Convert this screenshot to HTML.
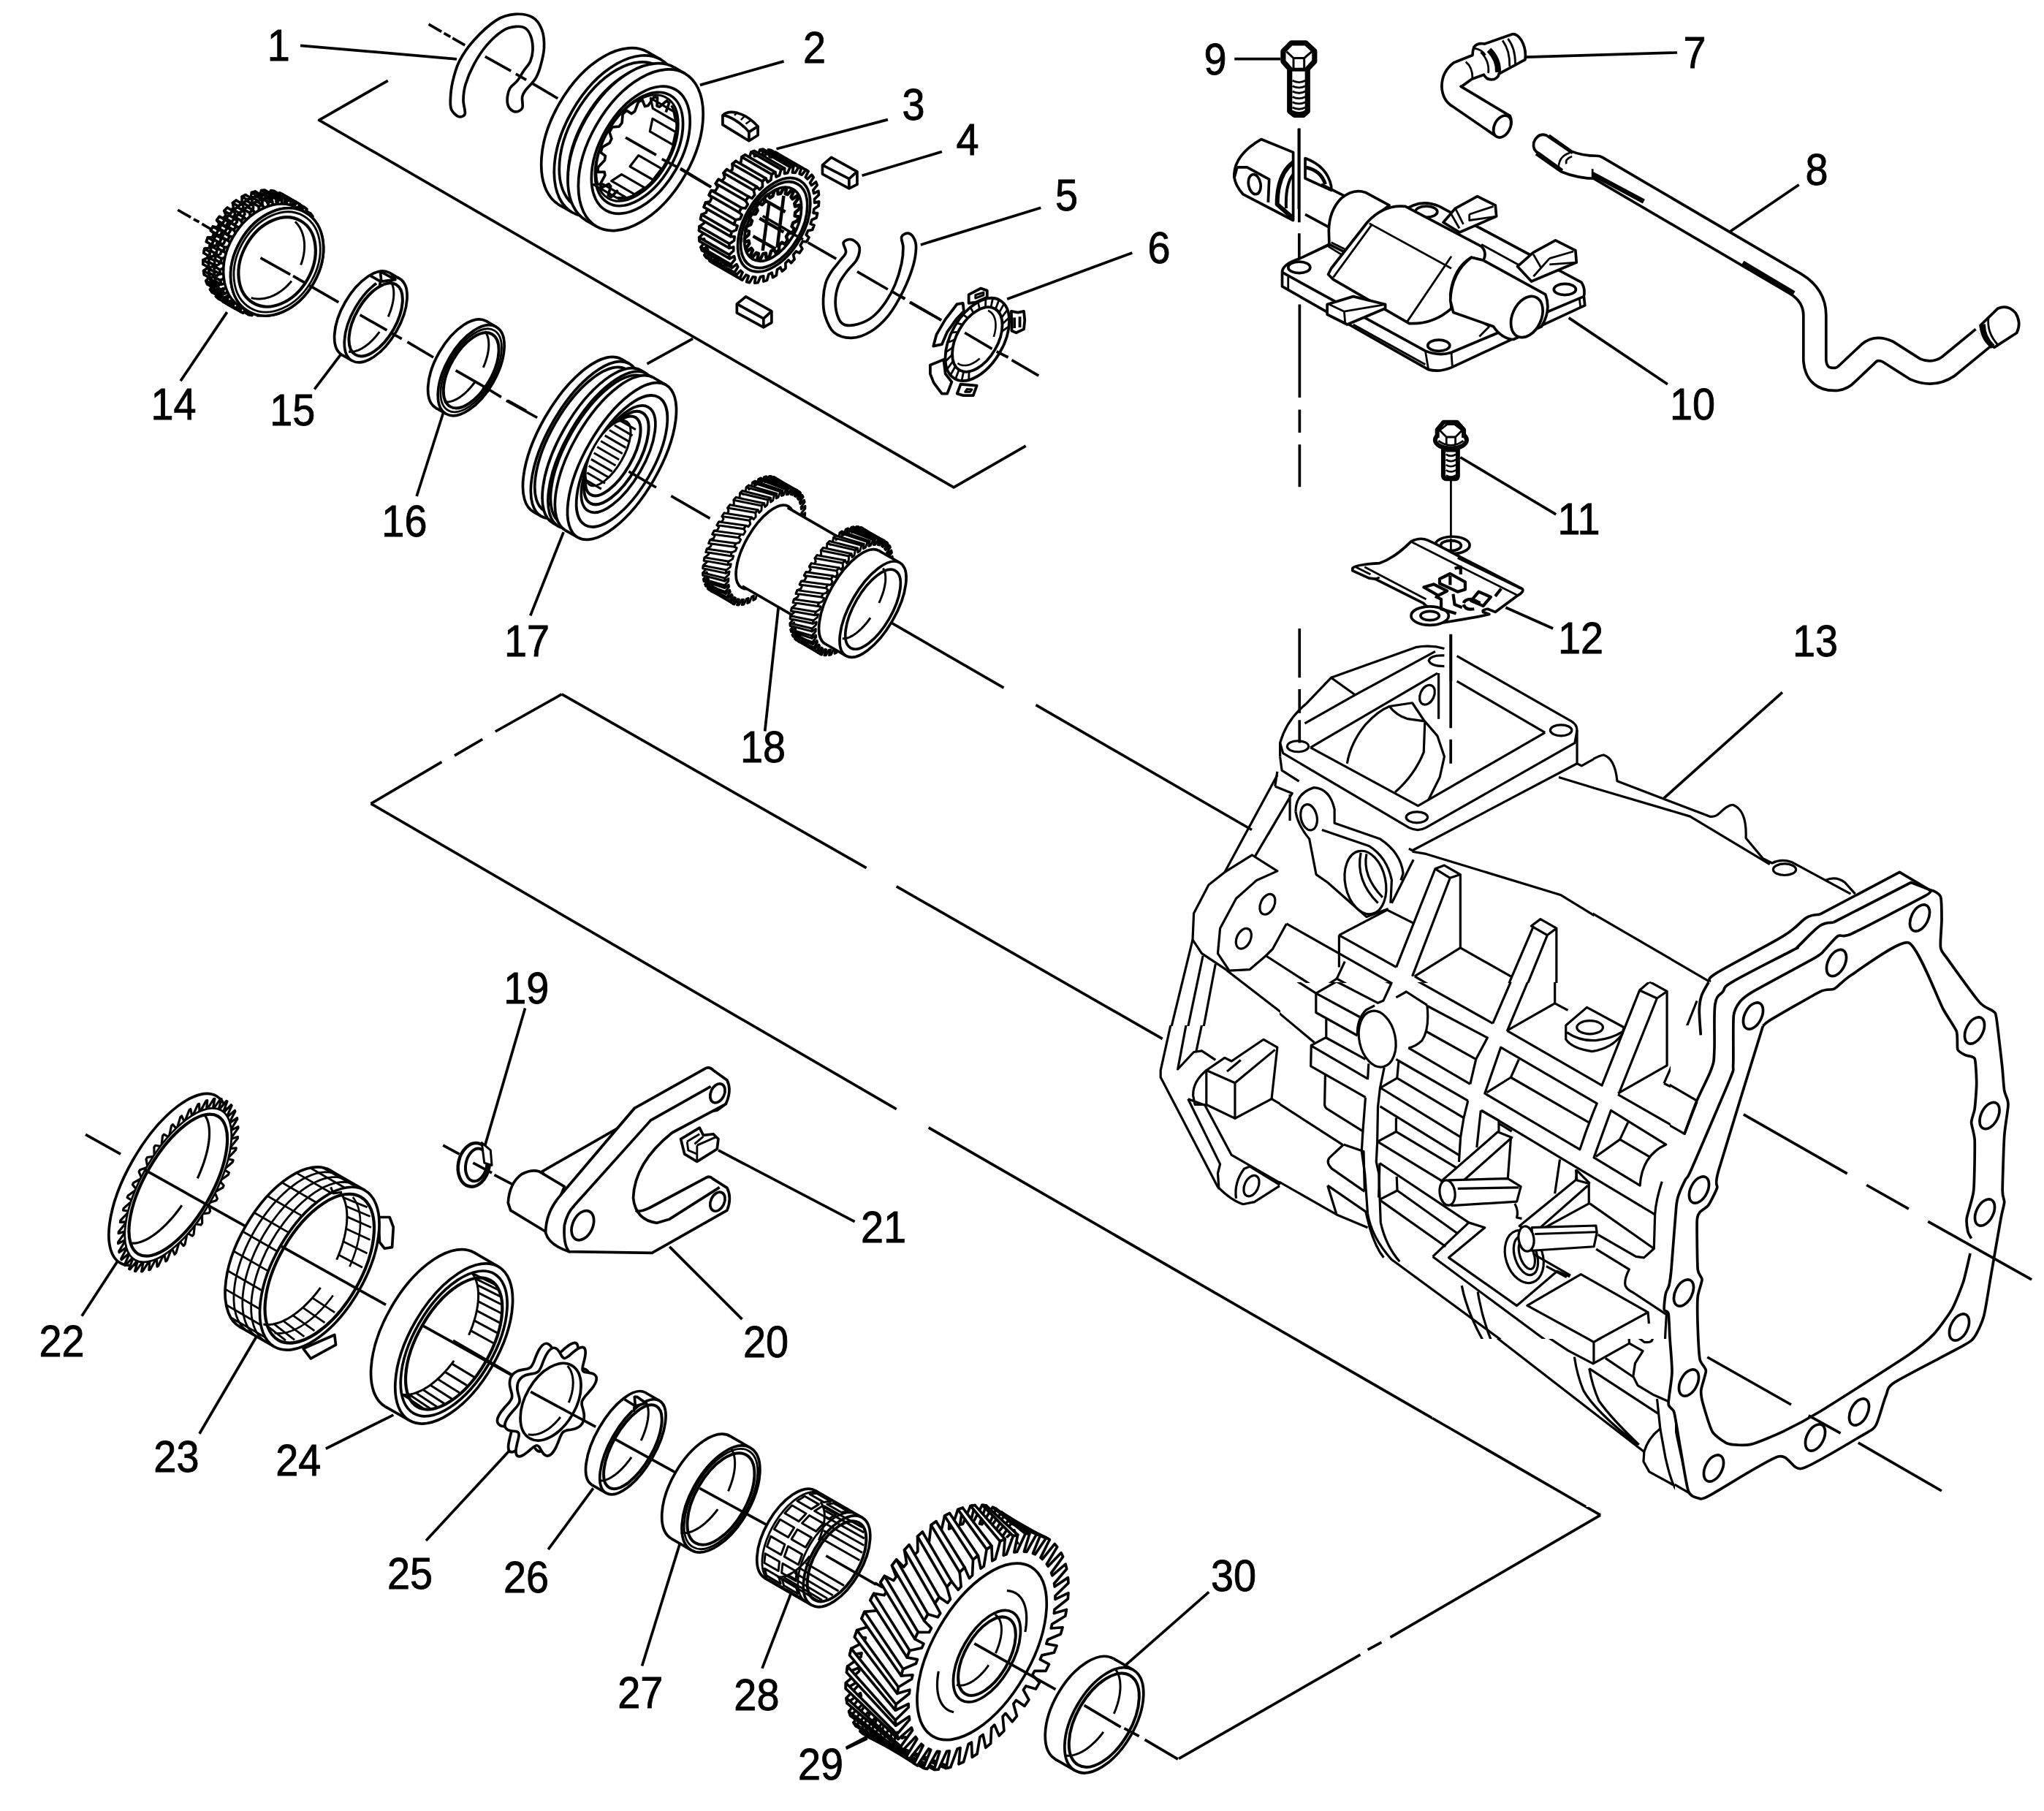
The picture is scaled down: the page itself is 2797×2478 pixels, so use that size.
<!DOCTYPE html>
<html><head><meta charset="utf-8"><title>Transmission exploded view</title>
<style>html,body{margin:0;padding:0;background:#fff}svg{display:block}text{font-family:"Liberation Sans",sans-serif;fill:#000}</style></head>
<body>
<svg xmlns="http://www.w3.org/2000/svg" width="2797" height="2478" viewBox="0 0 2797 2478" fill="none" stroke="#000" stroke-width="3.7" stroke-linecap="butt" stroke-linejoin="round">
<!-- p_05_lines -->
<path d="M530.8 110.3 L436.6 164.4 L1305.1 666.9 L1403.7 610.1" fill="none"/>
<path d="M768.8 949.9L677.8 1001M660.2 1011.5L622 1033.9M604.4 1042.7L507.5 1099.6" fill="none"/>
<path d="M507.5 1099.6L1226.7 1517.6M1270.7 1542.9L2190.1 2073.2" fill="none"/>
<path d="M2190.1 2073.2L1902.5 2240.3M1890.5 2247.1L1871.6 2257.4M1861.4 2264.2L1613.1 2406.4" fill="none"/>
<path d="M768.8 949.9L1185.6 1187.7M1226.7 1212.9L1590.7 1421.3" fill="none"/>
<path d="M1178.2 828.2L1373.5 941.1M1417.5 964.6L1713 1135.5" fill="none"/>
<!-- p_06_labels -->
<text transform="translate(381.2 82.7) scale(0.9 1)" font-size="62" text-anchor="middle" stroke="#000" stroke-width="0.9" stroke-linejoin="miter">1</text>
<text transform="translate(1114.4 86.1) scale(0.9 1)" font-size="62" text-anchor="middle" stroke="#000" stroke-width="0.9" stroke-linejoin="miter">2</text>
<text transform="translate(1459.6 287.5) scale(0.9 1)" font-size="62" text-anchor="middle" stroke="#000" stroke-width="0.9" stroke-linejoin="miter">5</text>
<text transform="translate(1586 359.5) scale(0.9 1)" font-size="62" text-anchor="middle" stroke="#000" stroke-width="0.9" stroke-linejoin="miter">6</text>
<text transform="translate(2484 898.1) scale(0.9 1)" font-size="62" text-anchor="middle" stroke="#000" stroke-width="0.9" stroke-linejoin="miter">13</text>
<text transform="translate(553.4 734.2) scale(0.9 1)" font-size="62" text-anchor="middle" stroke="#000" stroke-width="0.9" stroke-linejoin="miter">16</text>
<path d="M411 62.3L625 80.8M957.9 116.4L1072.6 83.9M1259.9 334.9L1424.3 284.2M1378.1 409.2L1549.3 345.9M2146.7 434.9L2281.9 525.7" fill="none"/>
<!-- p_10_top -->
<g transform="translate(560 0) scale(0.22091)" stroke-width="16.75">
<path d="M120 150L200 196M215 205L255 228M268 236L345 280" fill="none"/>
<path d="M305 722C291.2 717.8 270.3 697 262 680C253.7 663 254 648.3 255 620C256 591.7 258.8 550 268 510C277.2 470 288 423.3 310 380C332 336.7 361.7 292.5 400 250C438.3 207.5 497.5 152 540 125C582.5 98 617.5 90.8 655 88C692.5 85.2 737.2 91.8 765 108C792.8 124.2 810.3 153 822 185C833.7 217 837 260.8 835 300C833 339.2 819.2 388.3 810 420C800.8 451.7 795 466.7 780 490C765 513.3 733.3 541.7 720 560C706.7 578.3 703.3 581.7 700 600C696.7 618.3 707.5 654.7 700 670C692.5 685.3 669.2 693.7 655 692C640.8 690.3 622.8 675.3 615 660C607.2 644.7 606.3 619.2 608 600C609.7 580.8 614.7 561.7 625 545C635.3 528.3 656.2 517.5 670 500C683.8 482.5 694.7 460 708 440C721.3 420 740.5 401.7 750 380C759.5 358.3 764.2 335 765 310C765.8 285 762.5 252.5 755 230C747.5 207.5 735.8 185.8 720 175C704.2 164.2 683.3 162.5 660 165C636.7 167.5 610 170.8 580 190C550 209.2 510 245 480 280C450 315 422 359.2 400 400C378 440.8 358.8 488.3 348 525C337.2 561.7 335.5 590 335 620C334.5 650 350 688 345 705C340 722 318.8 726.2 305 722Z" fill="#fff"/>
<path d="M470 350L630 440M660 458L725 495M755 512L920 610" fill="none"/>
<ellipse cx="1204.5" cy="796.5" rx="315.6" ry="547" transform="rotate(30 1204.5 796.5)" fill="#fff"/>
<path d="M1478 322.8 L1557.7 368.8 L1010.7 1316.2 L931 1270.2Z" fill="#fff" stroke="none"/>
<path d="M1478 322.8L1557.7 368.8M931 1270.2L1010.7 1316.2" fill="none"/>
<ellipse cx="1284.2" cy="842.5" rx="315.6" ry="547" transform="rotate(30 1284.2 842.5)" fill="#fff"/>
<ellipse cx="1284.2" cy="842.5" rx="289.7" ry="502" transform="rotate(30 1284.2 842.5)" fill="#fff"/>
<path d="M1535.2 407.8 L1600.1 445.3 L1098.1 1314.7 L1033.2 1277.2Z" fill="#fff" stroke="none"/>
<path d="M1535.2 407.8L1600.1 445.3M1033.2 1277.2L1098.1 1314.7" fill="none"/>
<ellipse cx="1349.1" cy="880" rx="289.7" ry="502" transform="rotate(30 1349.1 880)" fill="#fff"/>
<ellipse cx="1349.1" cy="880" rx="298.3" ry="517" transform="rotate(30 1349.1 880)" fill="#fff"/>
<path d="M1607.6 432.3 L1627.5 443.8 L1110.5 1339.2 L1090.6 1327.7Z" fill="#fff" stroke="none"/>
<path d="M1607.6 432.3L1627.5 443.8M1090.6 1327.7L1110.5 1339.2" fill="none"/>
<ellipse cx="1369" cy="891.5" rx="298.3" ry="517" transform="rotate(30 1369 891.5)" fill="#fff"/>
<ellipse cx="1369" cy="891.5" rx="315.6" ry="547" transform="rotate(30 1369 891.5)" fill="#fff"/>
<path d="M1642.5 417.8 L1707.5 455.3 L1160.5 1402.7 L1095.5 1365.2Z" fill="#fff" stroke="none"/>
<path d="M1642.5 417.8L1707.5 455.3M1095.5 1365.2L1160.5 1402.7" fill="none"/>
<ellipse cx="1434" cy="929" rx="315.6" ry="547" transform="rotate(30 1434 929)" fill="#fff"/>
<ellipse cx="1434" cy="929" rx="249.3" ry="432" transform="rotate(30 1434 929)" fill="#fff"/>
<ellipse cx="1423.6" cy="923" rx="222.1" ry="385" transform="rotate(30 1423.6 923)" fill="#fff"/>
<ellipse cx="1412.3" cy="916.5" rx="207.7" ry="360" transform="rotate(30 1412.3 916.5)" fill="#fff" stroke-width="13.58"/>
<path d="M1490.7 814.6 L1633.6 897.1 L1650.3 817.6 L1507.4 735.1Z" fill="#fff" stroke-width="14.49"/>
<path d="M1508.9 671.5 L1651.8 754 L1638.2 691.1 L1495.3 608.6Z" fill="#fff" stroke-width="14.49"/>
<path d="M1142 1143 L1284.9 1225.5 L1342 1222.5 L1199.1 1140Z" fill="#fff" stroke-width="14.49"/>
<path d="M1252.6 1120.6 L1395.5 1203.1 L1458.1 1162.5 L1315.2 1080Z" fill="#fff" stroke-width="14.49"/>
<path d="M1367.1 1031.1 L1510 1113.6 L1563.5 1044.8 L1420.7 962.3Z" fill="#fff" stroke-width="14.49"/>
<path d="M1589.9 695.6 L1610.1 637.4 L1594.6 624 L1550.9 661.9 L1534.8 655.9 L1537.4 602.4 L1515.5 601.7 L1479.7 654 L1459.7 658.8 L1444.3 618.9 L1419.5 630.9 L1397.5 689 L1376.8 703.9 L1345.9 684 L1322.4 706.8 L1317.7 761.2 L1299.8 783.8 L1258.4 787.1 L1240 817 L1253.5 858.8 L1241.1 885.3 L1196.1 911.4 L1185.7 943.4 L1215.1 965.8 L1210.5 992 L1169.1 1036.6 L1168.6 1065.5 L1209.1 1064.8 L1212.9 1086.3 L1182 1142 L1191.3 1163.2 L1236.3 1139.5 L1247.9 1152.9 L1232.5 1210.7 L1250.2 1220.6 L1292.3 1177.8" fill="none"/>
<path d="M1290.3 1230.9 L1304.4 1231.4 L1319 1230.6 L1333.9 1228.5 L1349.2 1225 L1364.7 1220.2 L1380.4 1214.1 L1396.3 1206.8 L1412.3 1198.1 L1428.2 1188.3 L1444.1 1177.3 L1459.9 1165.3 L1475.4 1152.1 L1490.7 1137.9 L1505.6 1122.8 L1520.1 1106.8 L1534.2 1090 L1547.8 1072.4 L1560.8 1054.2 L1573.1 1035.4 L1584.7 1016 L1595.7 996.3 L1605.8 976.2 L1615.1 955.8 L1623.5 935.3 L1631 914.7 L1637.6 894.1 L1643.3 873.6 L1647.9 853.3 L1651.5 833.3 L1654.1 813.6 L1655.7 794.3 L1656.2 775.6 L1655.7 757.5 L1654.2 740.1 L1651.6 723.4 L1647.9 707.5 L1643.3 692.6 L1637.7 678.6 L1631.1 665.6 L1623.6 653.7" fill="none" stroke-width="14.49"/>
<path d="M1340 852L1530 960M1565 985L1660 1035M1680 1048L1870 1160" fill="none"/>
</g>
<!-- p_11_hub -->
<g transform="translate(920 100) scale(0.22091)" stroke-width="16.75">
<path d="M50 590L240 705" fill="none"/>
<path d="M645 470L1335 288"/>
<path d="M1175 635L1670 487"/>
<path d="M312 262 C350 225 440 235 530 330 L530 385 L475 420 L312 320 Z" fill="#fff"/>
<path d="M312 262 C345 262 420 300 475 365 L475 420 M475 365 L530 330" fill="none"/>
<path d="M385 262L405 240M425 290L452 262M455 315L490 290" fill="none" stroke-width="11.32"/>
<path d="M930 570 L985 522 L1145 610 L1145 690 L1095 715 L930 625Z" fill="#fff"/>
<path d="M930 570 L1095 655 L1145 610 M1095 655 L1095 715" fill="none"/>
<path d="M400 1430 L455 1385 L615 1475 L615 1545 L565 1575 L400 1485Z" fill="#fff"/>
<path d="M400 1430 L565 1520 L615 1475 M565 1520 L565 1575" fill="none"/>
<path d="M621.2 934.9 L645.6 937.6 L660.2 909.9 L642.7 894.2 L654.2 868.8 L681.1 863.7 L691.9 835.2 L670.2 826.8 L678.1 801 L706.2 788.6 L712.8 760.3 L687.7 759.5 L691.6 734.6 L719.9 715.3 L721.9 688.7 L694.7 695.5 L694.4 672.6 L721.5 647.2 L718.9 623.3 L690.6 637.4 L686.2 617.5 L711 587.1 L703.9 567 L675.8 587.9 L667.4 571.8 L688.7 537.8 L677.4 522.4 L650.8 549 L638.9 537.5 L655.8 501.4 L640.8 491.3 L616.8 522.6 L601.8 516 L613.7 479.4 L595.6 475.1 L575.2 509.7 L557.8 508.5 L564 472.9 L543.7 474.6 L527.9 510.9 L508.8 515 L509.2 482.1 L487.5 489.6 L476.9 526.1 L457 535.5 L451.5 506.6 L429.3 519.7 L424.5 554.8 L404.6 568.9 L393.4 545.3 L371.8 563.5 L372.9 595.6 L353.9 613.9 L337.6 596.6 L317.4 619 L324.4 646.7 L307.2 668.4 L286.4 658.2 L268.6 683.8 L281.1 706 L266.4 730.1 L242 727.4 L227.4 755.1 L244.9 770.8 L233.4 796.2 L206.5 801.3 L195.7 829.8 L217.4 838.2 L209.6 864 L181.4 876.4 L174.8 904.7 L199.9 905.5 L196 930.4 L167.7 949.7 L165.7 976.3 L193 969.5 L193.2 992.4 L166.1 1017.8 L168.7 1041.7 L197 1027.6 L201.4 1047.5 L176.7 1077.9 L183.8 1098 L211.8 1077.1 L220.2 1093.2 L198.9 1127.2 L210.2 1142.6 L236.8 1116 L248.7 1127.5 L231.8 1163.6 L246.8 1173.7 L270.8 1142.4 L285.8 1149 L274 1185.6 L292 1189.9 L312.4 1155.3 L329.8 1156.5 L323.6 1192.1 L343.9 1190.4 L359.7 1154.1 L378.8 1150 L378.4 1182.9 L400.2 1175.4 L410.7 1138.9 L430.6 1129.5 L436.1 1158.4 L458.3 1145.3 L463.2 1110.2 L483 1096.1 L494.2 1119.7 L515.8 1101.5 L514.8 1069.4 L533.7 1051.1 L550 1068.4 L570.2 1046 L563.2 1018.3 L580.4 996.6 L601.2 1006.8 L619 981.2 L606.5 959Z" fill="#fff"/>
<path d="M621.3 525.1 L807.5 632.6 L452.5 1247.4 L266.3 1139.9Z" fill="#fff" stroke="none"/>
<path d="M655.8 501.4 L842 608.9 L827 598.8 L640.8 491.3Z" fill="#fff"/>
<path d="M613.7 479.4 L799.8 586.9 L781.8 582.6 L595.6 475.1Z" fill="#fff"/>
<path d="M564 472.9 L750.2 580.4 L729.9 582.1 L543.7 474.6Z" fill="#fff"/>
<path d="M509.2 482.1 L695.4 589.6 L673.7 597.1 L487.5 489.6Z" fill="#fff"/>
<path d="M451.5 506.6 L637.7 614.1 L615.5 627.2 L429.3 519.7Z" fill="#fff"/>
<path d="M393.4 545.3 L579.6 652.8 L558 671 L371.8 563.5Z" fill="#fff"/>
<path d="M337.6 596.6 L523.8 704.1 L503.6 726.5 L317.4 619Z" fill="#fff"/>
<path d="M286.4 658.2 L472.6 765.7 L454.8 791.3 L268.6 683.8Z" fill="#fff"/>
<path d="M242 727.4 L428.2 834.9 L413.6 862.6 L227.4 755.1Z" fill="#fff"/>
<path d="M206.5 801.3 L392.7 908.8 L381.9 937.3 L195.7 829.8Z" fill="#fff"/>
<path d="M181.4 876.4 L367.6 983.9 L361 1012.2 L174.8 904.7Z" fill="#fff"/>
<path d="M167.7 949.7 L353.9 1057.2 L351.9 1083.8 L165.7 976.3Z" fill="#fff"/>
<path d="M166.1 1017.8 L352.3 1125.3 L354.9 1149.2 L168.7 1041.7Z" fill="#fff"/>
<path d="M176.7 1077.9 L362.8 1185.4 L370 1205.5 L183.8 1098Z" fill="#fff"/>
<path d="M198.9 1127.2 L385.1 1234.7 L396.4 1250.1 L210.2 1142.6Z" fill="#fff"/>
<path d="M231.8 1163.6 L418 1271.1 L433 1281.2 L246.8 1173.7Z" fill="#fff"/>
<path d="M807.4 1042.4 L831.8 1045.1 L846.4 1017.4 L828.9 1001.7 L840.4 976.3 L867.3 971.2 L878.1 942.7 L856.4 934.3 L864.3 908.5 L892.4 896.1 L899 867.8 L873.9 867 L877.8 842.1 L906.1 822.8 L908.1 796.2 L880.9 803 L880.6 780.1 L907.7 754.7 L905.1 730.8 L876.8 744.9 L872.4 725 L897.2 694.6 L890 674.5 L862 695.4 L853.6 679.3 L874.9 645.3 L863.6 629.9 L837 656.5 L825.1 645 L842 608.9 L827 598.8 L803 630.1 L788 623.5 L799.8 586.9 L781.8 582.6 L761.4 617.2 L744 616 L750.2 580.4 L729.9 582.1 L714.1 618.4 L695 622.5 L695.4 589.6 L673.7 597.1 L663.1 633.6 L643.2 643 L637.7 614.1 L615.5 627.2 L610.6 662.3 L590.8 676.4 L579.6 652.8 L558 671 L559.1 703.1 L540.1 721.4 L523.8 704.1 L503.6 726.5 L510.6 754.2 L493.4 775.9 L472.6 765.7 L454.8 791.3 L467.3 813.5 L452.6 837.6 L428.2 834.9 L413.6 862.6 L431.1 878.3 L419.6 903.7 L392.7 908.8 L381.9 937.3 L403.6 945.7 L395.7 971.5 L367.6 983.9 L361 1012.2 L386.1 1013 L382.2 1037.9 L353.9 1057.2 L351.9 1083.8 L379.1 1077 L379.4 1099.9 L352.3 1125.3 L354.9 1149.2 L383.2 1135.1 L387.6 1155 L362.8 1185.4 L370 1205.5 L398 1184.6 L406.4 1200.7 L385.1 1234.7 L396.4 1250.1 L423 1223.5 L434.9 1235 L418 1271.1 L433 1281.2 L457 1249.9 L472 1256.5 L460.2 1293.1 L478.2 1297.4 L498.6 1262.8 L516 1264 L509.8 1299.6 L530.1 1297.9 L545.9 1261.6 L565 1257.5 L564.6 1290.4 L586.3 1282.9 L596.9 1246.4 L616.8 1237 L622.3 1265.9 L644.5 1252.8 L649.4 1217.7 L669.2 1203.6 L680.4 1227.2 L702 1209 L700.9 1176.9 L719.9 1158.6 L736.2 1175.9 L756.4 1153.5 L749.4 1125.8 L766.6 1104.1 L787.4 1114.3 L805.2 1088.7 L792.7 1066.5Z" fill="#fff"/>
<ellipse cx="630" cy="940" rx="183.5" ry="318" transform="rotate(30 630 940)" fill="#fff"/>
<ellipse cx="630" cy="940" rx="168.5" ry="292" transform="rotate(30 630 940)" fill="#fff"/>
<ellipse cx="623.1" cy="936" rx="144.2" ry="250" transform="rotate(30 623.1 936)" fill="#fff"/>
<path d="M719.4 991.6 L743.1 990.8 L756 964.6 L739.9 950.2 L748.3 927.4 L774.3 915 L780.9 888.5 L758.7 885.4 L761.4 863.7 L786.6 841.4 L786 817.8 L760.5 826.3 L757 808.3 L778.4 778.7 L770.8 760.9 L745 780 L735.7 767.9 L750.7 734.6 L737 724.7 L714 752.1 L700.2 747.4 L707 714.4 L688.8 713.5 L671.3 746 L654.6 749.2 L652.3 720.5 L631.8 728.8 L622.1 762.3 L604.4 773.1 L593.4 752.1 L573.1 768.6 L572.3 799.2 L555.8 816.2 L537.4 805.5 L519.7 828.2 L527.8 852.2 L514.6 873.4 L491 874.2 L478.1 900.4 L494.1 914.8 L485.7 937.6 L459.7 950 L453.1 976.5 L475.3 979.6 L472.7 1001.3 L447.5 1023.6 L448 1047.2 L473.5 1038.7 L477 1056.7 L455.6 1086.3 L463.2 1104.1 L489 1085 L498.3 1097.1 L483.3 1130.4 L497 1140.3 L520 1112.9 L533.9 1117.6 L527.1 1150.6 L545.3 1151.5 L562.7 1119 L579.5 1115.8 L581.7 1144.5 L602.2 1136.2 L611.9 1102.7 L629.6 1091.9 L640.6 1112.9 L660.9 1096.4 L661.7 1065.8 L678.2 1048.8 L696.6 1059.5 L714.3 1036.8 L706.2 1012.8Z" fill="#fff" stroke-width="20.37"/>
<path d="M560 780L700 860M540 900L690 985M500 1010L640 1090M600 800L560 1100M690 760L650 1080" fill="none" stroke-width="20.37"/>
<path d="M560 885L740 990M745 995L810 1030M840 1050L1015 1150" fill="none"/>
<path d="M1060 1050C1055 1063.3 1078.3 1091.7 1075 1110C1071.7 1128.3 1055 1140 1040 1160C1025 1180 1000 1206.7 985 1230C970 1253.3 958.3 1271.7 950 1300C941.7 1328.3 935.8 1366.7 935 1400C934.2 1433.3 934.2 1465.8 945 1500C955.8 1534.2 972.5 1581.7 1000 1605C1027.5 1628.3 1071.7 1640.8 1110 1640C1148.3 1639.2 1191.7 1623.3 1230 1600C1268.3 1576.7 1306.7 1541.7 1340 1500C1373.3 1458.3 1405 1400 1430 1350C1455 1300 1476.7 1245 1490 1200C1503.3 1155 1509.2 1110 1510 1080C1510.8 1050 1503.3 1034.7 1495 1020C1486.7 1005.3 1472.5 992.8 1460 992C1447.5 991.2 1425 1000.3 1420 1015C1415 1029.7 1430 1052.5 1430 1080C1430 1107.5 1428.3 1141.7 1420 1180C1411.7 1218.3 1396.7 1270 1380 1310C1363.3 1350 1343.3 1386.7 1320 1420C1296.7 1453.3 1268.3 1487.5 1240 1510C1211.7 1532.5 1178.3 1546.7 1150 1555C1121.7 1563.3 1090 1565.8 1070 1560C1050 1554.2 1040 1543.3 1030 1520C1020 1496.7 1010 1455 1010 1420C1010 1385 1018.3 1341.7 1030 1310C1041.7 1278.3 1061.7 1255 1080 1230C1098.3 1205 1126.7 1181.7 1140 1160C1153.3 1138.3 1158.3 1116.7 1160 1100C1161.7 1083.3 1159.2 1071.7 1150 1060C1140.8 1048.3 1120 1031.7 1105 1030C1090 1028.3 1065 1036.7 1060 1050Z" fill="#fff"/>
<path d="M1145 1230L1335 1340M1365 1355L1440 1400M1470 1420L1665 1530" fill="none"/>
</g>
<text transform="translate(1250 164.1) scale(0.9 1)" font-size="62" text-anchor="middle" stroke="#000" stroke-width="0.9" stroke-linejoin="miter">3</text>
<text transform="translate(1324 212.1) scale(0.9 1)" font-size="62" text-anchor="middle" stroke="#000" stroke-width="0.9" stroke-linejoin="miter">4</text>
<!-- p_12_ring6 -->
<g transform="translate(1230 340) scale(0.12261)" stroke-width="30.18">
<path d="M0 520L70 560M130 600L475 800" fill="none"/>
<path d="M780 610 L780 515 L915 445 L985 470 L985 545 L860 600Z" fill="#fff" stroke-width="30.99"/>
<path d="M855 555 L855 520 L945 490 L945 520Z" fill="#fff" stroke-width="24.47"/>
<path d="M385 1090 L420 960 L520 790 L650 620 L715 610 L725 700 L640 790 L540 930 L480 1070Z" fill="#fff" stroke-width="30.99"/>
<path d="M1255 700 L1330 715 L1395 700 L1405 800 L1395 900 L1310 940 L1260 920Z" fill="#fff" stroke-width="30.99"/>
<path d="M1290 770L1290 890M1350 760L1350 880" fill="none" stroke-width="30.99"/>
<path d="M650 1620 L690 1515 L870 1530 L830 1640 L720 1640Z" fill="#fff" stroke-width="30.99"/>
<path d="M740 1600 L760 1570 L815 1575 L795 1600Z" fill="#fff" stroke-width="24.47"/>
<path d="M350 1300 L500 1240 L520 1400 L590 1490 L540 1620 L480 1620 L390 1500 L350 1400Z" fill="#fff" stroke-width="30.99"/>
<ellipse cx="875" cy="1015" rx="291.4" ry="505" transform="rotate(30 875 1015)" fill="#fff" stroke-width="30.99"/>
<ellipse cx="875" cy="1015" rx="227.9" ry="395" transform="rotate(30 875 1015)" fill="none" stroke-width="30.99"/>
<path d="M1147.8 926.1L1228.2 870.5M1154.1 845.1L1230.3 769.9M1144.2 773.9L1211.8 683.6M1118.7 716.8L1173.7 616.6M1079 676.9L1118.2 572.7M1027.5 656.8L1048.6 554.5M967 657.4L968.9 563M901.3 678.8L883.7 597.9M834 719.8L798.1 656.9M769.1 777.9L716.9 736.8M710.3 849.8L644.9 832.9M661.2 931.3L586.3 939.5M624.4 1017.7L544.4 1050.5M602.2 1103.9L521.8 1159.5M595.9 1184.9L519.7 1260.1M605.8 1256.1L538.2 1346.4M631.3 1313.2L576.3 1413.4M671 1353.1L631.8 1457.3M722.5 1373.2L701.4 1475.5M783 1372.6L781.1 1467" fill="none" stroke-width="22.84"/>
<path d="M1058.2 986.5 L1061.4 976.3 L1064.3 966.2 L1067.1 956.1 L1069.6 946 L1071.8 936 L1073.8 926.1 L1075.5 916.2 L1077 906.5 L1078.3 896.8 L1079.3 887.2 L1080 877.7 L1080.5 868.4 L1080.7 859.2 L1080.6 850.1 L1080.3 841.2 L1079.8 832.5 L1079 823.9 L1077.9 815.5 L1076.6 807.4 L1075 799.4 L1073.2 791.6 L1071.1 784 L1068.8 776.7 L1066.2 769.6 L1063.4 762.7 L1060.4 756.1 L1057.1 749.8 L1053.6 743.7 L1049.8 737.9 L1045.9 732.3 L1041.7 727 L1037.3 722.1 L1032.7 717.4 L1027.8 713 L1022.8 708.9 L1017.6 705.1 L1012.2 701.6 L1006.6 698.5 L1000.8 695.6 L994.9 693.1" fill="none" stroke-width="21.21"/>
<path d="M656.2 1279.8 L660.7 1283.2 L665.2 1286.3 L670 1289.2 L674.9 1291.9 L679.9 1294.4 L685 1296.6 L690.3 1298.5 L695.7 1300.2 L701.2 1301.7 L706.8 1302.9 L712.5 1303.9 L718.3 1304.6 L724.2 1305.1 L730.2 1305.3 L736.3 1305.3 L742.5 1305 L748.8 1304.5 L755.1 1303.8 L761.5 1302.7 L768 1301.5 L774.5 1300 L781.1 1298.2 L787.8 1296.2 L794.4 1294 L801.1 1291.5 L807.9 1288.8 L814.6 1285.8 L821.4 1282.6 L828.2 1279.2 L835 1275.5 L841.9 1271.7 L848.7 1267.6 L855.5 1263.2 L862.3 1258.7 L869.1 1254 L875.8 1249 L882.5 1243.8 L889.2 1238.5 L895.9 1232.9 L902.5 1227.2" fill="none" stroke-width="21.21"/>
<path d="M735 940L1040 1120M1090 1150L1220 1215M1260 1245L1560 1420" fill="none"/>
</g>
<!-- p_20_cover -->
<g transform="translate(1640 20) scale(0.14691)" stroke-width="25.18">
<path d="M335 412L765 412"/>
<path d="M935 1062L935 1811"/>
<path d="M789 340 L865 264 L1000 264 L1081 340 L1081 436 L1016 505 L1016 900 L975 936 L895 936 L849 900 L849 505 L789 436Z" fill="#fff" stroke-width="49.01"/>
<path d="M849 512L1016 512" fill="none" stroke-width="34.03"/>
<path d="M885 405L885 505M985 405L985 505M885 405L985 405M820 345L885 405M1055 345L985 405" fill="none" stroke-width="20.42"/>
<path d="M875 615 Q935 645 995 615" fill="none" stroke-width="19.06"/>
<path d="M875 665 Q935 695 995 665" fill="none" stroke-width="19.06"/>
<path d="M875 715 Q935 745 995 715" fill="none" stroke-width="19.06"/>
<path d="M875 765 Q935 795 995 765" fill="none" stroke-width="19.06"/>
<path d="M875 815 Q935 845 995 815" fill="none" stroke-width="19.06"/>
<path d="M875 865 Q935 895 995 865" fill="none" stroke-width="19.06"/>
<path d="M875 900 Q935 930 995 900" fill="none" stroke-width="19.06"/>
</g>
<text transform="translate(1663 102.1) scale(0.9 1)" font-size="62" text-anchor="middle" stroke="#000" stroke-width="0.9" stroke-linejoin="miter">9</text>
<g transform="translate(1660 170) scale(0.27397)" stroke-width="13.51">
<path d="M345 740 Q345 700 430 672 L1000 405 Q1060 380 1130 410 L1840 790 Q1860 820 1852 860 L1857 905 L1190 1215 Q1130 1240 1075 1225 L345 810 Z" fill="#fff"/>
<path d="M345 740 L1060 1132 Q1130 1160 1190 1140 L1852 860" fill="none"/>
<path d="M375 762L375 828M1060 1132L1075 1222M1190 1140L1195 1212M1830 872L1835 915" fill="none" stroke-width="10.22"/>
<ellipse cx="430" cy="715" rx="55" ry="28" fill="#fff"/>
<ellipse cx="1065" cy="437" rx="55" ry="28" fill="#fff"/>
<ellipse cx="1757" cy="825" rx="55" ry="28" fill="#fff"/>
<ellipse cx="1127" cy="1105" rx="55" ry="28" fill="#fff"/>
<path d="M700 1000L1060 1200M1200 905L1380 1010M1380 1010L1330 1060M1340 600L1540 710M1330 515L1600 660" fill="none" stroke-width="10.22"/>
<path d="M105 250 Q110 150 240 75 L400 140 L400 480 L150 350 Q105 300 105 250Z" fill="#fff"/>
<path d="M120 215 L170 215 L280 275 L275 390 M105 270 L120 215" fill="none"/>
<ellipse cx="207" cy="300" rx="30" ry="50" fill="#fff" transform="rotate(-10 207 300)"/>
<path d="M400 190 Q320 250 320 400 L400 470" fill="none" stroke-width="21.90"/>
<path d="M400 250 Q360 300 365 420" fill="none" stroke-width="14.60"/>
<path d="M460 170 Q570 210 590 310 L590 330 L460 270 Z" fill="#fff"/>
<path d="M460 215 Q540 230 560 300" fill="none" stroke-width="18.25"/>
<path d="M460 285 L700 400 L620 560 L460 460 Z" fill="#fff" stroke="none"/>
<path d="M540 300L700 380M460 450L580 515" fill="none"/>
<path d="M880 405 L760 340 Q700 320 640 370 Q580 430 578 530 L580 600 L660 640 L780 480 Z" fill="#fff"/>
<path d="M590 590L660 625M575 610L640 650" fill="none" stroke-width="10.22"/>
<path d="M465 655L575 600" stroke-width="10.22"/>
<path d="M575 750 L590 720 L770 490 Q850 400 960 410 L1340 610 Q1370 640 1350 680 L1290 665 Q1200 720 1185 850 L1190 920 Q1100 1000 980 995 L600 775 Z" fill="#fff"/>
<path d="M780 495 L1190 720 M1190 660 L970 985 M600 765 L790 505" fill="none" stroke-width="10.22"/>
<path d="M1290 665 Q1190 740 1185 880 L1200 940 L1400 1010 Q1440 1070 1500 1075 L1640 1010 Q1690 930 1660 850 L1350 680 Z" fill="#fff"/>
<ellipse cx="1567" cy="962" rx="72" ry="108" fill="#fff" transform="rotate(25 1567 962)"/>
<path d="M1640 870 L1300 690" fill="none" stroke-width="10.22" stroke="none"/>
<path d="M570 900 L700 860 L860 900 L860 920 L670 1000 L570 950 Z" fill="#fff"/>
<path d="M655 935 L860 900 M655 935 L660 1000 M580 900 L655 935" fill="none" stroke-width="10.22"/>
<path d="M1150 490 L1210 420 L1320 360 L1410 405 L1415 460 L1230 540 Z" fill="#fff"/>
<path d="M1280 450 L1400 410 M1280 450 L1280 480 L1415 460 M1210 420 L1250 500 M1190 450 L1230 520" fill="none" stroke-width="10.22"/>
<path d="M1520 710 L1600 640 L1710 580 L1810 630 L1815 690 L1590 785 Z" fill="#fff"/>
<path d="M1680 670 L1800 635 M1680 670 L1600 760 M1600 650 L1640 720 M1680 700 L1815 690" fill="none" stroke-width="10.22"/>
<path d="M430 20L430 490M430 545L430 668M432 900L432 1365M432 1425L432 1540M432 1600L432 1811" fill="none"/>
</g>
<!-- p_21_tubes -->
<g transform="translate(1940 20) scale(0.20548)" stroke-width="18.01">
<path d="M720 283L1728 253"/>
<path d="M715 300 Q725 230 690 170 Q660 125 630 130 L445 195 Q400 185 375 215 Q365 240 365 270 L240 320 Q160 380 160 480 Q165 570 230 610 L500 795 Q545 830 590 790 Q640 730 615 675 L290 480 L360 430 L440 400 Q460 440 510 430 Q540 415 540 395 Z" fill="#fff"/>
<ellipse cx="563" cy="745" rx="52" ry="78" fill="#fff" transform="rotate(28 563 745)"/>
<path d="M600 160 Q650 220 650 330 M565 172 Q615 240 612 345" fill="none" stroke-width="13.63"/>
<path d="M475 235 Q540 300 535 385" fill="none" stroke-width="38.93"/>
<path d="M420 250 Q480 310 470 390 M320 315 Q365 350 365 425 M380 225 Q430 235 450 270" fill="none" stroke-width="13.63"/>
<path d="M290 480 L280 475" fill="none" stroke-width="13.63"/>
</g>
<text transform="translate(2319 93.1) scale(0.9 1)" font-size="62" text-anchor="middle" stroke="#000" stroke-width="0.9" stroke-linejoin="miter">7</text>
<text transform="translate(2486 253.1) scale(0.9 1)" font-size="62" text-anchor="middle" stroke="#000" stroke-width="0.9" stroke-linejoin="miter">8</text>
<text transform="translate(2316 574.1) scale(0.9 1)" font-size="62" text-anchor="middle" stroke="#000" stroke-width="0.9" stroke-linejoin="miter">10</text>
<g transform="translate(2097 0) scale(0.34247)" stroke-width="10.80">
<path d="M790 925L1065 738"/>
<path d="M40 578 L135 645 Q190 668 257 668 L1050 1133 Q1128 1180 1128 1260 L1128 1440 Q1135 1520 1215 1515 Q1240 1512 1260 1490 L1345 1410 Q1375 1385 1420 1405 L1530 1475 Q1600 1505 1660 1465 L1800 1350" fill="none" stroke-width="101.32" stroke-linecap="butt"/>
<path d="M40 578 L135 645 Q190 668 257 668 L1050 1133 Q1128 1180 1128 1260 L1128 1440 Q1135 1520 1215 1515 Q1240 1512 1260 1490 L1345 1410 Q1375 1385 1420 1405 L1530 1475 Q1600 1505 1660 1465 L1800 1350" fill="none" stroke-width="79.72" stroke="#fff" stroke-linecap="butt"/>
<path d="M160 612 L55 540 Q20 530 5 570 Q0 600 25 612 L120 680" fill="#fff"/>
<path d="M150 610 Q100 625 105 680 M158 625 Q130 635 135 655" fill="none" stroke-width="7.59"/>
<path d="M240 675L240 712" fill="none" stroke-width="8.18"/>
<path d="M240 695L445 805M840 1050L1045 1172" fill="none" stroke-width="18.98"/>
<path d="M1790 1300 L1860 1232 Q1900 1215 1930 1250 Q1955 1290 1935 1330 L1845 1388 Q1800 1370 1790 1300Z" fill="#fff"/>
<path d="M1822 1270 Q1815 1330 1860 1378" fill="none" stroke-width="8.18"/>
<path d="M1800 1295 Q1800 1350 1840 1385" fill="none" stroke-width="20.44"/>
</g>
<!-- p_22_bolt11 -->
<g transform="translate(1820 560) scale(0.20548)" stroke-width="18.01">
<path d="M868 320L1505 700"/>
<path d="M1170 1320L1485 1460"/>
<path d="M805 470L805 945" stroke-width="13.63"/>
<path d="M754 270 L754 445 Q758 462 775 464 L835 464 Q848 462 851 445 L851 270 Z" fill="#fff" stroke-width="29.20"/>
<ellipse cx="805" cy="205" rx="105" ry="56" fill="#fff" stroke-width="29.20"/>
<path d="M714 190 L714 136 L756 86 L846 86 L891 136 L891 190" fill="#fff" stroke-width="29.20"/>
<path d="M730 140 L780 100 L830 100 L880 140 L835 185 L775 185 Z M775 185 L775 240 M835 185 L835 240 M722 210 Q805 270 888 210" fill="none" stroke-width="13.63"/>
<path d="M772 300 Q805 322 838 300" fill="none" stroke-width="12.65"/>
<path d="M772 335 Q805 357 838 335" fill="none" stroke-width="12.65"/>
<path d="M772 370 Q805 392 838 370" fill="none" stroke-width="12.65"/>
<path d="M772 405 Q805 427 838 405" fill="none" stroke-width="12.65"/>
<path d="M772 440 Q805 462 838 440" fill="none" stroke-width="12.65"/>
<ellipse cx="815" cy="905" rx="115" ry="57" fill="#fff"/>
<ellipse cx="805" cy="908" rx="68" ry="34" fill="#fff"/>
<path d="M805 860L805 945" stroke-width="13.63"/>
<path d="M150 1060 Q160 1035 330 1025 Q430 990 540 880 Q600 850 650 872 L700 895 L870 985 L1280 1195 Q1295 1215 1250 1240 L1100 1350 L1050 1330 Q1010 1335 1020 1350 L1060 1365 Q1000 1380 880 1400 L760 1420 L620 1290 L300 1130 L260 1125 L150 1075 Z" fill="#fff"/>
<path d="M545 885L1250 1240M850 990L1270 1195M170 1050L270 1100M300 1130L330 1120M230 1050L640 1265" fill="none" stroke-width="13.63"/>
<ellipse cx="665" cy="1375" rx="125" ry="62" fill="#fff"/>
<ellipse cx="665" cy="1375" rx="62" ry="30" fill="#fff"/>
<path d="M625 1185 L690 1165 L780 1210 L720 1240 Z M730 1130 L800 1095 L900 1150 L900 1200 L850 1215 L730 1160 Z M800 1110 L800 1170 M830 1060 L870 1050 L870 1100 M990 1215 L1070 1250 L1020 1310 L940 1275 Z M890 1290 Q900 1260 950 1265 L1000 1290 M890 1300 Q900 1340 960 1330 M1100 1245 L1140 1195 M700 1245 L740 1265 L740 1330 L840 1360 M820 1230 L830 1300 L880 1320" fill="none" stroke-width="20.44"/>
<path d="M805 1500L805 1811" fill="none"/>
</g>
<text transform="translate(2160.5 730.7) scale(0.9 1)" font-size="62" text-anchor="middle" stroke="#000" stroke-width="0.9" stroke-linejoin="miter">11</text>
<text transform="translate(2163 894.4) scale(0.9 1)" font-size="62" text-anchor="middle" stroke="#000" stroke-width="0.9" stroke-linejoin="miter">12</text>
<!-- p_28_housing1 -->
<clipPath id="c1"><path d="M1500 800H2181V1404H1500ZM1752 1345H2181V1404H1752Z" clip-rule="evenodd"/></clipPath><g clip-path="url(#c1)">
<g transform="translate(1560 860) scale(0.31311)" stroke-width="11.82">
<path d="M835 215 L1205 82 Q1270 70 1330 88" fill="none" stroke-width="10.22"/>
<path d="M725 330 L835 215 L940 290" fill="none" stroke-width="10.22"/>
<path d="M612 560 L612 500 Q640 400 725 330" fill="none" stroke-width="10.22"/>
<path d="M720 415 L940 290 L1290 100" fill="none" stroke-width="10.22"/>
<path d="M745 520 L1300 195" fill="none" stroke-width="10.22"/>
<path d="M1385 120 L1885 405 Q1910 420 1910 445 L1910 590" fill="none" stroke-width="10.22"/>
<path d="M1385 230 L1770 455" fill="none" stroke-width="10.22"/>
<path d="M745 520 L1215 775 L1770 455" fill="none" stroke-width="10.22"/>
<path d="M612 500 L625 545 L1175 870 Q1215 890 1250 870 L1900 500 L1910 445" fill="none" stroke-width="10.22"/>
<path d="M612 560 L620 620 L695 668 M1175 962 L1190 970 L1910 590" fill="none" stroke-width="10.22"/>
<ellipse cx="690" cy="515" rx="47" ry="24" fill="#fff" stroke-width="10.22"/>
<ellipse cx="1840" cy="445" rx="47" ry="24" fill="#fff" stroke-width="10.22"/>
<ellipse cx="1210" cy="825" rx="47" ry="24" fill="#fff" stroke-width="10.22"/>
<path d="M1330 118 Q1270 115 1262 140 Q1270 165 1330 165" fill="none" stroke-width="10.22"/>
<path d="M905 590 Q920 500 985 420 Q1040 360 1090 340 L1190 325 L1240 400 L1300 470 L1330 560 L1310 650 L1260 750 M1090 340 Q1120 380 1170 395 L1245 405 L1240 540 Q1200 640 1115 715 M1305 195 L1305 395" fill="none" stroke-width="10.22"/>
<ellipse cx="1255" cy="290" rx="30" ry="45" transform="rotate(25 1255 290)" fill="#fff" stroke-width="10.22"/>
<path d="M697 0L697 215M697 265L697 370M697 400L697 500M1358 25L1358 435M1358 485L1358 590" fill="none"/>
<path d="M600 640 L370 1065 M590 690 L665 720 L500 1000 M655 725 L655 840 M665 720 L560 900" fill="none" stroke-width="10.22"/>
<path d="M600 625 L590 690" fill="none" stroke-width="10.22"/>
<path d="M680 800 Q680 720 760 695 Q830 700 850 790 L850 850 L1050 920 Q1140 980 1150 1070 L1140 1100 L1085 1225 L990 1260 L820 1110 L770 1075 L740 920 Q690 860 680 800Z" fill="#fff" stroke="none"/>
<path d="M680 800 Q680 720 760 695 Q830 700 850 790 L850 850 L1050 920 Q1140 980 1150 1070 L1140 1100" fill="none" stroke-width="10.22"/>
<path d="M680 800 Q690 860 740 920 L770 1075 L820 1110 L990 1260 L1085 1225" fill="none" stroke-width="10.22"/>
<path d="M795 880 L1000 950 Q1080 1000 1100 1100 L1095 1200" fill="none" stroke-width="10.22"/>
<ellipse cx="738" cy="825" rx="35" ry="57" transform="rotate(-12 738 825)" fill="#fff" stroke-width="10.22"/>
<ellipse cx="985" cy="1110" rx="88" ry="140" transform="rotate(-12 985 1110)" fill="#fff" stroke-width="10.22"/>
<path d="M965 980 Q940 1100 1040 1200 M990 985 Q970 1080 1060 1175" fill="none" stroke-width="10.22"/>
<path d="M370 1065 L490 990 L600 1060 L510 1100 L420 1180 L350 1310 L340 1420 L390 1495 L480 1490 L550 1430 L580 1400 L640 1290" fill="none" stroke-width="10.22"/>
<path d="M370 1065 L300 1120 L235 1245 L230 1360 L270 1420 L390 1500" fill="none" stroke-width="10.22"/>
<ellipse cx="557" cy="1205" rx="30" ry="47" transform="rotate(25 557 1205)" fill="#fff" stroke-width="10.22"/>
<ellipse cx="453" cy="1355" rx="30" ry="47" transform="rotate(25 453 1355)" fill="#fff" stroke-width="10.22"/>
<path d="M230 1360 L120 1811 M275 1430 L195 1811 M330 1465 L265 1811 M380 1495 L790 1811 M550 1430 L1000 1720" fill="none" stroke-width="10.22"/>
<path d="M1190 975 L1250 985 L1840 1165 L2044 1290 M1195 1010 L1100 1200 M1910 590 L1930 600 L2010 555 L2044 560 M1830 650 L2044 715" fill="none" stroke-width="10.22"/>
<path d="M1290 1050 L1330 1035 L1400 1075 L1355 1090 Z M1290 1050 L1120 1480 M1355 1090 L1190 1520 M1400 1075 L1400 1395" fill="none" stroke-width="10.22"/>
<path d="M870 1340 L1080 1230 L1200 1290 M870 1340 L1120 1480 M870 1340 L870 1480 M640 1290 L1100 1550 L1060 1640 L1020 1660 M895 1455 L860 1530" fill="none" stroke-width="10.22"/>
<path d="M1200 1520 L1400 1395 L1620 1520 M1200 1520 L1540 1720 L1720 1300" fill="none" stroke-width="10.22"/>
<path d="M1710 1300 L1750 1270 L1820 1310 L1780 1340 Z M1820 1310 L1820 1640 M1780 1340 L1610 1760 M1820 1640 L1610 1760 L1720 1811 M1820 1640 L1900 1700" fill="none" stroke-width="10.22"/>
<path d="M1860 1811 L1860 1740 L1940 1660 L2044 1710" fill="none" stroke-width="10.22"/>
<ellipse cx="1965" cy="1745" rx="55" ry="28" fill="#fff" stroke-width="10.22"/>
<path d="M950 1811 Q950 1700 1020 1670 Q1090 1680 1120 1811 M1250 1640 L1250 1740 Q1240 1790 1210 1811" fill="none" stroke-width="10.22"/>
<path d="M770 1590 L860 1530 L1095 1660 M770 1590 L770 1680 L960 1780 M780 1600 L1000 1720 M1120 1610 L1160 1590 L1500 1790 M820 1700 L820 1811 M1250 1640 L1540 1811" fill="none" stroke-width="10.22"/>
</g>
</g>
<!-- p_29_housing2 -->
<clipPath id="c2"><path d="M1500 1403H2181V1947H1500ZM1752 1403H2181V1832H1752Z" clip-rule="evenodd"/></clipPath><g clip-path="url(#c2)">
<g transform="translate(1560 1380) scale(0.31311)" stroke-width="11.82">
<path d="M150 0 L90 270 L90 300 L340 780 Q400 840 450 855 L500 845 L610 775" fill="none" stroke-width="10.22"/>
<path d="M215 0 L165 265 L235 190 L270 185 L330 225 M285 0 L245 190 M210 395 L350 680 L340 720 L345 790" fill="none" stroke-width="10.22"/>
<path d="M420 830 Q410 760 455 700 L480 690 L610 770" fill="none" stroke-width="10.22"/>
<ellipse cx="487" cy="775" rx="30" ry="48" transform="rotate(25 487 775)" fill="#fff" stroke-width="10.22"/>
<path d="M290 270 L370 215 L400 230 L540 135 L600 170 L575 395 L415 480 L290 420 Z" fill="#fff" stroke-width="10.22"/>
<path d="M290 270 L415 325 L415 480 M415 325 L590 180 M380 275 L440 225 M290 270 Q230 320 232 380 L240 420 L290 420 M210 395 L290 425" fill="none" stroke-width="10.22"/>
<path d="M575 395 L980 630 M285 425 L400 640 L870 910 L1000 955 M820 780 L860 905 M820 780 L1000 890 L1010 960 Q1040 1050 1080 1090 L1140 1130" fill="none" stroke-width="10.22"/>
<path d="M985 230 L970 530 L975 800 L1000 890 M1065 250 L1040 580 L1045 840 L1060 1000 Q1090 1080 1140 1130" fill="none" stroke-width="10.22"/>
<path d="M750 170 L990 300 L1000 235 M750 170 L800 135 L1000 240 M750 170 L750 250 L985 390 M810 300 L810 410 L830 440 L970 530 M810 300 L985 395" fill="none" stroke-width="10.22"/>
<path d="M880 595 L975 635 M880 595 L825 650 L825 690 L975 800" fill="none" stroke-width="10.22"/>
<path d="M770 0 L960 100 M810 50 L810 130 M810 50 L950 115 M580 0 L760 140" fill="none" stroke-width="10.22"/>
<ellipse cx="1040" cy="125" rx="75" ry="125" transform="rotate(-10 1040 125)" fill="#fff" stroke-width="10.22"/>
<path d="M1070 250 L1060 340 M1130 240 L1130 300 L1060 340 M1130 300 L1430 460 M1060 340 L1400 560" fill="none" stroke-width="10.22"/>
<path d="M1045 430 L1400 640 M1045 430 L1040 580 L1120 540 L1120 490 M1120 540 L1400 700 M1040 580 L1370 790" fill="none" stroke-width="10.22"/>
<path d="M1040 675 L1045 840 L1120 800 L1115 730 M1040 675 L1330 860 M1120 800 L1420 985 M1045 840 L1300 1010" fill="none" stroke-width="10.22"/>
<path d="M1055 940 L1300 1090 L1450 945 L1390 900 M1350 1090 L1510 960 L1440 915 M1350 1090 L1650 1300 L1870 1150 L1740 1090" fill="none" stroke-width="10.22"/>
<path d="M1140 1130 L1600 1450 L2044 1811 M1300 1090 L1600 1310" fill="none" stroke-width="10.22"/>
<path d="M1180 170 Q1250 130 1265 30 L1260 0 M1180 170 L1440 330 L1515 140 L1270 0 M1260 100 L1480 230" fill="none" stroke-width="10.22"/>
<path d="M1440 330 L1430 400 L1400 680 M1130 240 L1435 405" fill="none" stroke-width="10.22"/>
<path d="M1580 170 L1510 370 L1920 615 L2000 410 Z M1620 300 L1660 225 M1510 370 L1620 300 L1960 500 M1660 225 L2044 440" fill="none" stroke-width="10.22"/>
<path d="M1490 445 L1470 610 M1490 445 L1570 490 L1570 530 M1560 505 L1630 545 L1605 745" fill="none" stroke-width="10.22"/>
<path d="M1330 760 L1570 535 L1615 570 L1385 765" fill="#fff" stroke-width="10.22"/>
<path d="M1345 755 L1610 745 L1665 780 L1650 855 L1350 865 Z" fill="#fff" stroke-width="10.22"/>
<path d="M1380 790 L1645 790" fill="none" stroke-width="10.22"/>
<ellipse cx="1345" cy="810" rx="35" ry="55" fill="#fff" stroke-width="10.22"/>
<path d="M1620 870 Q1660 880 1650 910" fill="none" stroke-width="10.22"/>
<ellipse cx="1690" cy="1070" rx="85" ry="125" transform="rotate(-15 1690 1070)" fill="#fff" stroke-width="10.22"/>
<ellipse cx="1700" cy="1075" rx="55" ry="95" transform="rotate(-15 1700 1075)" fill="#fff" stroke-width="10.22"/>
<path d="M1680 940 L1905 735 L1970 760 L1970 850 L1730 985" fill="#fff" stroke-width="10.22"/>
<path d="M1700 975 L2010 970 L2044 990 L2044 1010 L1990 1045 L1720 1065 Z" fill="#fff" stroke-width="10.22"/>
<path d="M1730 995 L1995 1000 L1990 1045" fill="none" stroke-width="10.22"/>
<ellipse cx="1690" cy="1005" rx="33" ry="55" fill="#fff" stroke-width="10.22"/>
<path d="M1900 720 L2044 790 M1830 660 L1815 810 M1905 700 L1900 730" fill="none" stroke-width="10.22"/>
<path d="M1860 130 L1860 75 L1910 20 L1960 0 M1860 130 L1900 170 L1990 185 L2044 180" fill="none" stroke-width="10.22"/>
<ellipse cx="1965" cy="80" rx="55" ry="28" fill="#fff" stroke-width="10.22"/>
<path d="M1610 95 L1720 30 M1610 95 L2020 335 L2044 320 M1560 0 L1545 60 L1440 0" fill="none" stroke-width="10.22"/>
<path d="M1700 1295 L1930 1160 L2044 1225 M1700 1295 L1985 1480 L2044 1450 M1985 1480 L1990 1575 L2044 1550 M1650 1300 L1820 1170" fill="none" stroke-width="10.22"/>
<path d="M1410 1185 Q1430 1300 1510 1390 M1480 1230 Q1500 1350 1580 1440 M1900 1560 Q1920 1680 2010 1780 M1960 1590 Q1985 1690 2030 1750" fill="none" stroke-width="10.22"/>
</g>
</g>
<!-- p_29b_housing3 -->
<clipPath id="c3"><path d="M2180 800H2797V1403H2180ZM2180 1345H2285V1403H2180Z" clip-rule="evenodd"/></clipPath><g clip-path="url(#c3)">
<g transform="translate(2160 860) scale(0.31164)" stroke-width="11.87">
<path d="M375 745L895 280"/>
<path d="M0 600 L30 595 Q80 560 110 555 Q160 570 170 670 L575 825 Q600 830 620 810 Q660 770 680 775 Q740 800 735 920 L810 1010 L850 1030 Q890 1010 935 1025 L1195 1165 M1085 1105 Q1130 1085 1170 1115 L1215 1165" fill="none" stroke-width="10.27"/>
<path d="M0 680 L490 825 L840 1035 M0 1215 L575 1550" fill="none" stroke-width="10.27"/>
<ellipse cx="905" cy="1058" rx="50" ry="25" fill="#fff" stroke-width="10.27"/>
<path d="M270 1580 L315 1555 L385 1595 L340 1615 Z M385 1595 L380 1811 M270 1580 L190 1811 M340 1615 L260 1811 M520 1635 L450 1811 M35 1665 L200 1760 L190 1811" fill="none" stroke-width="10.27"/>
</g>
</g>
<clipPath id="c4"><path d="M2180 1402H2797V1944H2180ZM2180 1402H2285V1832H2180Z" clip-rule="evenodd"/></clipPath><g clip-path="url(#c4)">
<g transform="translate(2160 1380) scale(0.31164)" stroke-width="11.87">
<path d="M0 185 L100 190 L190 150 L200 90 L40 5 M240 0 L105 340 L0 280 M320 0 L170 380 M380 0 L380 250 L170 380 L465 550 L520 410 M375 320 L520 405" fill="none" stroke-width="10.27"/>
<path d="M0 360 L75 410 L0 620 M145 450 L70 655 L270 775 Q280 680 385 595 Z M215 490 L180 595 L75 655 M180 595 L310 665" fill="none" stroke-width="10.27"/>
<path d="M0 700 L340 905 M40 765 L45 870 L0 890 M40 870 L335 1045 L255 1095 L85 990 L80 1045 L0 1050 M0 980 L85 985 M340 905 L335 1045 M370 760 Q345 830 340 905" fill="none" stroke-width="10.27"/>
<path d="M85 1045 L215 1130 L210 1210 L240 1250 L390 1340 M0 1160 L310 1330 M310 1290 L320 1440 Q310 1470 290 1460 L220 1420 L220 1480 L75 1555 L0 1515 M300 1345 L70 1475 L0 1440 M70 1475 L70 1555" fill="none" stroke-width="10.27"/>
<path d="M220 1480 L280 1510 L250 1560 L245 1620 L280 1680 L400 1750 M120 1540 L245 1620 M0 1560 L345 1790 M0 1600 Q30 1720 80 1811 M45 1590 Q70 1710 120 1811 M345 1790 L360 1811" fill="none" stroke-width="10.27"/>
</g>
</g>
<clipPath id="c5"><path d="M1850 1945H2797V2250H1850Z" clip-rule="evenodd"/></clipPath><g clip-path="url(#c5)">
<g transform="translate(1900 1700) scale(0.43885)" stroke-width="8.43">
<path d="M0 25 L330 270 L800 645 L795 680 L815 710 L965 797 M800 645 L830 590 L845 585" fill="none" stroke-width="7.29"/>
<path d="M60 0 L400 195 L560 95 M150 40 L180 0 M190 50 L400 195" fill="none" stroke-width="7.29"/>
<path d="M230 120 Q250 210 280 250 M280 150 Q300 250 340 300 M580 360 Q600 470 740 620 M625 390 Q650 490 790 640" fill="none" stroke-width="7.29"/>
<path d="M435 190 L600 100 L810 220 L805 240 L645 330 Z M645 330 L645 370 L750 310 L750 280 M750 280 L805 310 L820 300 L815 195 M560 340 L640 375 M490 285 L560 340" fill="none" stroke-width="7.29"/>
<path d="M680 360 L770 420 L760 380 L790 340 L780 330 M770 420 L880 490 M625 385 L840 525" fill="none" stroke-width="7.29"/>
<path d="M650 0 L750 80 L740 130 L770 160 L870 215 M775 45 L830 15" fill="none" stroke-width="7.29"/>
<path d="M840 500 Q860 650 885 730 M880 500 Q900 620 935 760" fill="none" stroke-width="7.29"/>
</g>
</g>
<!-- p_29c_center -->
<clipPath id="c6"><path d="M1751 1344H2286V1833H1751Z" clip-rule="evenodd"/></clipPath><g clip-path="url(#c6)">
<g transform="translate(1740 1340) scale(0.27397)" stroke-width="13.51">
<path d="M113 0 L222 70 M0 137 L214 316" fill="none" stroke-width="11.68"/>
<path d="M222 70 L324 11 L531 118 L558 107 L598 21 L542 0 M222 70 L440 188 M222 70 L222 166 L429 281" fill="none" stroke-width="11.68"/>
<path d="M429 279 Q425 200 472 153 L515 131" fill="none" stroke-width="11.68"/>
<path d="M273 198 L273 290 L198 330 L196 434 L469 589 M273 292 L469 399 M198 332 L479 496 M485 421 L480 501" fill="none" stroke-width="11.68"/>
<path d="M268 477 L265 627 Q268 645 284 651 L456 759 L469 590" fill="none" stroke-width="11.68"/>
<path d="M456 759 L450 858 L466 971 L480 1170 M563 440 L542 542 L531 638 L528 815 L523 912 L536 971 L545 1215" fill="none" stroke-width="11.68"/>
<ellipse cx="528" cy="298" rx="90" ry="142" transform="rotate(-12 528 298)" fill="#fff" stroke-width="11.68"/>
<path d="M622 91 L673 62 L777 129 M713 0 L1105 220 M777 129 Q790 250 751 306 Q720 335 684 343" fill="none" stroke-width="11.68"/>
<path d="M780 134 L1078 292 L1021 399 L992 523 M772 260 L1021 399 M684 343 L992 523" fill="none" stroke-width="11.68"/>
<path d="M622 399 L635 407 L981 606 M635 407 L627 493 L544 542 M627 493 L960 692 M544 542 L944 788 M981 606 L960 692 L944 788 L936 912" fill="none" stroke-width="11.68"/>
<path d="M542 635 L938 879 M622 692 L622 761 L531 810 M622 761 L936 949 M531 812 L905 1040" fill="none" stroke-width="11.68"/>
<path d="M540 918 L535 1090 M540 918 L985 1215 M625 985 L628 1055 L540 1100 M628 1055 L930 1270 M540 1102 L870 1335" fill="none" stroke-width="11.68"/>
<path d="M0 985 L40 1020 L0 1060 M0 990 L325 1175 M280 1030 L325 1175 L480 1240 M280 1030 L470 1160 L490 1240 Q520 1340 560 1390" fill="none" stroke-width="11.68"/>
<path d="M360 825 L290 890 Q270 915 300 945 L465 1060 M360 825 L460 860 L465 1060" fill="none" stroke-width="11.68"/>
<path d="M0 597 L355 826" fill="none" stroke-width="11.68"/>
<path d="M1045 655 L1025 840 M1045 655 L1135 705 L1135 760 M1135 720 L1200 760" fill="none" stroke-width="11.68"/>
<path d="M848 1008 L1130 762 L1200 790 L925 1035 Z" fill="#fff" stroke-width="11.68"/>
<path d="M1195 795 L1180 995" fill="none" stroke-width="11.68"/>
<path d="M885 1003 L1180 995 L1245 1035 L1225 1110 L900 1130 Z" fill="#fff" stroke-width="11.68"/>
<path d="M930 1045 L1235 1040" fill="none" stroke-width="11.68"/>
<ellipse cx="878" cy="1066" rx="38" ry="63" fill="#fff" transform="rotate(-8 878 1066)" stroke-width="11.68"/>
<path d="M1215 1120 Q1235 1160 1225 1190 L1250 1195" fill="none" stroke-width="11.68"/>
<ellipse cx="1262" cy="1385" rx="92" ry="135" transform="rotate(-18 1262 1385)" fill="#fff" stroke-width="11.68"/>
<ellipse cx="1270" cy="1380" rx="55" ry="100" transform="rotate(-18 1270 1380)" fill="#fff" stroke-width="11.68"/>
<ellipse cx="1275" cy="1375" rx="35" ry="75" transform="rotate(-18 1275 1375)" fill="#fff" stroke-width="11.68"/>
<path d="M1238 1232 L1520 1002 L1585 1020 L1585 1120 L1310 1270 Z" fill="#fff" stroke-width="11.68"/>
<path d="M1310 1268 L1580 1030 M1520 1002 L1525 955 L1590 1020" fill="none" stroke-width="11.68"/>
<path d="M1300 1240 L1620 1230 L1625 1265 L1610 1335 L1300 1355 Z" fill="#fff" stroke-width="11.68"/>
<path d="M1315 1272 L1622 1262" fill="none" stroke-width="11.68"/>
<ellipse cx="1272" cy="1296" rx="38" ry="63" fill="#fff" transform="rotate(-8 1272 1296)" stroke-width="11.68"/>
<path d="M1200 0 L1105 220 M1285 0 L1178 255 L1415 120 L1415 0 M1178 258 L1650 530 L1838 55 L1888 12 L1975 60 L1925 95 L1838 55 M1975 60 L1975 430 L1730 570 M1925 95 L1735 570 M1730 575 L2044 755 M1960 520 L2044 330 M1960 520 L2044 560" fill="none" stroke-width="11.68"/>
<path d="M1470 230 L1575 140 L1760 240 L1750 275 Q1700 345 1600 360 Q1500 345 1470 300 Z" fill="#fff" stroke-width="11.68"/>
<path d="M1475 265 Q1540 310 1620 305 Q1700 295 1752 262" fill="none" stroke-width="11.68"/>
<ellipse cx="1590" cy="240" rx="65" ry="33" fill="#fff" stroke-width="11.68"/>
<path d="M1415 120 L1480 155" fill="none" stroke-width="11.68"/>
<path d="M1145 340 L1625 620 Q1575 740 1540 850 L1065 570 Z M1235 400 L1195 490 L1075 565 M1195 490 L1585 715" fill="none" stroke-width="11.68"/>
<path d="M1695 655 L1610 890 L1840 1030 Q1850 880 1970 825 Z M1780 715 L1740 800 L1620 885 M1740 800 L1885 885" fill="none" stroke-width="11.68"/>
<path d="M1050 655 L1915 1175 M1440 900 L1415 1070 M1520 950 L1525 1000 M1590 1120 L1910 1345 L1860 1390 L1820 1385 L1630 1275 M1915 1175 L1910 1345 M1950 1010 Q1920 1100 1915 1175" fill="none" stroke-width="11.68"/>
<path d="M1965 1811 Q1975 1560 2010 1380 L2044 1000" fill="none" stroke-width="11.68"/>
<path d="M1307 1372 L1493 1479 M1372 1433 L1474 1488" fill="none" stroke-width="11.68"/>
<path d="M1621 1347 L1786 1449 Q1760 1500 1767 1530 Q1775 1550 1804 1563 L1969 1672" fill="none" stroke-width="11.68"/>
<path d="M1277 1629 L1545 1473 L1880 1663 L1609 1811 Z M1880 1663 L1885 1720" fill="none" stroke-width="11.68"/>
<path d="M805 1385 L985 1215 L1065 1240 L885 1390 L1225 1630 L1426 1458 L1490 1485" fill="none" stroke-width="11.68"/>
<path d="M480 1170 Q500 1290 600 1400 L1160 1811 M545 1215 Q570 1330 640 1410 M805 1385 L1380 1811" fill="none" stroke-width="11.68"/>
<path d="M950 1530 Q975 1660 1060 1811 M1030 1560 Q1050 1690 1100 1811" fill="none" stroke-width="11.68"/>
</g>
</g>
<clipPath id="c7"><path d="M1960 1832H2292V2062H1960Z" clip-rule="evenodd"/></clipPath><g clip-path="url(#c7)">
<g transform="translate(1960 1740) scale(0.17673)" stroke-width="20.94">
<path d="M-10 500 H1900 V1830 H-10 Z" fill="#fff" stroke="none"/>
<path d="M0 125 L1640 1395 M130 0 L1050 610 L1250 715" fill="none" stroke-width="18.11"/>
<path d="M735 262 L1250 545 L1670 315 M1250 545 L1250 710 L1525 555 L1520 455 L1680 365" fill="none" stroke-width="18.11"/>
<path d="M1525 555 L1630 615 L1570 710 L1555 810 L1590 880 L1715 955 L1840 1010 M1340 670 L1555 815" fill="none" stroke-width="18.11"/>
<path d="M1695 250 L1705 520 Q1700 555 1640 545 L1535 465" fill="none" stroke-width="18.11"/>
<path d="M1100 660 Q1120 800 1170 920 Q1260 1080 1590 1340 M1215 750 Q1240 890 1290 1000 Q1380 1130 1600 1340" fill="none" stroke-width="18.11"/>
<path d="M1215 750 L1750 1100" fill="none" stroke-width="18.11"/>
<path d="M1640 1395 Q1670 1290 1760 1220 M1640 1395 L1635 1470 L1680 1550 L2037 1745 M1740 985 L1765 1220 L1805 1440 Q1850 1640 1890 1690" fill="none" stroke-width="18.11"/>
<path d="M0 1134.4 L1190 1820.7" fill="none"/>
</g>
</g>
<!-- p_30_flange -->
<path d="M2339.2 1343 L2350.1 1330.6 L2440.5 1280.7 L2471.6 1255.8 L2490.3 1251.1 L2599.4 1193.4 L2655.5 1226.8 L2655.5 1227 L2306.6 1613.7 L2314.5 1600 L2367.4 1476.1 L2371.7 1456.6 L2372.3 1390 L2381.1 1370.5 L2398.7 1356.8 L2484.8 1309.8 L2496.6 1300 L2515.2 1280.7 L2533.9 1277.6 L2633.7 1226.2Z" fill="#fff" stroke-width="0.01"/>
<path d="M2339.2 1343C2341 1340.9 2333.2 1340.9 2350.1 1330.6C2367 1320.2 2420.2 1293.2 2440.5 1280.7C2460.7 1268.2 2463.3 1260.7 2471.6 1255.8C2479.9 1250.8 2487.2 1251.9 2490.3 1251.1" fill="none"/>
<path d="M2490.3 1251.1 L2599.4 1193.4 L2655.5 1226.8" fill="none"/>
<path d="M2304.8 1552.4C2307.6 1544.9 2315.2 1522.4 2321.4 1507.4C2327.6 1492.4 2337.9 1474.2 2342 1462.4C2346.1 1450.7 2345.1 1451.7 2345.9 1437C2346.7 1422.3 2344.9 1387.7 2346.9 1374.4C2348.8 1361 2353.6 1362 2357.6 1356.8C2361.7 1351.5 2355.3 1352.5 2371.3 1343.1C2387.3 1333.6 2438.9 1307.8 2453.5 1300C2468.2 1292.2 2453 1301.8 2459.2 1296.3C2465.3 1290.7 2482 1272.4 2490.3 1266.7C2498.6 1261 2505.9 1262.8 2509 1262" fill="none"/>
<path d="M2509 1262 L2615 1207.5 L2643 1218.4" fill="none"/>
<path d="M2338.1 1344C2336.4 1347.1 2330.4 1356.3 2328.3 1362.6C2326.2 1369 2325.5 1373.2 2325.3 1382.2C2325.2 1391.2 2327 1410.7 2327.3 1416.4" fill="none"/>
<path d="M2643 1218.4C2645.5 1218.5 2653.9 1222.3 2655.5 1227C2657.1 1231.7 2657 1250.8 2657 1258.9C2657 1267 2654.6 1290.1 2655.5 1296.3C2656.4 1302.5 2658.6 1303.2 2664.8 1311.9C2671 1320.6 2701.2 1362.7 2708.5 1371.1C2715.8 1379.5 2724.5 1381 2727.2 1383.5C2729.9 1386 2730.4 1383.8 2731.8 1392.5C2733.2 1401.2 2738.3 1446.3 2739.6 1457.9C2740.9 1469.5 2741.7 1486 2742.7 1492.2C2743.7 1498.4 2748 1503.6 2748 1510.9C2748 1518.2 2743.6 1540.7 2742.7 1554.5C2741.8 1568.3 2740.2 1618.8 2740.2 1629.3C2740.2 1639.8 2742.9 1640.5 2742.7 1644.9C2742.5 1649.3 2740.3 1654.7 2738.1 1666.7C2735.9 1678.7 2726.7 1732.1 2724 1747.7C2721.3 1763.3 2717.2 1791.2 2714.7 1800.7C2712.2 1810.2 2705.5 1824 2702.2 1828.7C2698.9 1833.4 2699.3 1833.9 2686.6 1841.2C2673.9 1848.5 2605.6 1883.1 2593.2 1891.1C2580.8 1899.1 2583.8 1902.9 2580.7 1909.8C2577.6 1916.7 2570.7 1943.9 2567 1950.1C2563.3 1956.3 2561.2 1956.4 2549.4 1963.3C2537.6 1970.2 2479.6 2005.8 2466 2009.3C2452.4 2012.8 2447.9 1988.7 2433.1 1993.1C2418.3 1997.5 2351.6 2040 2338.8 2046.6C2326 2053.2 2326.7 2050.5 2323.4 2049.7C2320.1 2048.9 2313.1 2048.1 2310.3 2040.1C2307.5 2032.1 2301.6 1993.3 2299.3 1980.8C2297 1968.3 2292.8 1939.7 2290.9 1932.7C2289 1925.7 2283.4 1927.3 2283.1 1920.9C2282.8 1914.5 2287.8 1888.4 2288 1877.9C2288.2 1867.4 2285.6 1840.3 2285 1830.9C2284.4 1821.5 2284 1802.3 2283.1 1797.7C2282.2 1793.1 2277.7 1795 2277.2 1791.8C2276.7 1788.6 2278.4 1774.2 2279.2 1770.3C2280 1766.4 2283.1 1762.4 2284 1758.5C2284.9 1754.6 2285.9 1749.6 2287 1737C2288.1 1724.4 2292.6 1663 2293.8 1650.9C2295 1638.8 2296.2 1637.6 2297.7 1633.3C2299.2 1629 2304.6 1617.6 2306.6 1613.7C2308.6 1609.8 2307.4 1616.1 2314.5 1600C2321.6 1583.9 2360.7 1492.8 2367.4 1476.1C2374.1 1459.4 2371.1 1466.6 2371.7 1456.6C2372.3 1446.6 2371.2 1400 2372.3 1390C2373.4 1380 2378 1374.4 2381.1 1370.5C2384.2 1366.6 2386.6 1363.9 2398.7 1356.8C2410.8 1349.7 2473.4 1316.4 2484.8 1309.8C2496.2 1303.2 2493.1 1303.4 2496.6 1300C2500.1 1296.6 2510.8 1283.3 2515.2 1280.7C2519.6 1278.1 2520.1 1284 2533.9 1277.6C2547.7 1271.2 2621 1233.1 2633.7 1226.2C2646.4 1219.3 2640.5 1218.3 2643 1218.4Z" fill="#fff"/>
<path d="M2412.4 1404C2413.4 1403.2 2414.4 1400.6 2422.2 1395.9C2430 1391.2 2481.9 1361.1 2490.7 1356.8C2499.5 1352.5 2506 1355.1 2510.3 1352.8C2514.6 1350.5 2523.7 1340 2533.9 1333.7C2544.1 1327.4 2599.4 1285.4 2611.9 1290C2624.4 1294.6 2652.1 1367.9 2658.6 1380C2665.1 1392.1 2675.3 1405.6 2677.3 1411.2C2679.3 1416.8 2677.7 1432.8 2678.9 1436.1C2680.2 1439.4 2687.5 1442.7 2689.8 1443.9C2692.1 1445.2 2700.7 1444.7 2702.2 1448.6C2703.7 1452.5 2704.7 1476 2704.7 1482.8C2704.7 1489.6 2702.9 1511.8 2702.2 1517.1C2701.5 1522.4 2697.6 1531.4 2697.6 1535.8C2697.6 1540.2 2701.9 1551.4 2702.2 1560.7C2702.5 1570 2701.8 1618.7 2700.7 1629.3C2699.6 1639.9 2692.1 1661.1 2691.3 1666.7C2690.5 1672.3 2692.3 1682.6 2692.9 1685.4C2693.5 1688.2 2697.1 1693.8 2697.6 1694.7" fill="none"/>
<path d="M2696 1715C2695.1 1718.9 2689.1 1746.4 2686.6 1754C2684.1 1761.6 2675.2 1784.2 2671.1 1791.4C2667 1798.6 2652 1819.4 2646.1 1825.6C2640.2 1831.8 2627.5 1843.1 2611.9 1853.7C2596.3 1864.3 2507.5 1921 2490.3 1931.5C2473.1 1942 2449.1 1954.4 2439.7 1958.9C2430.2 1963.4 2403.3 1974.7 2395.8 1976.4C2388.3 1978.1 2370.4 1977.3 2365.1 1975.6C2359.8 1973.8 2346.7 1964.5 2343.2 1958.9C2339.7 1953.3 2331.5 1925.1 2330 1919.4C2328.5 1913.7 2327.4 1906.2 2327.8 1901.8C2328.2 1897.4 2334.6 1879.7 2334.4 1875.5C2334.2 1871.3 2327.2 1866 2326.1 1860C2325 1854 2323.5 1823.9 2323.2 1815.3C2322.9 1806.7 2322.6 1780.7 2323.2 1774.2C2323.8 1767.7 2329.1 1754.4 2329.1 1750.7C2329.1 1747 2323.9 1745 2323.2 1737C2322.5 1729 2321.9 1678.3 2322.2 1670.5C2322.5 1662.7 2324.5 1660.9 2326.1 1658.7C2327.7 1656.5 2335.6 1652.2 2337.9 1648.9C2340.2 1645.6 2348.2 1630.1 2349.6 1625.4C2351 1620.7 2345.3 1624.1 2351.6 1602C2357.9 1579.9 2406.3 1423.8 2412.4 1404" fill="none"/>
<ellipse cx="2627" cy="1256" rx="11.5" ry="19.5" fill="#fff" transform="rotate(27 2627 1256)"/>
<ellipse cx="2513" cy="1317.5" rx="11.5" ry="19.5" fill="#fff" transform="rotate(27 2513 1317.5)"/>
<ellipse cx="2399" cy="1390" rx="11.5" ry="19.5" fill="#fff" transform="rotate(27 2399 1390)"/>
<ellipse cx="2325" cy="1628" rx="11.5" ry="19.5" fill="#fff" transform="rotate(27 2325 1628)"/>
<ellipse cx="2304" cy="1769" rx="11.5" ry="19.5" fill="#fff" transform="rotate(27 2304 1769)"/>
<ellipse cx="2311" cy="1892" rx="11.5" ry="19.5" fill="#fff" transform="rotate(27 2311 1892)"/>
<ellipse cx="2345" cy="2009" rx="11.5" ry="19.5" fill="#fff" transform="rotate(27 2345 2009)"/>
<ellipse cx="2484" cy="1967" rx="11.5" ry="19.5" fill="#fff" transform="rotate(27 2484 1967)"/>
<ellipse cx="2544" cy="1932" rx="11.5" ry="19.5" fill="#fff" transform="rotate(27 2544 1932)"/>
<ellipse cx="2681" cy="1816" rx="11.5" ry="19.5" fill="#fff" transform="rotate(27 2681 1816)"/>
<ellipse cx="2716" cy="1659" rx="11.5" ry="19.5" fill="#fff" transform="rotate(27 2716 1659)"/>
<ellipse cx="2722.5" cy="1526.5" rx="11.5" ry="19.5" fill="#fff" transform="rotate(27 2722.5 1526.5)"/>
<ellipse cx="2702" cy="1410" rx="11.5" ry="19.5" fill="#fff" transform="rotate(27 2702 1410)"/>
<path d="M2385.9 1524.9L2527.7 1605.9M2554.2 1621.5L2611.9 1654.2M2638.3 1671.4L2780.1 1750.8" fill="none"/>
<path d="M2336.3 1857L2451 1922M2474.8 1936.9L2518.7 1961.1M2542.8 1974.2L2656.9 2040" fill="none"/>
<!-- p_40_left1 -->
<g transform="translate(200 230) scale(0.25440)" stroke-width="14.54">
<path d="M185 1145L435 775"/>
<path d="M905 1190L1045 1005"/>
<path d="M1455 1765L1600 1310"/>
<path d="M170 225L240 265M255 275L285 290M300 300L365 338" fill="none"/>
<path d="M766.4 541 L789.4 545.3 L800.7 523.5 L783.1 508.6 L791.9 488.2 L816.5 486.8 L824.4 463.9 L803.6 454.2 L809.1 433.1 L834.2 426.1 L838.4 403 L815.3 398.8 L817.3 378 L842 365.6 L842.2 343.1 L817.7 344.6 L816.1 324.8 L839.5 307.5 L835.8 286.5 L810.7 293.7 L805.6 275.6 L826.7 254.1 L819.3 235.5 L794.6 248.1 L786.3 232.4 L804.3 207.5 L793.4 192 L770.1 209.4 L758.7 196.8 L773 169.5 L759 157.6 L738 179.2 L724.1 170.2 L734.1 141.4 L717.6 133.6 L699.6 158.6 L683.7 153.5 L689 124.5 L670.6 121.1 L656.4 148.5 L639.1 147.5 L639.5 119.2 L619.9 120.4 L610.1 149.2 L592 152.3 L587.5 126 L567.5 131.6 L562.3 160.7 L544.2 167.8 L535 144.4 L515.3 154.3 L515 182.5 L497.6 193.4 L483.9 173.8 L465.4 187.6 L470 213.9 L453.9 228 L436.4 213 L419.6 230.2 L429 253.5 L414.8 270.4 L394.1 260.6 L379.8 280.5 L393.6 299.9 L381.8 319 L358.8 314.7 L347.5 336.5 L365 351.4 L356.3 371.8 L331.7 373.2 L323.8 396.1 L344.6 405.8 L339.1 426.9 L314 433.9 L309.8 457 L332.9 461.2 L330.9 482 L306.2 494.4 L305.9 516.9 L330.5 515.4 L332.1 535.2 L308.7 552.5 L312.4 573.5 L337.5 566.3 L342.6 584.4 L321.5 605.9 L328.9 624.5 L353.6 611.9 L361.9 627.6 L343.9 652.5 L354.8 668 L378.1 650.6 L389.5 663.2 L375.2 690.5 L389.2 702.4 L410.2 680.8 L424.1 689.8 L414.1 718.6 L430.6 726.4 L448.6 701.4 L464.5 706.5 L459.2 735.5 L477.6 738.9 L491.7 711.5 L509.1 712.5 L508.7 740.8 L528.3 739.6 L538.1 710.8 L556.2 707.7 L560.7 734 L580.7 728.4 L585.9 699.3 L604 692.2 L613.2 715.6 L632.9 705.7 L633.1 677.5 L650.6 666.6 L664.2 686.2 L682.8 672.4 L678.2 646.1 L694.3 632 L711.8 647 L728.6 629.8 L719.2 606.5 L733.4 589.6 L754.1 599.4 L768.4 579.5 L754.6 560.1Z" fill="#fff"/>
<path d="M724.1 170.2 L754.4 187.7 L454.4 707.3 L424.1 689.8Z" fill="#fff" stroke="none"/>
<path d="M804.3 207.5 L834.6 225 L823.7 209.5 L793.4 192Z" fill="#fff"/>
<path d="M773 169.5 L803.3 187 L789.3 175.1 L759 157.6Z" fill="#fff"/>
<path d="M734.1 141.4 L764.4 158.9 L747.9 151.1 L717.6 133.6Z" fill="#fff"/>
<path d="M689 124.5 L719.3 142 L700.9 138.6 L670.6 121.1Z" fill="#fff"/>
<path d="M639.5 119.2 L669.8 136.7 L650.2 137.9 L619.9 120.4Z" fill="#fff"/>
<path d="M587.5 126 L617.8 143.5 L597.8 149.1 L567.5 131.6Z" fill="#fff"/>
<path d="M535 144.4 L565.3 161.9 L545.6 171.8 L515.3 154.3Z" fill="#fff"/>
<path d="M483.9 173.8 L514.3 191.3 L495.7 205.1 L465.4 187.6Z" fill="#fff"/>
<path d="M436.4 213 L466.7 230.5 L449.9 247.7 L419.6 230.2Z" fill="#fff"/>
<path d="M394.1 260.6 L424.4 278.1 L410.1 298 L379.8 280.5Z" fill="#fff"/>
<path d="M358.8 314.7 L389.1 332.2 L377.8 354 L347.5 336.5Z" fill="#fff"/>
<path d="M331.7 373.2 L362 390.7 L354.1 413.6 L323.8 396.1Z" fill="#fff"/>
<path d="M314 433.9 L344.3 451.4 L340.1 474.5 L309.8 457Z" fill="#fff"/>
<path d="M306.2 494.4 L336.5 511.9 L336.3 534.4 L305.9 516.9Z" fill="#fff"/>
<path d="M308.7 552.5 L339 570 L342.7 591 L312.4 573.5Z" fill="#fff"/>
<path d="M321.5 605.9 L351.8 623.4 L359.2 642 L328.9 624.5Z" fill="#fff"/>
<path d="M343.9 652.5 L374.2 670 L385.1 685.5 L354.8 668Z" fill="#fff"/>
<path d="M375.2 690.5 L405.5 708 L419.5 719.9 L389.2 702.4Z" fill="#fff"/>
<path d="M414.1 718.6 L444.4 736.1 L460.9 743.9 L430.6 726.4Z" fill="#fff"/>
<path d="M459.2 735.5 L489.5 753 L507.9 756.4 L477.6 738.9Z" fill="#fff"/>
<path d="M796.7 558.5 L819.7 562.8 L831 541 L813.5 526.1 L822.2 505.7 L846.8 504.3 L854.7 481.4 L833.9 471.7 L839.4 450.6 L864.5 443.6 L868.7 420.5 L845.6 416.3 L847.6 395.5 L872.3 383.1 L872.6 360.6 L848 362.1 L846.4 342.3 L869.8 325 L866.1 304 L841 311.2 L835.9 293.1 L857 271.6 L849.6 253 L824.9 265.6 L816.6 249.9 L834.6 225 L823.7 209.5 L800.4 226.9 L789 214.3 L803.3 187 L789.3 175.1 L768.3 196.7 L754.4 187.7 L764.4 158.9 L747.9 151.1 L729.9 176.1 L714 171 L719.3 142 L700.9 138.6 L686.8 166 L669.4 165 L669.8 136.7 L650.2 137.9 L640.4 166.7 L622.3 169.8 L617.8 143.5 L597.8 149.1 L592.7 178.2 L574.5 185.3 L565.3 161.9 L545.6 171.8 L545.4 200 L527.9 210.9 L514.3 191.3 L495.7 205.1 L500.3 231.4 L484.2 245.5 L466.7 230.5 L449.9 247.7 L459.3 271 L445.1 287.9 L424.4 278.1 L410.1 298 L423.9 317.4 L412.1 336.5 L389.1 332.2 L377.8 354 L395.4 368.9 L386.6 389.3 L362 390.7 L354.1 413.6 L374.9 423.3 L369.4 444.4 L344.3 451.4 L340.1 474.5 L363.2 478.7 L361.2 499.5 L336.5 511.9 L336.3 534.4 L360.8 532.9 L362.4 552.7 L339 570 L342.7 591 L367.8 583.8 L372.9 601.9 L351.8 623.4 L359.2 642 L383.9 629.4 L392.3 645.1 L374.2 670 L385.1 685.5 L408.4 668.1 L419.8 680.7 L405.5 708 L419.5 719.9 L440.5 698.3 L454.4 707.3 L444.4 736.1 L460.9 743.9 L478.9 718.9 L494.8 724 L489.5 753 L507.9 756.4 L522.1 729 L539.4 730 L539 758.3 L558.6 757.1 L568.4 728.3 L586.5 725.2 L591 751.5 L611 745.9 L616.2 716.8 L634.3 709.7 L643.5 733.1 L663.2 723.2 L663.5 695 L680.9 684.1 L694.6 703.7 L713.1 689.9 L708.5 663.6 L724.6 649.5 L742.1 664.5 L758.9 647.3 L749.5 624 L763.7 607.1 L784.4 616.9 L798.7 597 L784.9 577.6Z" fill="#fff"/>
<path d="M810.4 532.6 L834.3 534.1 L844 511.6 L824.7 499.3 L831.9 478.4 L856.8 474.2 L862.9 451.1 L840.9 444.1 L844.7 423 L869.7 413.3 L871.9 390.4 L847.9 389 L848.2 368.6 L872.3 353.7 L870.6 331.9 L845.7 336.2 L842.3 317.2 L864.7 297.7 L859.1 277.8 L834.1 287.7 L827.4 270.8 L847 247.5 L837.8 230.3 L813.7 245.3 L803.8 231.2 L820.1 204.9 L807.6 191.1 L785.3 210.7 L772.6 199.9 L784.8 171.7 L769.5 161.8 L749.9 185.2 L734.9 178.1 L742.6 149 L725.1 143.4 L709 169.8 L692.2 166.7 L695.1 137.9 L676 136.7 L664 165 L646.2 166 L644.1 138.6 L624.2 142 L616.7 171.1 L598.5 176.2 L591.6 151.2 L571.7 159 L568.9 187.8 L551.1 196.8 L539.6 175.2 L520.3 187.1 L522.6 214.5 L505.7 227.1 L490 209.7 L472.3 225.2 L479.3 250.1 L464.1 265.8 L444.9 253.3 L429.3 271.9 L440.9 293.4 L427.9 311.5 L405.9 304.3 L393 325.3 L408.7 342.5 L398.4 362.4 L374.5 360.9 L364.8 383.4 L384.1 395.7 L376.9 416.6 L352 420.8 L345.9 443.9 L367.9 450.9 L364.2 472 L339.1 481.7 L336.9 504.6 L360.9 506 L360.6 526.4 L336.5 541.3 L338.2 563.1 L363.2 558.8 L366.5 577.8 L344.1 597.3 L349.7 617.2 L374.7 607.3 L381.4 624.2 L361.8 647.5 L371 664.7 L395.1 649.7 L405 663.8 L388.8 690.1 L401.2 703.9 L423.5 684.3 L436.2 695.1 L424 723.3 L439.3 733.2 L458.9 709.8 L473.9 716.9 L466.2 746 L483.7 751.6 L499.9 725.2 L516.6 728.3 L513.7 757.1 L532.8 758.3 L544.9 730 L562.6 729 L564.7 756.4 L584.6 753 L592.1 723.9 L610.3 718.8 L617.2 743.8 L637.2 736 L639.9 707.2 L657.8 698.2 L669.2 719.8 L688.5 707.9 L686.3 680.5 L703.2 667.9 L718.8 685.3 L736.5 669.8 L729.5 644.9 L744.8 629.2 L763.9 641.7 L779.5 623.1 L767.9 601.6 L781 583.5 L802.9 590.7 L815.8 569.7 L800.1 552.5Z" fill="#fff"/>
<path d="M754.4 187.7 L784.7 205.2 L484.7 724.8 L454.4 707.3Z" fill="#fff" stroke="none"/>
<path d="M820.1 204.9 L850.4 222.4 L837.9 208.6 L807.6 191.1Z" fill="#fff"/>
<path d="M784.8 171.7 L815.1 189.2 L799.8 179.3 L769.5 161.8Z" fill="#fff"/>
<path d="M742.6 149 L772.9 166.5 L755.4 160.9 L725.1 143.4Z" fill="#fff"/>
<path d="M695.1 137.9 L725.4 155.4 L706.3 154.2 L676 136.7Z" fill="#fff"/>
<path d="M644.1 138.6 L674.4 156.1 L654.5 159.5 L624.2 142Z" fill="#fff"/>
<path d="M591.6 151.2 L621.9 168.7 L602 176.5 L571.7 159Z" fill="#fff"/>
<path d="M539.6 175.2 L569.9 192.7 L550.7 204.6 L520.3 187.1Z" fill="#fff"/>
<path d="M490 209.7 L520.3 227.2 L502.6 242.7 L472.3 225.2Z" fill="#fff"/>
<path d="M444.9 253.3 L475.2 270.8 L459.6 289.4 L429.3 271.9Z" fill="#fff"/>
<path d="M405.9 304.3 L436.2 321.8 L423.3 342.8 L393 325.3Z" fill="#fff"/>
<path d="M374.5 360.9 L404.8 378.4 L395.2 400.9 L364.8 383.4Z" fill="#fff"/>
<path d="M352 420.8 L382.3 438.3 L376.2 461.4 L345.9 443.9Z" fill="#fff"/>
<path d="M339.1 481.7 L369.4 499.2 L367.2 522.1 L336.9 504.6Z" fill="#fff"/>
<path d="M336.5 541.3 L366.8 558.8 L368.5 580.6 L338.2 563.1Z" fill="#fff"/>
<path d="M344.1 597.3 L374.4 614.8 L380 634.7 L349.7 617.2Z" fill="#fff"/>
<path d="M361.8 647.5 L392.1 665 L401.3 682.2 L371 664.7Z" fill="#fff"/>
<path d="M388.8 690.1 L419.1 707.6 L431.6 721.4 L401.2 703.9Z" fill="#fff"/>
<path d="M424 723.3 L454.3 740.8 L469.6 750.7 L439.3 733.2Z" fill="#fff"/>
<path d="M466.2 746 L496.5 763.5 L514 769.1 L483.7 751.6Z" fill="#fff"/>
<path d="M840.7 550.1 L864.6 551.6 L874.3 529.1 L855 516.8 L862.2 495.9 L887.2 491.7 L893.2 468.6 L871.2 461.6 L875 440.5 L900 430.8 L902.2 407.9 L878.3 406.5 L878.5 386.1 L902.6 371.2 L900.9 349.4 L876 353.7 L872.7 334.7 L895 315.2 L889.4 295.3 L864.4 305.2 L857.7 288.3 L877.3 265 L868.1 247.8 L844 262.8 L834.1 248.7 L850.4 222.4 L837.9 208.6 L815.6 228.2 L802.9 217.4 L815.1 189.2 L799.8 179.3 L780.2 202.7 L765.2 195.6 L772.9 166.5 L755.4 160.9 L739.3 187.3 L722.5 184.2 L725.4 155.4 L706.3 154.2 L694.3 182.5 L676.5 183.5 L674.4 156.1 L654.5 159.5 L647 188.6 L628.8 193.7 L621.9 168.7 L602 176.5 L599.2 205.3 L581.4 214.3 L569.9 192.7 L550.7 204.6 L552.9 232 L536 244.6 L520.3 227.2 L502.6 242.7 L509.6 267.6 L494.4 283.3 L475.2 270.8 L459.6 289.4 L471.2 310.9 L458.2 329 L436.2 321.8 L423.3 342.8 L439 360 L428.7 379.9 L404.8 378.4 L395.2 400.9 L414.4 413.2 L407.2 434.1 L382.3 438.3 L376.2 461.4 L398.3 468.4 L394.5 489.5 L369.4 499.2 L367.2 522.1 L391.2 523.5 L390.9 543.9 L366.8 558.8 L368.5 580.6 L393.5 576.3 L396.8 595.3 L374.4 614.8 L380 634.7 L405 624.8 L411.8 641.7 L392.1 665 L401.3 682.2 L425.4 667.2 L435.3 681.3 L419.1 707.6 L431.6 721.4 L453.8 701.8 L466.5 712.6 L454.3 740.8 L469.6 750.7 L489.2 727.3 L504.2 734.4 L496.5 763.5 L514 769.1 L530.2 742.7 L546.9 745.8 L544 774.6 L563.1 775.8 L575.2 747.5 L593 746.5 L595 773.9 L614.9 770.5 L622.4 741.4 L640.6 736.3 L647.5 761.3 L667.5 753.5 L670.2 724.7 L688.1 715.7 L699.6 737.3 L718.8 725.4 L716.6 698 L733.5 685.4 L749.1 702.8 L766.9 687.3 L759.8 662.4 L775.1 646.7 L794.2 659.2 L809.9 640.6 L798.2 619.1 L811.3 601 L833.2 608.2 L846.1 587.2 L830.4 570Z" fill="#fff"/>
<path d="M827 576 L850 580.3 L861.4 558.5 L843.8 543.6 L852.5 523.2 L877.1 521.8 L885 498.9 L864.2 489.2 L869.7 468.1 L894.9 461.1 L899 438 L875.9 433.8 L877.9 413 L902.6 400.6 L902.9 378.1 L878.3 379.6 L876.7 359.8 L900.1 342.5 L896.4 321.5 L871.3 328.7 L866.3 310.6 L887.4 289.1 L879.9 270.5 L855.2 283.1 L846.9 267.4 L864.9 242.5 L854 227 L830.7 244.4 L819.3 231.8 L833.6 204.5 L819.7 192.6 L798.6 214.2 L784.7 205.2 L794.7 176.4 L778.2 168.6 L760.3 193.6 L744.3 188.5 L749.6 159.5 L731.2 156.1 L717.1 183.5 L699.7 182.5 L700.1 154.2 L680.5 155.4 L670.7 184.2 L652.6 187.3 L648.1 161 L628.1 166.6 L623 195.7 L604.8 202.8 L595.6 179.4 L575.9 189.3 L575.7 217.5 L558.2 228.4 L544.6 208.8 L526 222.6 L530.6 248.9 L514.5 263 L497 248 L480.2 265.2 L489.6 288.5 L475.4 305.4 L454.8 295.6 L440.4 315.5 L454.2 334.9 L442.5 354 L419.4 349.7 L408.1 371.5 L425.7 386.4 L416.9 406.8 L392.3 408.2 L384.4 431.1 L405.2 440.8 L399.7 461.9 L374.6 468.9 L370.4 492 L393.5 496.2 L391.5 517 L366.8 529.4 L366.6 551.9 L391.2 550.4 L392.7 570.2 L369.4 587.5 L373 608.5 L398.1 601.3 L403.2 619.4 L382.1 640.9 L389.5 659.5 L414.2 646.9 L422.6 662.6 L404.5 687.5 L415.4 703 L438.7 685.6 L450.1 698.2 L435.8 725.5 L449.8 737.4 L470.8 715.8 L484.7 724.8 L474.7 753.6 L491.2 761.4 L509.2 736.4 L525.1 741.5 L519.8 770.5 L538.2 773.9 L552.4 746.5 L569.7 747.5 L569.3 775.8 L588.9 774.6 L598.7 745.8 L616.8 742.7 L621.3 769 L641.3 763.4 L646.5 734.3 L664.6 727.2 L673.8 750.6 L693.5 740.7 L693.8 712.5 L711.2 701.6 L724.9 721.2 L743.4 707.4 L738.8 681.1 L754.9 667 L772.4 682 L789.2 664.8 L779.8 641.5 L794 624.6 L814.7 634.4 L829 614.5 L815.3 595.1Z" fill="#fff"/>
<path d="M784.7 205.2 L815 222.7 L515 742.3 L484.7 724.8Z" fill="#fff" stroke="none"/>
<path d="M864.9 242.5 L895.2 260 L884.3 244.5 L854 227Z" fill="#fff"/>
<path d="M833.6 204.5 L863.9 222 L850 210.1 L819.7 192.6Z" fill="#fff"/>
<path d="M794.7 176.4 L825 193.9 L808.5 186.1 L778.2 168.6Z" fill="#fff"/>
<path d="M749.6 159.5 L779.9 177 L761.5 173.6 L731.2 156.1Z" fill="#fff"/>
<path d="M700.1 154.2 L730.4 171.7 L710.9 172.9 L680.5 155.4Z" fill="#fff"/>
<path d="M648.1 161 L678.4 178.5 L658.4 184.1 L628.1 166.6Z" fill="#fff"/>
<path d="M595.6 179.4 L625.9 196.9 L606.2 206.8 L575.9 189.3Z" fill="#fff"/>
<path d="M544.6 208.8 L574.9 226.3 L556.3 240.1 L526 222.6Z" fill="#fff"/>
<path d="M497 248 L527.3 265.5 L510.5 282.7 L480.2 265.2Z" fill="#fff"/>
<path d="M454.8 295.6 L485.1 313.1 L470.7 333 L440.4 315.5Z" fill="#fff"/>
<path d="M419.4 349.7 L449.7 367.2 L438.4 389 L408.1 371.5Z" fill="#fff"/>
<path d="M392.3 408.2 L422.6 425.7 L414.8 448.6 L384.4 431.1Z" fill="#fff"/>
<path d="M374.6 468.9 L404.9 486.4 L400.7 509.5 L370.4 492Z" fill="#fff"/>
<path d="M366.8 529.4 L397.1 546.9 L396.9 569.4 L366.6 551.9Z" fill="#fff"/>
<path d="M369.4 587.5 L399.7 605 L403.3 626 L373 608.5Z" fill="#fff"/>
<path d="M382.1 640.9 L412.4 658.4 L419.8 677 L389.5 659.5Z" fill="#fff"/>
<path d="M404.5 687.5 L434.8 705 L445.7 720.5 L415.4 703Z" fill="#fff"/>
<path d="M435.8 725.5 L466.1 743 L480.1 754.9 L449.8 737.4Z" fill="#fff"/>
<path d="M474.7 753.6 L505.1 771.1 L521.6 778.9 L491.2 761.4Z" fill="#fff"/>
<path d="M519.8 770.5 L550.1 788 L568.5 791.4 L538.2 773.9Z" fill="#fff"/>
<path d="M857.3 593.5 L880.3 597.8 L891.7 576 L874.1 561.1 L882.9 540.7 L907.4 539.3 L915.3 516.4 L894.6 506.7 L900.1 485.6 L925.2 478.6 L929.3 455.5 L906.2 451.3 L908.2 430.5 L932.9 418.1 L933.2 395.6 L908.6 397.1 L907 377.3 L930.4 360 L926.7 339 L901.6 346.2 L896.6 328.1 L917.7 306.6 L910.2 288 L885.6 300.6 L877.2 284.9 L895.2 260 L884.3 244.5 L861 261.9 L849.7 249.3 L863.9 222 L850 210.1 L828.9 231.7 L815 222.7 L825 193.9 L808.5 186.1 L790.6 211.1 L774.6 206 L779.9 177 L761.5 173.6 L747.4 201 L730 200 L730.4 171.7 L710.9 172.9 L701 201.7 L682.9 204.8 L678.4 178.5 L658.4 184.1 L653.3 213.2 L635.1 220.3 L625.9 196.9 L606.2 206.8 L606 235 L588.5 245.9 L574.9 226.3 L556.3 240.1 L561 266.4 L544.8 280.5 L527.3 265.5 L510.5 282.7 L519.9 306 L505.7 322.9 L485.1 313.1 L470.7 333 L484.5 352.4 L472.8 371.5 L449.7 367.2 L438.4 389 L456 403.9 L447.2 424.3 L422.6 425.7 L414.8 448.6 L435.5 458.3 L430 479.4 L404.9 486.4 L400.7 509.5 L423.8 513.7 L421.8 534.5 L397.1 546.9 L396.9 569.4 L421.5 567.9 L423 587.7 L399.7 605 L403.3 626 L428.4 618.8 L433.5 636.9 L412.4 658.4 L419.8 677 L444.5 664.4 L452.9 680.1 L434.8 705 L445.7 720.5 L469 703.1 L480.4 715.7 L466.1 743 L480.1 754.9 L501.1 733.3 L515 742.3 L505.1 771.1 L521.6 778.9 L539.5 753.9 L555.4 759 L550.1 788 L568.5 791.4 L582.7 764 L600 765 L599.6 793.3 L619.2 792.1 L629 763.3 L647.1 760.2 L651.6 786.5 L671.6 780.9 L676.8 751.8 L694.9 744.7 L704.2 768.1 L723.8 758.2 L724.1 730 L741.5 719.1 L755.2 738.7 L773.8 724.9 L769.1 698.6 L785.2 684.5 L802.7 699.5 L819.5 682.3 L810.1 659 L824.3 642.1 L845 651.9 L859.3 632 L845.6 612.6Z" fill="#fff"/>
<ellipse cx="665" cy="482.5" rx="227.2" ry="307" transform="rotate(30 665 482.5)" fill="#fff"/>
<path d="M818.5 216.6 L857.5 239.1 L550.5 770.9 L511.5 748.4Z" fill="#fff" stroke="none"/>
<path d="M818.5 216.6L857.5 239.1M511.5 748.4L550.5 770.9" fill="none"/>
<ellipse cx="704" cy="505" rx="227.2" ry="307" transform="rotate(30 704 505)" fill="#fff"/>
<ellipse cx="704" cy="505" rx="227.2" ry="307" transform="rotate(30 704 505)" fill="#fff"/>
<ellipse cx="704" cy="505" rx="211.6" ry="286" transform="rotate(30 704 505)" fill="#fff" stroke-width="11.01"/>
<ellipse cx="704" cy="505" rx="188.7" ry="255" transform="rotate(30 704 505)" fill="#fff" stroke-width="16.51"/>
<path d="M831.8 521.1 L834.2 514.5 L836.5 507.9 L838.7 501.3 L840.6 494.6 L842.5 487.9 L844.1 481.2 L845.6 474.5 L846.9 467.8 L848.1 461.1 L849.1 454.4 L849.9 447.7 L850.5 441.1 L851 434.5 L851.3 427.9 L851.4 421.4 L851.4 415 L851.2 408.5 L850.8 402.2 L850.3 395.9 L849.5 389.7 L848.6 383.5 L847.6 377.5 L846.3 371.5 L844.9 365.6 L843.4 359.9 L841.6 354.2 L839.8 348.6 L837.7 343.2 L835.5 337.8 L833.1 332.6 L830.6 327.5 L827.9 322.6 L825.1 317.8 L822.1 313.1 L819 308.6 L815.7 304.2 L812.3 300 L808.7 295.9 L805.1 292 L801.3 288.2" fill="none" stroke-width="11.79"/>
<path d="M564.9 697.6 L570.1 699 L575.3 700.3 L580.6 701.3 L585.9 702.1 L591.4 702.8 L596.9 703.2 L602.4 703.5 L608 703.5 L613.6 703.4 L619.3 703 L625 702.5 L630.7 701.7 L636.4 700.8 L642.2 699.6 L648 698.3 L653.8 696.7 L659.6 695 L665.3 693.1 L671.1 691 L676.9 688.7 L682.6 686.2 L688.4 683.6 L694.1 680.7 L699.7 677.7 L705.3 674.5 L710.9 671.1 L716.5 667.6 L721.9 663.8 L727.4 660 L732.7 655.9 L738 651.7 L743.2 647.4 L748.4 642.9 L753.4 638.3 L758.4 633.5 L763.3 628.5 L768.1 623.5 L772.8 618.3 L777.4 613 L781.9 607.6" fill="none" stroke-width="11.79"/>
<path d="M615 483L775 572M790 580L855 618M880 632L1035 722" fill="none"/>
<ellipse cx="1181.3" cy="784" rx="127.5" ry="255" transform="rotate(30 1181.3 784)" fill="#fff"/>
<path d="M1308.8 563.2 L1362.5 594.2 L1107.5 1035.8 L1053.8 1004.8Z" fill="#fff" stroke="none"/>
<path d="M1308.8 563.2L1362.5 594.2M1053.8 1004.8L1107.5 1035.8" fill="none"/>
<ellipse cx="1235" cy="815" rx="127.5" ry="255" transform="rotate(30 1235 815)" fill="#fff"/>
<ellipse cx="1235" cy="815" rx="109" ry="218" transform="rotate(30 1235 815)" fill="#fff" stroke-width="15.72"/>
<path d="M1301.7 799.5 L1304.3 793.5 L1306.8 787.5 L1309.2 781.5 L1311.5 775.5 L1313.7 769.4 L1315.8 763.5 L1317.7 757.5 L1319.5 751.5 L1321.2 745.6 L1322.8 739.7 L1324.2 733.9 L1325.6 728.1 L1326.8 722.3 L1327.9 716.6 L1328.8 711 L1329.6 705.4 L1330.3 699.9 L1330.9 694.5 L1331.3 689.2 L1331.6 683.9 L1331.8 678.7 L1331.9 673.7 L1331.8 668.7 L1331.6 663.8 L1331.2 659 L1330.7 654.4 L1330.1 649.8 L1329.4 645.4 L1328.5 641.1 L1327.5 636.9 L1326.4 632.9 L1325.1 629 L1323.8 625.2 L1322.3 621.6 L1320.6 618.1 L1318.9 614.7 L1317 611.5 L1315.1 608.5 L1313 605.6 L1310.7 602.9" fill="none" stroke-width="11.79"/>
<path d="M1089.2 986.7 L1092.6 987.2 L1096.2 987.6 L1099.8 987.8 L1103.5 987.8 L1107.3 987.6 L1111.1 987.3 L1115 986.8 L1119 986.1 L1123 985.2 L1127 984.2 L1131.1 982.9 L1135.3 981.5 L1139.5 980 L1143.8 978.2 L1148 976.3 L1152.3 974.2 L1156.7 972 L1161 969.6 L1165.4 967 L1169.8 964.2 L1174.2 961.3 L1178.6 958.3 L1183 955.1 L1187.4 951.7 L1191.8 948.2 L1196.3 944.6 L1200.6 940.8 L1205 936.9 L1209.4 932.8 L1213.7 928.7 L1218 924.4 L1222.3 919.9 L1226.5 915.4 L1230.7 910.7 L1234.9 905.9 L1239 901 L1243.1 896.1 L1247.1 891 L1251.1 885.8 L1254.9 880.5" fill="none" stroke-width="11.79"/>
<path d="M1200 575 L1260 610 L1255 640 M1260 560 L1265 610 L1340 600 L1270 562 Z" fill="#fff"/>
<path d="M1150 790L1295 872M1320 888L1375 918M1405 935L1545 1018" fill="none"/>
<ellipse cx="1694.3" cy="1057" rx="135" ry="270" transform="rotate(30 1694.3 1057)" fill="#fff"/>
<path d="M1829.3 823.2 L1883 854.2 L1613 1321.8 L1559.3 1290.8Z" fill="#fff" stroke="none"/>
<path d="M1829.3 823.2L1883 854.2M1559.3 1290.8L1613 1321.8" fill="none"/>
<ellipse cx="1748" cy="1088" rx="135" ry="270" transform="rotate(30 1748 1088)" fill="#fff"/>
<ellipse cx="1748" cy="1088" rx="124" ry="248" transform="rotate(30 1748 1088)" fill="#fff" stroke-width="11.01"/>
<ellipse cx="1748" cy="1088" rx="112.5" ry="225" transform="rotate(30 1748 1088)" fill="#fff" stroke-width="15.72"/>
<path d="M1813.1 1072.3 L1815.7 1066.4 L1818.2 1060.5 L1820.6 1054.5 L1822.8 1048.6 L1825 1042.7 L1827 1036.7 L1828.9 1030.8 L1830.7 1025 L1832.4 1019.1 L1833.9 1013.3 L1835.4 1007.6 L1836.7 1001.8 L1837.9 996.2 L1838.9 990.6 L1839.9 985 L1840.7 979.5 L1841.4 974.1 L1841.9 968.7 L1842.4 963.4 L1842.7 958.3 L1842.8 953.2 L1842.9 948.1 L1842.8 943.2 L1842.6 938.4 L1842.2 933.7 L1841.8 929.1 L1841.2 924.6 L1840.4 920.3 L1839.6 916 L1838.6 911.9 L1837.5 907.9 L1836.2 904 L1834.9 900.3 L1833.4 896.7 L1831.8 893.3 L1830.1 890 L1828.2 886.8 L1826.3 883.8 L1824.2 881 L1822 878.3" fill="none" stroke-width="11.79"/>
<path d="M1603.4 1257 L1606.8 1257.5 L1610.3 1257.9 L1613.9 1258.1 L1617.6 1258.1 L1621.3 1257.9 L1625.1 1257.6 L1628.9 1257.1 L1632.8 1256.4 L1636.8 1255.5 L1640.8 1254.5 L1644.8 1253.3 L1648.9 1251.9 L1653.1 1250.4 L1657.3 1248.6 L1661.5 1246.7 L1665.7 1244.7 L1670 1242.5 L1674.3 1240.1 L1678.6 1237.6 L1683 1234.9 L1687.3 1232 L1691.7 1229 L1696 1225.8 L1700.4 1222.5 L1704.7 1219.1 L1709.1 1215.5 L1713.4 1211.7 L1717.7 1207.9 L1722 1203.9 L1726.3 1199.7 L1730.6 1195.5 L1734.8 1191.1 L1739 1186.6 L1743.1 1182 L1747.2 1177.3 L1751.3 1172.5 L1755.3 1167.6 L1759.2 1162.6 L1763.1 1157.5 L1767 1152.3" fill="none" stroke-width="11.79"/>
<path d="M1665 1088L1830 1183M1845 1192L1910 1232M1945 1250L2044 1305" fill="none"/>
</g>
<text transform="translate(237.6 573.7) scale(0.9 1)" font-size="62" text-anchor="middle" stroke="#000" stroke-width="0.9" stroke-linejoin="miter">14</text>
<text transform="translate(400.2 581.8) scale(0.9 1)" font-size="62" text-anchor="middle" stroke="#000" stroke-width="0.9" stroke-linejoin="miter">15</text>
<!-- p_41_left2 -->
<g transform="translate(660 440) scale(0.31311)" stroke-width="11.82">
<path d="M210 1285L355 920"/>
<path d="M1235 1790L1295 1240"/>
<path d="M720 185L920 75"/>
<path d="M0 290L30 305M105 345L240 420" fill="none"/>
<ellipse cx="415.1" cy="497.5" rx="161.7" ry="385" transform="rotate(30 415.1 497.5)" fill="#fff"/>
<path d="M607.6 164.1 L642.3 184.1 L257.3 850.9 L222.6 830.9Z" fill="#fff" stroke="none"/>
<path d="M607.6 164.1L642.3 184.1M222.6 830.9L257.3 850.9" fill="none"/>
<ellipse cx="449.8" cy="517.5" rx="161.7" ry="385" transform="rotate(30 449.8 517.5)" fill="#fff"/>
<ellipse cx="449.8" cy="517.5" rx="149.9" ry="357" transform="rotate(30 449.8 517.5)" fill="#fff"/>
<path d="M628.3 208.3 L678.5 237.3 L321.5 855.7 L271.3 826.7Z" fill="#fff" stroke="none"/>
<path d="M628.3 208.3L678.5 237.3M271.3 826.7L321.5 855.7" fill="none"/>
<ellipse cx="500" cy="546.5" rx="149.9" ry="357" transform="rotate(30 500 546.5)" fill="#fff"/>
<ellipse cx="500" cy="546.5" rx="161.7" ry="385" transform="rotate(30 500 546.5)" fill="#fff"/>
<path d="M692.5 213.1 L717.6 227.6 L332.6 894.4 L307.5 879.9Z" fill="#fff" stroke="none"/>
<path d="M692.5 213.1L717.6 227.6M307.5 879.9L332.6 894.4" fill="none"/>
<ellipse cx="525.1" cy="561" rx="161.7" ry="385" transform="rotate(30 525.1 561)" fill="#fff"/>
<ellipse cx="525.1" cy="561" rx="154.1" ry="367" transform="rotate(30 525.1 561)" fill="#fff"/>
<path d="M708.6 243.2 L738.9 260.7 L371.9 896.3 L341.6 878.8Z" fill="#fff" stroke="none"/>
<path d="M708.6 243.2L738.9 260.7M341.6 878.8L371.9 896.3" fill="none"/>
<ellipse cx="555.4" cy="578.5" rx="154.1" ry="367" transform="rotate(30 555.4 578.5)" fill="#fff"/>
<ellipse cx="555.4" cy="578.5" rx="161.7" ry="385" transform="rotate(30 555.4 578.5)" fill="#fff"/>
<path d="M747.9 245.1 L802.5 276.6 L417.5 943.4 L362.9 911.9Z" fill="#fff" stroke="none"/>
<path d="M747.9 245.1L802.5 276.6M362.9 911.9L417.5 943.4" fill="none"/>
<ellipse cx="610" cy="610" rx="161.7" ry="385" transform="rotate(30 610 610)" fill="#fff"/>
<ellipse cx="610" cy="610" rx="135.2" ry="322" transform="rotate(30 610 610)" fill="#fff"/>
<ellipse cx="594.4" cy="601" rx="110" ry="262" transform="rotate(30 594.4 601)" fill="#fff"/>
<ellipse cx="585.8" cy="596" rx="95.8" ry="228" transform="rotate(30 585.8 596)" fill="#fff" stroke-width="12.78"/>
<ellipse cx="571" cy="587.5" rx="81.9" ry="195" transform="rotate(30 571 587.5)" fill="#fff" stroke-width="12.78"/>
<ellipse cx="549.4" cy="575" rx="67.2" ry="160" transform="rotate(30 549.4 575)" fill="#fff" stroke-width="9.58"/>
<path d="M453.6 692.9L520.3 731.9M457.4 660.5L536.4 706.5M465.2 630.3L552.1 681M475.5 601.6L567.6 655.2M487.8 574.1L582.9 629.4M501.9 547.6L597.9 603.5M517.8 522.1L612.9 577.5M535.5 497.7L627.6 551.3M555.2 474.4L642.1 525.1M577.4 452.6L656.4 498.7M603.6 433.1L670.3 472" fill="none" stroke-width="9.58"/>
<path d="M640 655L760 725M825 762L995 860" fill="none"/>
<path d="M1233.8 984.2 L1246.3 985.2 L1254.5 970.3 L1245.9 962.2 L1252.9 948.6 L1267 945.7 L1274.1 930.6 L1263.3 926.2 L1269.1 912.5 L1284.5 905.9 L1290.3 890.8 L1277.6 890.3 L1282.2 876.8 L1298.5 866.6 L1302.8 852.1 L1288.5 855.3 L1291.7 842.5 L1308.6 828.9 L1311.4 815.2 L1295.8 822.2 L1297.6 810.3 L1314.6 793.7 L1315.7 781.2 L1299.2 791.8 L1299.5 781.1 L1316.2 761.9 L1315.7 750.8 L1298.8 764.8 L1297.5 755.5 L1313.5 734.2 L1311.3 724.9 L1294.4 741.8 L1291.7 734.2 L1306.5 711.3 L1302.8 704 L1286.2 723.4 L1282.1 717.8 L1295.4 693.8 L1290.2 688.6 L1274.4 710.2 L1269 706.6 L1280.5 682.1 L1273.9 679.2 L1259.3 702.4 L1252.7 700.8 L1262.2 676.5 L1254.4 676 L1241.2 700.1 L1233.7 700.8 L1240.8 677.2 L1232 679.1 L1220.7 703.5 L1212.3 706.3 L1216.9 684.1 L1207.3 688.3 L1198.2 712.6 L1189.2 717.4 L1191.2 697 L1181 703.4 L1174.2 726.9 L1164.9 733.7 L1164.2 715.7 L1153.7 724.2 L1149.4 746.3 L1139.9 754.8 L1136.6 739.6 L1126.1 750 L1124.4 770.1 L1115 780.3 L1109.1 768.3 L1098.8 780.3 L1099.8 798 L1090.6 809.4 L1082.3 800.9 L1072.5 814.2 L1076.1 829 L1067.5 841.5 L1057 836.7 L1047.8 851 L1054 862.6 L1046.2 875.8 L1033.7 874.8 L1025.5 889.7 L1034.1 897.8 L1027.1 911.4 L1013 914.3 L1005.9 929.4 L1016.7 933.8 L1010.9 947.5 L995.5 954.1 L989.7 969.2 L1002.4 969.7 L997.8 983.2 L981.5 993.4 L977.2 1007.9 L991.5 1004.7 L988.3 1017.5 L971.4 1031.1 L968.6 1044.8 L984.2 1037.8 L982.4 1049.7 L965.4 1066.3 L964.3 1078.8 L980.8 1068.2 L980.5 1078.9 L963.8 1098.1 L964.3 1109.2 L981.2 1095.2 L982.5 1104.5 L966.5 1125.8 L968.7 1135.1 L985.6 1118.2 L988.3 1125.8 L973.5 1148.7 L977.2 1156 L993.8 1136.6 L997.9 1142.2 L984.6 1166.2 L989.8 1171.4 L1005.6 1149.8 L1011 1153.4 L999.5 1177.9 L1006.1 1180.8 L1020.7 1157.6 L1027.3 1159.2 L1017.8 1183.5 L1025.6 1184 L1038.8 1159.9 L1046.3 1159.2 L1039.2 1182.8 L1048 1180.9 L1059.3 1156.5 L1067.7 1153.7 L1063.1 1175.9 L1072.7 1171.7 L1081.8 1147.4 L1090.8 1142.6 L1088.8 1163 L1099 1156.6 L1105.8 1133.1 L1115.1 1126.3 L1115.8 1144.3 L1126.3 1135.8 L1130.6 1113.7 L1140.1 1105.2 L1143.4 1120.4 L1153.9 1110 L1155.6 1089.9 L1165 1079.7 L1170.9 1091.7 L1181.2 1079.7 L1180.2 1062 L1189.4 1050.6 L1197.7 1059.1 L1207.5 1045.8 L1203.9 1031 L1212.5 1018.5 L1223 1023.3 L1232.2 1009 L1226 997.4Z" fill="#fff" stroke-width="9.58"/>
<path d="M1269 706.6 L1364.3 761.6 L1106.3 1208.4 L1011 1153.4Z" fill="#fff" stroke="none"/>
<path d="M1295.4 693.8 L1401.8 766.3 L1398 759 L1290.2 688.6Z" fill="#fff" stroke-width="9.58"/>
<path d="M1280.5 682.1 L1390.7 748.8 L1385.5 743.6 L1273.9 679.2Z" fill="#fff" stroke-width="9.58"/>
<path d="M1262.2 676.5 L1375.8 737.1 L1369.2 734.2 L1254.4 676Z" fill="#fff" stroke-width="9.58"/>
<path d="M1240.8 677.2 L1357.4 731.5 L1349.6 731 L1232 679.1Z" fill="#fff" stroke-width="9.58"/>
<path d="M1216.9 684.1 L1336 732.2 L1327.2 734.1 L1207.3 688.3Z" fill="#fff" stroke-width="9.58"/>
<path d="M1191.2 697 L1312.2 739.1 L1302.6 743.3 L1181 703.4Z" fill="#fff" stroke-width="9.58"/>
<path d="M1164.2 715.7 L1286.4 752 L1276.3 758.4 L1153.7 724.2Z" fill="#fff" stroke-width="9.58"/>
<path d="M1136.6 739.6 L1259.4 770.7 L1249 779.2 L1126.1 750Z" fill="#fff" stroke-width="9.58"/>
<path d="M1109.1 768.3 L1231.8 794.6 L1221.3 805 L1098.8 780.3Z" fill="#fff" stroke-width="9.58"/>
<path d="M1082.3 800.9 L1204.3 823.3 L1194 835.3 L1072.5 814.2Z" fill="#fff" stroke-width="9.58"/>
<path d="M1057 836.7 L1177.6 855.9 L1167.7 869.2 L1047.8 851Z" fill="#fff" stroke-width="9.58"/>
<path d="M1033.7 874.8 L1152.2 891.7 L1143.1 906 L1025.5 889.7Z" fill="#fff" stroke-width="9.58"/>
<path d="M1013 914.3 L1128.9 929.8 L1120.7 944.7 L1005.9 929.4Z" fill="#fff" stroke-width="9.58"/>
<path d="M995.5 954.1 L1108.3 969.3 L1101.2 984.4 L989.7 969.2Z" fill="#fff" stroke-width="9.58"/>
<path d="M981.5 993.4 L1090.7 1009.1 L1085 1024.2 L977.2 1007.9Z" fill="#fff" stroke-width="9.58"/>
<path d="M971.4 1031.1 L1076.7 1048.4 L1072.4 1062.9 L968.6 1044.8Z" fill="#fff" stroke-width="9.58"/>
<path d="M965.4 1066.3 L1066.6 1086.1 L1063.9 1099.8 L964.3 1078.8Z" fill="#fff" stroke-width="9.58"/>
<path d="M963.8 1098.1 L1060.7 1121.3 L1059.6 1133.8 L964.3 1109.2Z" fill="#fff" stroke-width="9.58"/>
<path d="M966.5 1125.8 L1059.1 1153.1 L1059.6 1164.2 L968.7 1135.1Z" fill="#fff" stroke-width="9.58"/>
<path d="M973.5 1148.7 L1061.8 1180.8 L1063.9 1190.1 L977.2 1156Z" fill="#fff" stroke-width="9.58"/>
<path d="M984.6 1166.2 L1068.8 1203.7 L1072.5 1211 L989.8 1171.4Z" fill="#fff" stroke-width="9.58"/>
<path d="M999.5 1177.9 L1079.8 1221.2 L1085.1 1226.4 L1006.1 1180.8Z" fill="#fff" stroke-width="9.58"/>
<path d="M1017.8 1183.5 L1094.7 1232.9 L1101.3 1235.8 L1025.6 1184Z" fill="#fff" stroke-width="9.58"/>
<path d="M1307.8 1073.5 L1318.3 1078.3 L1327.4 1064 L1321.2 1052.4 L1329.1 1039.2 L1341.6 1040.2 L1349.8 1025.3 L1341.2 1017.2 L1348.1 1003.6 L1362.3 1000.7 L1369.3 985.6 L1358.6 981.2 L1364.4 967.5 L1379.8 960.9 L1385.6 945.8 L1372.9 945.3 L1377.4 931.8 L1393.8 921.6 L1398.1 907.1 L1383.8 910.3 L1387 897.5 L1403.9 883.9 L1406.6 870.2 L1391.1 877.2 L1392.8 865.3 L1409.8 848.7 L1410.9 836.2 L1394.5 846.8 L1394.8 836.1 L1411.4 816.9 L1410.9 805.8 L1394 819.8 L1392.8 810.5 L1408.7 789.2 L1406.6 779.9 L1389.6 796.8 L1386.9 789.2 L1401.8 766.3 L1398 759 L1381.4 778.4 L1377.4 772.8 L1390.7 748.8 L1385.5 743.6 L1369.6 765.2 L1364.3 761.6 L1375.8 737.1 L1369.2 734.2 L1354.5 757.4 L1348 755.8 L1357.4 731.5 L1349.6 731 L1336.5 755.1 L1329 755.8 L1336 732.2 L1327.2 734.1 L1316 758.5 L1307.6 761.3 L1312.2 739.1 L1302.6 743.3 L1293.4 767.6 L1284.5 772.4 L1286.4 752 L1276.3 758.4 L1269.5 781.9 L1260.1 788.7 L1259.4 770.7 L1249 779.2 L1244.7 801.3 L1235.2 809.8 L1231.8 794.6 L1221.3 805 L1219.7 825.1 L1210.2 835.3 L1204.3 823.3 L1194 835.3 L1195 853 L1185.9 864.4 L1177.6 855.9 L1167.7 869.2 L1171.4 884 L1162.8 896.5 L1152.2 891.7 L1143.1 906 L1149.3 917.6 L1141.4 930.8 L1128.9 929.8 L1120.7 944.7 L1129.3 952.8 L1122.4 966.4 L1108.3 969.3 L1101.2 984.4 L1112 988.8 L1106.2 1002.5 L1090.7 1009.1 L1085 1024.2 L1097.7 1024.7 L1093.1 1038.2 L1076.7 1048.4 L1072.4 1062.9 L1086.7 1059.7 L1083.5 1072.5 L1066.6 1086.1 L1063.9 1099.8 L1079.5 1092.8 L1077.7 1104.7 L1060.7 1121.3 L1059.6 1133.8 L1076 1123.2 L1075.7 1133.9 L1059.1 1153.1 L1059.6 1164.2 L1076.5 1150.2 L1077.7 1159.5 L1061.8 1180.8 L1063.9 1190.1 L1080.9 1173.2 L1083.6 1180.8 L1068.8 1203.7 L1072.5 1211 L1089.1 1191.6 L1093.2 1197.2 L1079.8 1221.2 L1085.1 1226.4 L1100.9 1204.8 L1106.3 1208.4 L1094.7 1232.9 L1101.3 1235.8 L1116 1212.6 L1122.5 1214.2 L1113.1 1238.5 L1120.9 1239 L1134 1214.9 L1141.6 1214.2 L1134.5 1237.8 L1143.3 1235.9 L1154.6 1211.5 L1162.9 1208.7 L1158.3 1230.9 L1167.9 1226.7 L1177.1 1202.4 L1186.1 1197.6 L1184.1 1218 L1194.2 1211.6 L1201 1188.1 L1210.4 1181.3 L1211.1 1199.3 L1221.5 1190.8 L1225.8 1168.7 L1235.4 1160.2 L1238.7 1175.4 L1249.2 1165 L1250.9 1144.9 L1260.3 1134.7 L1266.2 1146.7 L1276.5 1134.7 L1275.5 1117 L1284.6 1105.6 L1293 1114.1 L1302.8 1100.8 L1299.2 1086Z" fill="#fff" stroke-width="9.58"/>
<ellipse cx="1235.3" cy="985" rx="86.1" ry="205" transform="rotate(30 1235.3 985)" fill="#fff"/>
<path d="M1334.3 813.5 L1620.1 978.5 L1422.1 1321.5 L1136.3 1156.5Z" fill="#fff" stroke="none"/>
<path d="M1334.3 813.5L1620.1 978.5M1136.3 1156.5L1422.1 1321.5" fill="none"/>
<path d="M1614.9 1204.2 L1627.4 1205.2 L1635.6 1190.3 L1627 1182.2 L1633.9 1168.6 L1648.1 1165.7 L1655.1 1150.6 L1644.3 1146.2 L1650.2 1132.5 L1665.6 1125.9 L1671.4 1110.8 L1658.7 1110.3 L1663.2 1096.8 L1679.6 1086.6 L1683.9 1072.1 L1669.6 1075.3 L1672.8 1062.5 L1689.7 1048.9 L1692.4 1035.2 L1676.9 1042.2 L1678.6 1030.3 L1695.6 1013.7 L1696.7 1001.2 L1680.3 1011.8 L1680.6 1001.1 L1697.2 981.9 L1696.7 970.8 L1679.8 984.8 L1678.6 975.5 L1694.5 954.2 L1692.4 944.9 L1675.4 961.8 L1672.7 954.2 L1687.6 931.3 L1683.8 924 L1667.2 943.4 L1663.1 937.8 L1676.5 913.8 L1671.2 908.6 L1655.4 930.2 L1650.1 926.6 L1661.6 902.1 L1655 899.2 L1640.3 922.4 L1633.8 920.8 L1643.2 896.5 L1635.4 896 L1622.3 920.1 L1614.7 920.8 L1621.8 897.2 L1613 899.1 L1601.7 923.5 L1593.4 926.3 L1598 904.1 L1588.4 908.3 L1579.2 932.6 L1570.3 937.4 L1572.2 917 L1562.1 923.4 L1555.3 946.9 L1545.9 953.7 L1545.2 935.7 L1534.8 944.2 L1530.5 966.3 L1521 974.8 L1517.6 959.6 L1507.1 970 L1505.4 990.1 L1496 1000.3 L1490.1 988.3 L1479.8 1000.3 L1480.8 1018 L1471.7 1029.4 L1463.3 1020.9 L1453.5 1034.2 L1457.1 1049 L1448.5 1061.5 L1438 1056.7 L1428.9 1071 L1435.1 1082.6 L1427.2 1095.8 L1414.7 1094.8 L1406.5 1109.7 L1415.1 1117.8 L1408.2 1131.4 L1394 1134.3 L1387 1149.4 L1397.8 1153.8 L1391.9 1167.5 L1376.5 1174.1 L1370.7 1189.2 L1383.4 1189.7 L1378.9 1203.2 L1362.5 1213.4 L1358.2 1227.9 L1372.5 1224.7 L1369.3 1237.5 L1352.4 1251.1 L1349.7 1264.8 L1365.2 1257.8 L1363.5 1269.7 L1346.5 1286.3 L1345.4 1298.8 L1361.8 1288.2 L1361.5 1298.9 L1344.9 1318.1 L1345.4 1329.2 L1362.3 1315.2 L1363.5 1324.5 L1347.6 1345.8 L1349.7 1355.1 L1366.7 1338.2 L1369.4 1345.8 L1354.5 1368.7 L1358.3 1376 L1374.9 1356.6 L1379 1362.2 L1365.6 1386.2 L1370.9 1391.4 L1386.7 1369.8 L1392.1 1373.4 L1380.5 1397.9 L1387.1 1400.8 L1401.8 1377.6 L1408.3 1379.2 L1398.9 1403.5 L1406.7 1404 L1419.8 1379.9 L1427.4 1379.2 L1420.3 1402.8 L1429.1 1400.9 L1440.4 1376.5 L1448.7 1373.7 L1444.1 1395.9 L1453.7 1391.7 L1462.9 1367.4 L1471.8 1362.6 L1469.9 1383 L1480 1376.6 L1486.8 1353.1 L1496.2 1346.3 L1496.9 1364.3 L1507.3 1355.8 L1511.6 1333.7 L1521.1 1325.2 L1524.5 1340.4 L1535 1330 L1536.7 1309.9 L1546.1 1299.7 L1552 1311.7 L1562.3 1299.7 L1561.3 1282 L1570.4 1270.6 L1578.8 1279.1 L1588.6 1265.8 L1585 1251 L1593.6 1238.5 L1604.1 1243.3 L1613.2 1229 L1607 1217.4Z" fill="#fff" stroke-width="9.58"/>
<path d="M1650.1 926.6 L1745.3 981.6 L1487.3 1428.4 L1392.1 1373.4Z" fill="#fff" stroke="none"/>
<path d="M1676.5 913.8 L1782.8 986.3 L1779.1 979 L1671.2 908.6Z" fill="#fff" stroke-width="9.58"/>
<path d="M1661.6 902.1 L1771.7 968.8 L1766.5 963.6 L1655 899.2Z" fill="#fff" stroke-width="9.58"/>
<path d="M1643.2 896.5 L1756.8 957.1 L1750.2 954.2 L1635.4 896Z" fill="#fff" stroke-width="9.58"/>
<path d="M1621.8 897.2 L1738.5 951.5 L1730.7 951 L1613 899.1Z" fill="#fff" stroke-width="9.58"/>
<path d="M1598 904.1 L1717.1 952.2 L1708.3 954.1 L1588.4 908.3Z" fill="#fff" stroke-width="9.58"/>
<path d="M1572.2 917 L1693.2 959.1 L1683.7 963.3 L1562.1 923.4Z" fill="#fff" stroke-width="9.58"/>
<path d="M1545.2 935.7 L1667.5 972 L1657.3 978.4 L1534.8 944.2Z" fill="#fff" stroke-width="9.58"/>
<path d="M1517.6 959.6 L1640.5 990.7 L1630 999.2 L1507.1 970Z" fill="#fff" stroke-width="9.58"/>
<path d="M1490.1 988.3 L1612.9 1014.6 L1602.4 1025 L1479.8 1000.3Z" fill="#fff" stroke-width="9.58"/>
<path d="M1463.3 1020.9 L1585.4 1043.3 L1575.1 1055.3 L1453.5 1034.2Z" fill="#fff" stroke-width="9.58"/>
<path d="M1438 1056.7 L1558.6 1075.9 L1548.8 1089.2 L1428.9 1071Z" fill="#fff" stroke-width="9.58"/>
<path d="M1414.7 1094.8 L1533.3 1111.7 L1524.2 1126 L1406.5 1109.7Z" fill="#fff" stroke-width="9.58"/>
<path d="M1394 1134.3 L1510 1149.8 L1501.8 1164.7 L1387 1149.4Z" fill="#fff" stroke-width="9.58"/>
<path d="M1376.5 1174.1 L1489.3 1189.3 L1482.2 1204.4 L1370.7 1189.2Z" fill="#fff" stroke-width="9.58"/>
<path d="M1362.5 1213.4 L1471.8 1229.1 L1466 1244.2 L1358.2 1227.9Z" fill="#fff" stroke-width="9.58"/>
<path d="M1352.4 1251.1 L1457.8 1268.4 L1453.5 1282.9 L1349.7 1264.8Z" fill="#fff" stroke-width="9.58"/>
<path d="M1346.5 1286.3 L1447.7 1306.1 L1444.9 1319.8 L1345.4 1298.8Z" fill="#fff" stroke-width="9.58"/>
<path d="M1344.9 1318.1 L1441.8 1341.3 L1440.6 1353.8 L1345.4 1329.2Z" fill="#fff" stroke-width="9.58"/>
<path d="M1347.6 1345.8 L1440.1 1373.1 L1440.6 1384.2 L1349.7 1355.1Z" fill="#fff" stroke-width="9.58"/>
<path d="M1354.5 1368.7 L1442.8 1400.8 L1445 1410.1 L1358.3 1376Z" fill="#fff" stroke-width="9.58"/>
<path d="M1365.6 1386.2 L1449.8 1423.7 L1453.6 1431 L1370.9 1391.4Z" fill="#fff" stroke-width="9.58"/>
<path d="M1380.5 1397.9 L1460.9 1441.2 L1466.1 1446.4 L1387.1 1400.8Z" fill="#fff" stroke-width="9.58"/>
<path d="M1398.9 1403.5 L1475.8 1452.9 L1482.4 1455.8 L1406.7 1404Z" fill="#fff" stroke-width="9.58"/>
<path d="M1688.8 1293.5 L1699.4 1298.3 L1708.5 1284 L1702.3 1272.4 L1710.2 1259.2 L1722.6 1260.2 L1730.8 1245.3 L1722.3 1237.2 L1729.2 1223.6 L1743.3 1220.7 L1750.4 1205.6 L1739.6 1201.2 L1745.4 1187.5 L1760.9 1180.9 L1766.6 1165.8 L1753.9 1165.3 L1758.5 1151.8 L1774.9 1141.6 L1779.2 1127.1 L1764.9 1130.3 L1768.1 1117.5 L1784.9 1103.9 L1787.7 1090.2 L1772.1 1097.2 L1773.9 1085.3 L1790.9 1068.7 L1792 1056.2 L1775.6 1066.8 L1775.8 1056.1 L1792.5 1036.9 L1792 1025.8 L1775.1 1039.8 L1773.9 1030.5 L1789.8 1009.2 L1787.6 999.9 L1770.7 1016.8 L1768 1009.2 L1782.8 986.3 L1779.1 979 L1762.5 998.4 L1758.4 992.8 L1771.7 968.8 L1766.5 963.6 L1750.7 985.2 L1745.3 981.6 L1756.8 957.1 L1750.2 954.2 L1735.6 977.4 L1729 975.8 L1738.5 951.5 L1730.7 951 L1717.5 975.1 L1710 975.8 L1717.1 952.2 L1708.3 954.1 L1697 978.5 L1688.7 981.3 L1693.2 959.1 L1683.7 963.3 L1674.5 987.6 L1665.5 992.4 L1667.5 972 L1657.3 978.4 L1650.5 1001.9 L1641.2 1008.7 L1640.5 990.7 L1630 999.2 L1625.7 1021.3 L1616.2 1029.8 L1612.9 1014.6 L1602.4 1025 L1600.7 1045.1 L1591.3 1055.3 L1585.4 1043.3 L1575.1 1055.3 L1576.1 1073 L1566.9 1084.4 L1558.6 1075.9 L1548.8 1089.2 L1552.4 1104 L1543.8 1116.5 L1533.3 1111.7 L1524.2 1126 L1530.3 1137.6 L1522.5 1150.8 L1510 1149.8 L1501.8 1164.7 L1510.4 1172.8 L1503.4 1186.4 L1489.3 1189.3 L1482.2 1204.4 L1493 1208.8 L1487.2 1222.5 L1471.8 1229.1 L1466 1244.2 L1478.7 1244.7 L1474.1 1258.2 L1457.8 1268.4 L1453.5 1282.9 L1467.8 1279.7 L1464.6 1292.5 L1447.7 1306.1 L1444.9 1319.8 L1460.5 1312.8 L1458.7 1324.7 L1441.8 1341.3 L1440.6 1353.8 L1457.1 1343.2 L1456.8 1353.9 L1440.1 1373.1 L1440.6 1384.2 L1457.6 1370.2 L1458.8 1379.5 L1442.8 1400.8 L1445 1410.1 L1462 1393.2 L1464.6 1400.8 L1449.8 1423.7 L1453.6 1431 L1470.1 1411.6 L1474.2 1417.2 L1460.9 1441.2 L1466.1 1446.4 L1481.9 1424.8 L1487.3 1428.4 L1475.8 1452.9 L1482.4 1455.8 L1497.1 1432.6 L1503.6 1434.2 L1494.2 1458.5 L1502 1459 L1515.1 1434.9 L1522.6 1434.2 L1515.5 1457.8 L1524.3 1455.9 L1535.6 1431.5 L1544 1428.7 L1539.4 1450.9 L1549 1446.7 L1558.1 1422.4 L1567.1 1417.6 L1565.1 1438 L1575.3 1431.6 L1582.1 1408.1 L1591.5 1401.3 L1592.1 1419.3 L1602.6 1410.8 L1606.9 1388.7 L1616.4 1380.2 L1619.7 1395.4 L1630.2 1385 L1631.9 1364.9 L1641.4 1354.7 L1647.3 1366.7 L1657.6 1354.7 L1656.6 1337 L1665.7 1325.6 L1674 1334.1 L1683.8 1320.8 L1680.2 1306Z" fill="#fff" stroke-width="9.58"/>
<ellipse cx="1616.3" cy="1205" rx="98.7" ry="235" transform="rotate(30 1616.3 1205)" fill="#fff"/>
<path d="M1733.8 1001.5 L1824.7 1054 L1589.7 1461 L1498.8 1408.5Z" fill="#fff" stroke="none"/>
<path d="M1733.8 1001.5L1824.7 1054M1498.8 1408.5L1589.7 1461" fill="none"/>
<ellipse cx="1707.2" cy="1257.5" rx="98.7" ry="235" transform="rotate(30 1707.2 1257.5)" fill="#fff"/>
<ellipse cx="1707.2" cy="1257.5" rx="81.9" ry="195" transform="rotate(30 1707.2 1257.5)" fill="#fff"/>
<path d="M1733.7 1229.6 L1735.9 1224.8 L1738 1220 L1740 1215.3 L1741.9 1210.5 L1743.8 1205.8 L1745.6 1201.1 L1747.3 1196.4 L1748.9 1191.7 L1750.4 1187.1 L1751.9 1182.5 L1753.2 1177.9 L1754.5 1173.4 L1755.6 1168.9 L1756.7 1164.5 L1757.7 1160.1 L1758.6 1155.8 L1759.4 1151.5 L1760.1 1147.3 L1760.7 1143.2 L1761.2 1139.1 L1761.6 1135.1 L1761.9 1131.2 L1762.1 1127.4 L1762.2 1123.7 L1762.2 1120 L1762.2 1116.5 L1762 1113 L1761.7 1109.7 L1761.3 1106.4 L1760.9 1103.3 L1760.3 1100.2 L1759.6 1097.3 L1758.9 1094.5 L1758 1091.8 L1757.1 1089.2 L1756 1086.7 L1754.9 1084.3 L1753.7 1082.1 L1752.4 1080 L1751 1078" fill="none" stroke-width="9.58"/>
<path d="M1573.7 1385.1 L1576.1 1385.3 L1578.6 1385.4 L1581.1 1385.3 L1583.7 1385.2 L1586.4 1384.8 L1589.1 1384.3 L1591.9 1383.7 L1594.7 1383 L1597.6 1382.1 L1600.5 1381.1 L1603.5 1379.9 L1606.5 1378.6 L1609.5 1377.1 L1612.6 1375.6 L1615.7 1373.9 L1618.9 1372 L1622 1370.1 L1625.2 1368 L1628.5 1365.7 L1631.7 1363.4 L1635 1360.9 L1638.2 1358.3 L1641.5 1355.6 L1644.8 1352.8 L1648.1 1349.9 L1651.4 1346.8 L1654.7 1343.7 L1658 1340.4 L1661.3 1337.1 L1664.6 1333.6 L1667.9 1330.1 L1671.1 1326.4 L1674.3 1322.7 L1677.6 1318.9 L1680.8 1315 L1683.9 1311 L1687.1 1307 L1690.2 1302.8 L1693.2 1298.6 L1696.3 1294.4" fill="none" stroke-width="9.58"/>
</g>
<text transform="translate(721 898.1) scale(0.9 1)" font-size="62" text-anchor="middle" stroke="#000" stroke-width="0.9" stroke-linejoin="miter">17</text>
<text transform="translate(1044 1043.1) scale(0.9 1)" font-size="62" text-anchor="middle" stroke="#000" stroke-width="0.9" stroke-linejoin="miter">18</text>
<!-- p_50_fork -->
<g transform="translate(560 1300) scale(0.34247)" stroke-width="10.80">
<path d="M463 232L300 790"/>
<path d="M1040 1185L1330 1475"/>
<path d="M1235 800L1780 1085"/>
<path d="M135 780L200 815M215 823L240 838" fill="none"/>
<ellipse cx="258" cy="858" rx="62" ry="88" transform="rotate(12 258 858)" fill="#fff" stroke-width="13.14"/>
<ellipse cx="268" cy="858" rx="42" ry="66" transform="rotate(12 268 858)" fill="#fff" stroke-width="11.68"/>
<path d="M290 770 L300 850 L330 860 L325 800 Z" fill="#fff" stroke-width="8.76"/>
<path d="M255 850L330 890M340 898L410 935" fill="none"/>
<path d="M530 885 L840 708 L900 632 L600 985 Z" fill="#fff"/>
<path d="M395 1010 Q400 930 450 895 Q490 875 520 885 L620 945 L545 1125 L405 1040 Z" fill="#fff"/>
<path d="M900 632 L1185 472 Q1200 465 1215 480 L1270 520 Q1290 560 1265 615 L1230 640 L965 690 L640 1205 Q560 1180 545 1130 Q545 1050 600 985 Z" fill="#fff"/>
<path d="M1265 615 L1050 730 Q900 850 895 990 Q905 1080 990 1090 L1040 1075 L1240 948 L1270 1040 L970 1210 L640 1205 Q615 1180 620 1100 Q630 1050 660 1020 L965 680 Z" fill="#fff" stroke="none"/>
<path d="M1265 615 L1050 730 Q900 850 895 990 Q905 1080 990 1090 L1040 1075 L1240 948" fill="none"/>
<path d="M905 1040 Q915 1050 960 1030 L1185 910 Q1200 900 1215 915 L1270 950 Q1290 990 1270 1040 L970 1210 L640 1205 Q615 1180 620 1100 Q630 1050 660 1020 L965 680 L1205 545" fill="none"/>
<ellipse cx="1232" cy="572" rx="27" ry="40" transform="rotate(25 1232 572)" fill="#fff"/>
<ellipse cx="1232" cy="1005" rx="27" ry="40" transform="rotate(25 1232 1005)" fill="#fff"/>
<ellipse cx="693" cy="1100" rx="40" ry="62" transform="rotate(25 693 1100)" fill="#fff"/>
<path d="M1085 755 L1160 710 L1175 740 L1215 735 L1235 755 L1230 795 L1150 845 L1100 815 Z" fill="#fff"/>
<path d="M1110 765 L1115 800 L1150 815 M1150 780 L1150 840 M1150 780 L1230 745 M1110 765 L1160 735 M1140 775 L1175 745" fill="none" stroke-width="8.18"/>
</g>
<text transform="translate(720.3 1372.5) scale(0.9 1)" font-size="62" text-anchor="middle" stroke="#000" stroke-width="0.9" stroke-linejoin="miter">19</text>
<text transform="translate(1048 1857.1) scale(0.9 1)" font-size="62" text-anchor="middle" stroke="#000" stroke-width="0.9" stroke-linejoin="miter">20</text>
<text transform="translate(1209 1699.5) scale(0.9 1)" font-size="62" text-anchor="middle" stroke="#000" stroke-width="0.9" stroke-linejoin="miter">21</text>
<!-- p_51_row1 -->
<g transform="translate(40 1460) scale(0.34247)" stroke-width="10.80">
<path d="M210 995L360 765"/>
<path d="M680 1465L915 1065"/>
<path d="M1185 1525L1455 1390"/>
<path d="M225 270L365 348"/>
<ellipse cx="556" cy="449.5" rx="161.7" ry="385" transform="rotate(30 556 449.5)" fill="#fff"/>
<path d="M718.7 543.4 L747.5 533.2 L751.6 525.6 L741.5 501 L742.6 498.7 L773.4 481.8 L776.9 474.1 L762.3 455.7 L763.3 453.4 L795.3 430.2 L798.2 422.5 L779.4 410.8 L780.2 408.6 L812.7 379.5 L814.9 372.1 L792.4 367.2 L792.9 365.1 L825.3 330.9 L826.8 323.9 L801 326 L801.3 324.1 L832.8 285.4 L833.4 279 L804.9 288.1 L805 286.3 L834.9 244.1 L834.7 238.4 L804.2 254.3 L804.1 252.7 L831.6 207.9 L830.7 203 L798.8 225.3 L798.4 224 L823.1 177.6 L821.4 173.6 L788.9 201.8 L788.3 200.8 L809.5 153.9 L807 150.9 L774.6 184.4 L773.8 183.7 L791.1 137.2 L787.9 135.4 L756.3 173.4 L755.3 173 L768.3 128.1 L764.5 127.4 L734.4 169.1 L733.2 169 L741.6 126.6 L737.3 127.1 L709.4 171.5 L708.1 171.8 L711.7 132.9 L707 134.5 L681.8 180.7 L680.4 181.3 L679.2 146.7 L674.1 149.4 L652.3 196.3 L650.8 197.3 L644.7 167.8 L639.5 171.5 L621.5 218.1 L620 219.4 L609.2 195.7 L603.8 200.4 L590.2 245.6 L588.6 247.1 L573.4 229.7 L568 235.3 L558.9 278.2 L557.3 279.9 L538 269.2 L532.8 275.5 L528.4 315 L526.9 317 L503.9 313.2 L498.9 320.1 L499.4 355.4 L498.1 357.5 L471.8 360.7 L467.2 368.1 L472.6 398.4 L471.3 400.6 L442.5 410.8 L438.4 418.4 L448.5 443 L447.4 445.3 L416.6 462.2 L413.1 469.9 L427.7 488.3 L426.7 490.6 L394.7 513.8 L391.8 521.5 L410.6 533.2 L409.8 535.4 L377.3 564.5 L375.1 571.9 L397.6 576.8 L397.1 578.9 L364.7 613.1 L363.2 620.1 L389 618 L388.7 619.9 L357.2 658.6 L356.6 665 L385.1 655.9 L385 657.7 L355.1 699.9 L355.3 705.6 L385.8 689.7 L385.9 691.3 L358.4 736.1 L359.3 741 L391.2 718.7 L391.6 720 L366.9 766.4 L368.6 770.4 L401.1 742.2 L401.7 743.2 L380.5 790.1 L383 793.1 L415.4 759.6 L416.2 760.3 L398.9 806.8 L402.1 808.6 L433.7 770.6 L434.7 771 L421.7 815.9 L425.5 816.6 L455.6 774.9 L456.8 775 L448.4 817.4 L452.7 816.9 L480.6 772.5 L481.9 772.2 L478.3 811.1 L483 809.5 L508.2 763.3 L509.6 762.7 L510.8 797.3 L515.9 794.6 L537.7 747.7 L539.2 746.7 L545.3 776.2 L550.5 772.5 L568.5 725.9 L570 724.6 L580.8 748.3 L586.2 743.6 L599.8 698.4 L601.4 696.9 L616.6 714.3 L622 708.7 L631.1 665.8 L632.7 664.1 L652 674.8 L657.2 668.5 L661.6 629 L663.1 627 L686.1 630.8 L691.1 623.9 L690.6 588.6 L691.9 586.5 L718.2 583.3 L722.8 575.9 L717.4 545.6Z" fill="#fff" stroke-width="9.34"/>
<ellipse cx="595" cy="472" rx="144.9" ry="345" transform="rotate(30 595 472)" fill="#fff" stroke-width="8.18"/>
<ellipse cx="595" cy="472" rx="133.6" ry="318" transform="rotate(30 595 472)" fill="#fff" stroke-width="12.26"/>
<path d="M672.3 444.6 L675.9 436.7 L679.4 428.7 L682.8 420.8 L686 412.9 L689.1 405 L692.1 397.2 L694.9 389.3 L697.6 381.6 L700.1 373.8 L702.5 366.1 L704.8 358.5 L706.9 351 L708.8 343.5 L710.6 336.1 L712.3 328.8 L713.7 321.6 L715.1 314.5 L716.2 307.5 L717.2 300.6 L718.1 293.9 L718.8 287.2 L719.3 280.7 L719.6 274.4 L719.8 268.1 L719.9 262.1 L719.7 256.2 L719.4 250.4 L719 244.8 L718.4 239.4 L717.6 234.1 L716.6 229 L715.5 224.1 L714.3 219.4 L712.8 214.9 L711.3 210.6 L709.5 206.5 L707.6 202.6 L705.6 198.9 L703.4 195.4 L701 192.1" fill="none" stroke-width="9.34"/>
<path d="M405.6 703.8 L409.6 704.2 L413.7 704.3 L418 704.2 L422.3 703.9 L426.8 703.4 L431.3 702.6 L435.9 701.6 L440.6 700.3 L445.4 698.8 L450.3 697.1 L455.2 695.1 L460.2 693 L465.3 690.6 L470.4 687.9 L475.6 685.1 L480.9 682 L486.2 678.8 L491.5 675.3 L496.9 671.6 L502.3 667.7 L507.7 663.5 L513.2 659.2 L518.6 654.7 L524.1 650 L529.6 645.1 L535.1 640.1 L540.6 634.8 L546.1 629.4 L551.6 623.8 L557.1 618.1 L562.5 612.1 L568 606.1 L573.4 599.9 L578.7 593.5 L584.1 587 L589.3 580.4 L594.6 573.6 L599.7 566.7 L604.9 559.7 L609.9 552.6" fill="none" stroke-width="9.34"/>
<path d="M460 410L1005 715"/>
<path d="M1395 600 L1440 600 L1455 640 L1450 720 L1420 725 L1400 700 Z" fill="#fff"/>
<path d="M1095 1125 L1125 1165 L1225 1110 L1220 1070 Z" fill="#fff"/>
<ellipse cx="1021.4" cy="725" rx="180.5" ry="361" transform="rotate(30 1021.4 725)" fill="#fff"/>
<path d="M1201.9 412.4 L1340.5 492.4 L979.5 1117.6 L840.9 1037.6Z" fill="#fff" stroke="none"/>
<path d="M1201.9 412.4L1340.5 492.4M840.9 1037.6L979.5 1117.6" fill="none"/>
<ellipse cx="1160" cy="805" rx="180.5" ry="361" transform="rotate(30 1160 805)" fill="#fff"/>
<path d="M1172 401.4L1310.6 481.4M1122.8 402.7L1261.3 482.7M1067.4 423.1L1206 503.1M1009.4 461.4L1147.9 541.4M952 515.4L1090.6 595.4M898.8 581.8L1037.4 661.8M852.9 656.8L991.5 736.8M817 735.8L955.6 815.8M793.2 814.1L931.8 894.1M783 887.2L921.6 967.2M787 950.6L925.5 1030.6M804.8 1000.6L943.4 1080.6M835.6 1034.3L974.2 1114.3" fill="none" stroke-width="8.18"/>
<path d="M1222.3 425.7 L1208.5 421.8 L1193.9 419.9 L1178.5 419.8 L1162.3 421.8 L1145.5 425.6 L1128.1 431.4 L1110.3 439 L1092.2 448.4 L1073.9 459.6 L1055.5 472.6 L1037.1 487.1 L1018.8 503.2 L1000.7 520.7 L982.9 539.5 L965.6 559.6 L948.8 580.8 L932.7 603 L917.3 626 L902.7 649.7 L889 674 L876.4 698.7 L864.8 723.7 L854.3 748.8 L845.1 773.9 L837.1 798.8 L830.4 823.4 L825 847.6 L821.1 871.1 L818.5 893.9 L817.4 915.7 L817.6 936.6 L819.3 956.3 L822.4 974.8 L826.9 991.9 L832.8 1007.5 L840 1021.5 L848.5 1034 L858.2 1044.6 L869.1 1053.5 L881.1 1060.6" fill="none" stroke-width="8.18"/>
<path d="M1256.9 445.7 L1243.2 441.8 L1228.6 439.9 L1213.1 439.8 L1196.9 441.8 L1180.1 445.6 L1162.7 451.4 L1145 459 L1126.9 468.4 L1108.5 479.6 L1090.1 492.6 L1071.7 507.1 L1053.4 523.2 L1035.3 540.7 L1017.6 559.5 L1000.2 579.6 L983.5 600.8 L967.3 623 L951.9 646 L937.3 669.7 L923.7 694 L911 718.7 L899.4 743.7 L889 768.8 L879.7 793.9 L871.7 818.8 L865 843.4 L859.7 867.6 L855.7 891.1 L853.2 913.9 L852 935.7 L852.3 956.6 L854 976.3 L857.1 994.8 L861.6 1011.9 L867.5 1027.5 L874.7 1041.5 L883.1 1054 L892.9 1064.6 L903.8 1073.5 L915.8 1080.6" fill="none" stroke-width="8.18"/>
<path d="M1291.5 465.7 L1277.8 461.8 L1263.2 459.9 L1247.7 459.8 L1231.6 461.8 L1214.7 465.6 L1197.4 471.4 L1179.6 479 L1161.5 488.4 L1143.2 499.6 L1124.8 512.6 L1106.3 527.1 L1088 543.2 L1069.9 560.7 L1052.2 579.5 L1034.9 599.6 L1018.1 620.8 L1002 643 L986.6 666 L972 689.7 L958.3 714 L945.6 738.7 L934.1 763.7 L923.6 788.8 L914.3 813.9 L906.4 838.8 L899.7 863.4 L894.3 887.6 L890.4 911.1 L887.8 933.9 L886.6 955.7 L886.9 976.6 L888.6 996.3 L891.7 1014.8 L896.2 1031.9 L902.1 1047.5 L909.3 1061.5 L917.8 1074 L927.5 1084.6 L938.4 1093.5 L950.4 1100.6" fill="none" stroke-width="8.18"/>
<ellipse cx="1160" cy="805" rx="165" ry="330" transform="rotate(30 1160 805)" fill="#fff" stroke-width="12.26"/>
<path d="M1228.3 770 L1231.9 761.7 L1235.3 753.4 L1238.6 745.1 L1241.8 736.8 L1244.8 728.6 L1247.6 720.3 L1250.3 712.1 L1252.8 703.9 L1255.1 695.7 L1257.3 687.6 L1259.3 679.6 L1261.1 671.6 L1262.8 663.7 L1264.3 655.8 L1265.6 648.1 L1266.7 640.4 L1267.7 632.8 L1268.5 625.3 L1269.1 618 L1269.5 610.7 L1269.7 603.6 L1269.8 596.6 L1269.7 589.7 L1269.4 583 L1268.9 576.4 L1268.2 570 L1267.4 563.8 L1266.4 557.7 L1265.2 551.7 L1263.8 546 L1262.2 540.4 L1260.5 535 L1258.6 529.8 L1256.6 524.8 L1254.3 520 L1251.9 515.4 L1249.4 511 L1246.6 506.8 L1243.7 502.8 L1240.7 499.1" fill="none" stroke-width="8.76"/>
<path d="M935.4 1027.8 L940.2 1028.6 L945.1 1029.1 L950.1 1029.4 L955.2 1029.4 L960.3 1029.2 L965.6 1028.7 L971 1028 L976.4 1027 L982 1025.8 L987.6 1024.4 L993.2 1022.7 L999 1020.8 L1004.8 1018.6 L1010.6 1016.2 L1016.5 1013.6 L1022.4 1010.7 L1028.4 1007.6 L1034.4 1004.3 L1040.4 1000.7 L1046.5 997 L1052.6 993 L1058.6 988.8 L1064.7 984.4 L1070.8 979.7 L1076.9 974.9 L1082.9 969.9 L1089 964.7 L1095 959.3 L1101 953.7 L1107 947.9 L1112.9 942 L1118.8 935.9 L1124.7 929.6 L1130.5 923.2 L1136.2 916.6 L1141.9 909.9 L1147.5 903 L1153 896 L1158.4 888.9 L1163.8 881.6" fill="none" stroke-width="8.76"/>
<path d="M1280.1 798 L1283.8 789.5 L1287.3 781 L1290.7 772.5 L1294 764 L1297 755.5 L1299.9 747.1 L1302.7 738.6 L1305.3 730.2 L1307.7 721.8 L1309.9 713.5 L1311.9 705.3 L1313.8 697.1 L1315.5 688.9 L1317.1 680.9 L1318.4 672.9 L1319.6 665 L1320.6 657.3 L1321.4 649.6 L1322 642.1 L1322.4 634.6 L1322.6 627.3 L1322.7 620.1 L1322.6 613.1 L1322.3 606.2 L1321.8 599.5 L1321.1 592.9 L1320.2 586.5 L1319.2 580.2 L1318 574.1 L1316.6 568.2 L1315 562.5 L1313.2 557 L1311.3 551.6 L1309.1 546.5 L1306.8 541.6 L1304.4 536.8 L1301.7 532.3 L1299 528 L1296 523.9 L1292.9 520.1" fill="none" stroke-width="7.59"/>
<path d="M979.7 1062.5 L984.6 1063.3 L989.6 1063.8 L994.7 1064.1 L1000 1064.1 L1005.3 1063.9 L1010.7 1063.4 L1016.2 1062.7 L1021.8 1061.7 L1027.5 1060.5 L1033.2 1059 L1039 1057.2 L1044.9 1055.3 L1050.8 1053 L1056.8 1050.6 L1062.9 1047.9 L1069 1044.9 L1075.1 1041.7 L1081.3 1038.3 L1087.4 1034.7 L1093.6 1030.8 L1099.9 1026.7 L1106.1 1022.4 L1112.3 1017.9 L1118.6 1013.2 L1124.8 1008.2 L1131 1003.1 L1137.2 997.7 L1143.4 992.2 L1149.6 986.5 L1155.7 980.5 L1161.8 974.5 L1167.8 968.2 L1173.8 961.8 L1179.8 955.2 L1185.7 948.4 L1191.5 941.5 L1197.2 934.5 L1202.9 927.3 L1208.5 920 L1214 912.5" fill="none" stroke-width="7.59"/>
<path d="M1236.5 750.5L1331.4 800.5M1254.7 697.2L1350.5 744.6M1265.9 645.8L1362.3 690.7M1269.8 598.2L1366.3 640.9M1266.1 556.2L1362.4 596.9M1255 521.4L1350.8 560.3M943.9 1029L1024.7 1092.5M977.7 1026.8L1060.1 1090.2M1014.8 1014.4L1098.9 1077.2M1053.6 992.2L1139.7 1054M1092.9 961.2L1180.9 1021.4M1131.1 922.4L1220.9 980.8" fill="none" stroke-width="8.18"/>
<path d="M1205 480 L1215 505 L1250 500" fill="none" stroke-width="8.76"/>
<path d="M1005 715L1425 950"/>
<ellipse cx="1600" cy="1049" rx="177.5" ry="355" transform="rotate(30 1600 1049)" fill="#fff"/>
<path d="M1777.5 741.6 L1874.5 797.6 L1519.5 1412.4 L1422.5 1356.4Z" fill="#fff" stroke="none"/>
<path d="M1777.5 741.6L1874.5 797.6M1422.5 1356.4L1519.5 1412.4" fill="none"/>
<ellipse cx="1697" cy="1105" rx="177.5" ry="355" transform="rotate(30 1697 1105)" fill="#fff"/>
<ellipse cx="1697" cy="1105" rx="161" ry="322" transform="rotate(30 1697 1105)" fill="#fff"/>
<ellipse cx="1697" cy="1105" rx="146" ry="292" transform="rotate(30 1697 1105)" fill="#fff" stroke-width="12.26"/>
<path d="M1756.4 1070.9 L1759.7 1063.3 L1762.9 1055.6 L1765.9 1048 L1768.8 1040.4 L1771.6 1032.8 L1774.2 1025.2 L1776.6 1017.6 L1778.9 1010.1 L1781.1 1002.6 L1783.1 995.2 L1784.9 987.8 L1786.6 980.4 L1788.1 973.1 L1789.5 965.9 L1790.7 958.8 L1791.8 951.7 L1792.6 944.8 L1793.4 937.9 L1793.9 931.1 L1794.3 924.4 L1794.5 917.9 L1794.6 911.5 L1794.5 905.2 L1794.2 899 L1793.7 892.9 L1793.1 887 L1792.4 881.3 L1791.4 875.7 L1790.3 870.2 L1789.1 864.9 L1787.6 859.8 L1786.1 854.9 L1784.3 850.1 L1782.4 845.5 L1780.4 841 L1778.2 836.8 L1775.8 832.8 L1773.3 828.9 L1770.6 825.3 L1767.8 821.8" fill="none" stroke-width="8.76"/>
<path d="M1487.2 1307.9 L1491.6 1308.6 L1496 1309.1 L1500.6 1309.4 L1505.3 1309.4 L1510.1 1309.2 L1514.9 1308.7 L1519.9 1308.1 L1524.9 1307.2 L1530 1306.1 L1535.1 1304.8 L1540.3 1303.2 L1545.6 1301.4 L1550.9 1299.4 L1556.3 1297.2 L1561.7 1294.8 L1567.2 1292.2 L1572.7 1289.3 L1578.2 1286.3 L1583.7 1283 L1589.3 1279.5 L1594.9 1275.9 L1600.5 1272 L1606 1268 L1611.6 1263.7 L1617.2 1259.3 L1622.8 1254.7 L1628.4 1249.9 L1633.9 1244.9 L1639.4 1239.8 L1644.9 1234.5 L1650.4 1229 L1655.8 1223.4 L1661.2 1217.6 L1666.5 1211.7 L1671.8 1205.7 L1677 1199.5 L1682.1 1193.2 L1687.2 1186.7 L1692.2 1180.2 L1697.2 1173.5" fill="none" stroke-width="8.76"/>
<path d="M1764 1053L1854.5 1103M1778.1 1012.8L1869 1061.8M1788.1 973.6L1879.1 1021.6M1793.5 936.3L1884.7 983.4M1794.3 901.9L1885.6 948.2M1790.5 871.2L1881.7 916.7M1782.2 844.9L1873.1 889.8M1769.5 823.8L1860.1 868.2M1492.3 1308.7L1576.1 1365M1517.3 1308.5L1601.7 1364.7M1544.4 1301.9L1629.5 1358M1573 1289.2L1658.8 1345M1602.4 1270.6L1688.9 1326M1632 1246.7L1719.2 1301.5M1660.8 1218L1748.8 1272M1688.4 1185.2L1777 1238.5" fill="none" stroke-width="8.76"/>
<path d="M1575 1035L1925 1230"/>
</g>
<text transform="translate(84.5 1856.1) scale(0.9 1)" font-size="62" text-anchor="middle" stroke="#000" stroke-width="0.9" stroke-linejoin="miter">22</text>
<text transform="translate(241.4 2013.6) scale(0.9 1)" font-size="62" text-anchor="middle" stroke="#000" stroke-width="0.9" stroke-linejoin="miter">23</text>
<text transform="translate(408.2 2018.8) scale(0.9 1)" font-size="62" text-anchor="middle" stroke="#000" stroke-width="0.9" stroke-linejoin="miter">24</text>
<!-- p_52_row2 -->
<g transform="translate(620 1800) scale(0.34247)" stroke-width="10.80">
<path d="M380 935L560 690"/>
<path d="M755 1400L905 915"/>
<path d="M1235 1410L1350 1110"/>
<path d="M1570 1730L1655 1690"/>
<path d="M0 100L240 240"/>
<path d="M490.7 403.1C493 396.3 493.5 388 493.3 380.7C493 373.3 490.7 365.6 489.2 358.9C487.8 352.2 485.1 346.1 484.4 340.5C483.7 334.8 483.3 330 485 324.8C486.6 319.5 490 314.7 494.4 308.9C498.8 303.1 505.4 296.9 511.2 290C517 283.2 524.3 275.2 529.2 267.8C534.2 260.3 539 252 541 245.1C543.1 238.3 543.2 231.5 541.4 226.6C539.6 221.7 535.1 218.1 530.3 215.5C525.6 212.9 518.5 212.3 512.8 211.2C507.2 210.1 500.7 210.5 496.5 209C492.3 207.6 489 206.1 487.5 202.5C486 198.8 486.6 193.6 487.6 187C488.5 180.5 491.5 171.6 493.3 163.2C495.1 154.9 497.8 144.7 498.4 136.9C498.9 129.1 498.8 121.2 496.7 116.6C494.6 112 490.6 109.3 485.7 109.2C480.9 109.1 474 112.2 467.5 115.9C461 119.7 453.2 126.5 446.7 131.6C440.2 136.8 433.8 143.3 428.5 147C423.3 150.6 419 153.3 415.2 153.4C411.4 153.5 408.8 150.9 405.8 147.5C402.8 144 400.4 137.7 397.2 132.7C393.9 127.7 390.4 121.2 386.2 117.7C382 114.2 377.1 111.3 372 111.7C367 112 361.3 114.9 356.2 119.7C351.1 124.4 345.9 132.5 341.4 140.3C337 148.2 333.2 158.4 329.6 166.8C326.1 175.2 323.4 184.1 320.2 190.7C317 197.3 314.2 202.5 310.4 206.3C306.5 210.1 302.2 211.7 297 213.3C291.8 215 285.5 214.9 279.1 216.3C272.7 217.6 265 218.6 258.6 221.4C252.1 224.2 245.2 228.1 240.2 233.1C235.2 238.2 231.1 245 228.7 251.9C226.4 258.7 225.9 267 226.1 274.3C226.4 281.7 228.7 289.4 230.1 296.1C231.6 302.8 234.3 308.9 235 314.5C235.7 320.2 236.1 325 234.4 330.2C232.7 335.5 229.3 340.3 225 346.1C220.6 351.9 214 358.1 208.2 365C202.4 371.8 195.1 379.8 190.1 387.2C185.2 394.7 180.4 403 178.3 409.9C176.3 416.7 176.2 423.5 178 428.4C179.7 433.3 184.3 436.9 189 439.5C193.8 442.1 200.9 442.7 206.5 443.8C212.2 444.9 218.6 444.5 222.9 446C227.1 447.4 230.4 448.9 231.9 452.5C233.4 456.2 232.8 461.4 231.8 468C230.8 474.5 227.8 483.4 226 491.8C224.2 500.1 221.6 510.3 221 518.1C220.5 525.9 220.6 533.8 222.7 538.4C224.8 543 228.8 545.7 233.7 545.8C238.5 545.9 245.4 542.8 251.9 539.1C258.4 535.3 266.1 528.5 272.6 523.4C279.1 518.2 285.6 511.7 290.9 508C296.1 504.4 300.4 501.7 304.2 501.6C308 501.5 310.6 504.1 313.6 507.5C316.6 511 318.9 517.3 322.2 522.3C325.5 527.3 329 533.8 333.1 537.3C337.3 540.8 342.3 543.7 347.3 543.3C352.3 543 358.1 540.1 363.2 535.3C368.3 530.6 373.5 522.5 377.9 514.7C382.4 506.8 386.2 496.6 389.7 488.2C393.3 479.8 396 470.9 399.2 464.3C402.4 457.7 405.2 452.5 409 448.7C412.9 444.9 417.1 443.3 422.3 441.7C427.6 440 433.9 440.1 440.3 438.7C446.7 437.4 454.3 436.4 460.8 433.6C467.3 430.8 474.2 426.9 479.2 421.9C484.2 416.8 488.3 410 490.7 403.1Z" fill="#fff"/>
<path d="M521 420.6C523.3 413.8 523.8 405.5 523.6 398.2C523.3 390.8 521 383.1 519.6 376.4C518.1 369.7 515.4 363.6 514.7 358C514 352.3 513.6 347.5 515.3 342.3C516.9 337 520.4 332.2 524.7 326.4C529.1 320.6 535.7 314.4 541.5 307.5C547.3 300.7 554.6 292.7 559.6 285.3C564.5 277.8 569.3 269.5 571.3 262.6C573.4 255.8 573.5 249 571.7 244.1C570 239.2 565.4 235.6 560.7 233C555.9 230.4 548.8 229.8 543.2 228.7C537.5 227.6 531 228 526.8 226.5C522.6 225.1 519.3 223.6 517.8 220C516.3 216.3 516.9 211.1 517.9 204.5C518.9 198 521.8 189.1 523.6 180.7C525.4 172.4 528.1 162.2 528.7 154.4C529.2 146.6 529.1 138.7 527 134.1C524.9 129.5 520.9 126.8 516 126.7C511.2 126.6 504.3 129.7 497.8 133.4C491.3 137.2 483.5 144 477 149.1C470.6 154.3 464.1 160.8 458.8 164.5C453.6 168.1 449.3 170.8 445.5 170.9C441.7 171 439.1 168.4 436.1 165C433.1 161.5 430.8 155.2 427.5 150.2C424.2 145.2 420.7 138.7 416.5 135.2C412.4 131.7 407.4 128.8 402.4 129.2C397.3 129.5 391.6 132.4 386.5 137.2C381.4 141.9 376.2 150 371.8 157.8C367.3 165.7 363.5 175.9 359.9 184.3C356.4 192.7 353.7 201.6 350.5 208.2C347.3 214.8 344.5 220 340.7 223.8C336.8 227.6 332.6 229.2 327.3 230.8C322.1 232.5 315.8 232.4 309.4 233.8C303 235.1 295.4 236.1 288.9 238.9C282.4 241.7 275.5 245.6 270.5 250.6C265.5 255.7 261.4 262.5 259 269.4C256.7 276.2 256.2 284.5 256.4 291.8C256.7 299.2 259 306.9 260.4 313.6C261.9 320.3 264.6 326.4 265.3 332C266 337.7 266.4 342.5 264.7 347.7C263.1 353 259.6 357.8 255.3 363.6C250.9 369.4 244.3 375.6 238.5 382.5C232.7 389.3 225.4 397.3 220.4 404.7C215.5 412.2 210.7 420.5 208.7 427.4C206.6 434.2 206.5 441 208.3 445.9C210 450.8 214.6 454.4 219.3 457C224.1 459.6 231.2 460.2 236.8 461.3C242.5 462.4 249 462 253.2 463.5C257.4 464.9 260.7 466.4 262.2 470C263.7 473.7 263.1 478.9 262.1 485.5C261.1 492 258.2 500.9 256.4 509.3C254.6 517.6 251.9 527.8 251.3 535.6C250.8 543.4 250.9 551.3 253 555.9C255.1 560.5 259.1 563.2 264 563.3C268.8 563.4 275.7 560.3 282.2 556.6C288.7 552.8 296.5 546 303 540.9C309.4 535.7 315.9 529.2 321.2 525.5C326.4 521.9 330.7 519.2 334.5 519.1C338.3 519 340.9 521.6 343.9 525C346.9 528.5 349.2 534.8 352.5 539.8C355.8 544.8 359.3 551.3 363.5 554.8C367.6 558.3 372.6 561.2 377.6 560.8C382.7 560.5 388.4 557.6 393.5 552.8C398.6 548.1 403.8 540 408.2 532.2C412.7 524.3 416.5 514.1 420.1 505.7C423.6 497.3 426.3 488.4 429.5 481.8C432.7 475.2 435.5 470 439.3 466.2C443.2 462.4 447.4 460.8 452.7 459.2C457.9 457.5 464.2 457.6 470.6 456.2C477 454.9 484.6 453.9 491.1 451.1C497.6 448.3 504.5 444.4 509.5 439.4C514.5 434.3 518.6 427.5 521 420.6Z" fill="#fff"/>
<ellipse cx="390" cy="345" rx="100.8" ry="168" transform="rotate(30 390 345)" fill="#fff"/>
<path d="M462 348.1 L463.7 343.8 L465.4 339.5 L467 335.1 L468.5 330.8 L469.9 326.4 L471.2 322.1 L472.4 317.7 L473.6 313.4 L474.6 309.1 L475.5 304.8 L476.3 300.5 L477.1 296.3 L477.7 292.1 L478.2 287.9 L478.7 283.7 L479 279.6 L479.2 275.6 L479.4 271.5 L479.4 267.6 L479.3 263.7 L479.1 259.8 L478.9 256 L478.5 252.3 L478 248.7 L477.4 245.1 L476.7 241.6 L476 238.1 L475.1 234.8 L474.1 231.5 L473 228.3 L471.9 225.2 L470.6 222.2 L469.3 219.3 L467.8 216.5 L466.3 213.8 L464.6 211.2 L462.9 208.7 L461.1 206.3 L459.2 204 L457.2 201.9" fill="none" stroke-width="8.76"/>
<path d="M299.7 474.8 L302.5 475.4 L305.5 475.9 L308.4 476.3 L311.5 476.5 L314.5 476.6 L317.6 476.6 L320.8 476.5 L324 476.2 L327.2 475.8 L330.5 475.3 L333.8 474.6 L337.1 473.8 L340.4 472.9 L343.8 471.8 L347.2 470.7 L350.6 469.4 L354 468 L357.4 466.4 L360.8 464.8 L364.2 463 L367.6 461.1 L371.1 459.1 L374.5 457 L377.9 454.8 L381.3 452.4 L384.7 450 L388 447.4 L391.3 444.8 L394.7 442 L397.9 439.2 L401.2 436.2 L404.4 433.2 L407.6 430 L410.8 426.8 L413.9 423.5 L416.9 420.1 L420 416.6 L422.9 413.1 L425.8 409.5 L428.7 405.8" fill="none" stroke-width="8.76"/>
<path d="M310 305L570 445"/>
<ellipse cx="661.7" cy="492.5" rx="89.5" ry="213" transform="rotate(30 661.7 492.5)" fill="#fff"/>
<path d="M768.2 308 L824.5 340.5 L611.5 709.5 L555.2 677Z" fill="#fff" stroke="none"/>
<path d="M768.2 308L824.5 340.5M555.2 677L611.5 709.5" fill="none"/>
<ellipse cx="718" cy="525" rx="89.5" ry="213" transform="rotate(30 718 525)" fill="#fff"/>
<ellipse cx="718" cy="525" rx="79" ry="188" transform="rotate(30 718 525)" fill="#fff" stroke-width="11.68"/>
<path d="M751.1 499.7 L753.3 494.8 L755.5 489.9 L757.6 485 L759.5 480.1 L761.5 475.3 L763.3 470.4 L765 465.6 L766.7 460.8 L768.3 456 L769.7 451.3 L771.1 446.6 L772.4 442 L773.6 437.3 L774.7 432.8 L775.7 428.3 L776.6 423.8 L777.5 419.5 L778.2 415.2 L778.8 410.9 L779.3 406.7 L779.7 402.6 L780.1 398.6 L780.3 394.7 L780.4 390.9 L780.4 387.1 L780.3 383.5 L780.2 379.9 L779.9 376.5 L779.5 373.1 L779 369.9 L778.4 366.8 L777.7 363.7 L777 360.8 L776.1 358.1 L775.1 355.4 L774 352.9 L772.9 350.4 L771.6 348.2 L770.3 346 L768.8 344" fill="none" stroke-width="8.76"/>
<path d="M586.6 659.5 L589.1 659.8 L591.7 659.9 L594.3 659.8 L596.9 659.6 L599.7 659.3 L602.5 658.8 L605.3 658.1 L608.2 657.4 L611.2 656.5 L614.2 655.4 L617.2 654.2 L620.3 652.8 L623.4 651.4 L626.6 649.7 L629.8 648 L633 646.1 L636.3 644.1 L639.6 641.9 L642.9 639.6 L646.2 637.2 L649.6 634.7 L653 632 L656.3 629.3 L659.7 626.4 L663.1 623.4 L666.5 620.2 L669.9 617 L673.3 613.6 L676.7 610.2 L680 606.7 L683.4 603 L686.8 599.3 L690.1 595.4 L693.4 591.5 L696.7 587.5 L699.9 583.4 L703.2 579.2 L706.3 575 L709.5 570.7 L712.6 566.3" fill="none" stroke-width="8.76"/>
<path d="M685 335 L725 360 L722 385 M725 325 L728 362 L770 350 L735 325 Z" fill="#fff"/>
<path d="M640 490L885 625"/>
<ellipse cx="990.3" cy="687" rx="118" ry="236" transform="rotate(30 990.3 687)" fill="#fff"/>
<path d="M1108.3 482.6 L1188 528.6 L952 937.4 L872.3 891.4Z" fill="#fff" stroke="none"/>
<path d="M1108.3 482.6L1188 528.6M872.3 891.4L952 937.4" fill="none"/>
<ellipse cx="1070" cy="733" rx="118" ry="236" transform="rotate(30 1070 733)" fill="#fff"/>
<ellipse cx="1070" cy="733" rx="111" ry="222" transform="rotate(30 1070 733)" fill="#fff" stroke-width="8.18"/>
<ellipse cx="1070" cy="733" rx="101.5" ry="203" transform="rotate(30 1070 733)" fill="#fff" stroke-width="11.68"/>
<path d="M1099.3 701.9 L1101.6 696.6 L1103.8 691.2 L1106 685.9 L1108 680.5 L1109.9 675.2 L1111.8 669.8 L1113.5 664.5 L1115.1 659.3 L1116.6 654 L1118 648.8 L1119.3 643.6 L1120.5 638.4 L1121.6 633.3 L1122.5 628.2 L1123.4 623.2 L1124.1 618.3 L1124.7 613.4 L1125.2 608.6 L1125.6 603.8 L1125.9 599.1 L1126 594.5 L1126.1 590 L1126 585.6 L1125.8 581.3 L1125.5 577 L1125.1 572.9 L1124.5 568.8 L1123.9 564.9 L1123.1 561.1 L1122.2 557.4 L1121.2 553.8 L1120.1 550.3 L1118.9 546.9 L1117.5 543.7 L1116.1 540.6 L1114.6 537.6 L1112.9 534.8 L1111.1 532.1 L1109.3 529.5 L1107.3 527.1" fill="none" stroke-width="8.76"/>
<path d="M910.3 868.3 L913.4 868.7 L916.6 869.1 L919.8 869.2 L923.1 869.3 L926.4 869.1 L929.8 868.8 L933.3 868.4 L936.8 867.7 L940.4 867 L944 866 L947.7 864.9 L951.4 863.7 L955.1 862.3 L958.9 860.7 L962.7 859 L966.5 857.2 L970.3 855.2 L974.2 853 L978.1 850.8 L982 848.3 L985.9 845.8 L989.9 843 L993.8 840.2 L997.7 837.2 L1001.6 834.1 L1005.5 830.9 L1009.4 827.5 L1013.3 824 L1017.2 820.4 L1021.1 816.7 L1024.9 812.9 L1028.7 808.9 L1032.5 804.9 L1036.2 800.7 L1039.9 796.5 L1043.5 792.2 L1047.2 787.7 L1050.7 783.2 L1054.2 778.6 L1057.7 773.9" fill="none" stroke-width="8.76"/>
<path d="M985 690L1250 835"/>
<ellipse cx="1347.7" cy="875" rx="101" ry="202" transform="rotate(30 1347.7 875)" fill="#fff"/>
<path d="M1448.7 700.1 L1634 807.1 L1432 1156.9 L1246.7 1049.9Z" fill="#fff" stroke="none"/>
<path d="M1448.7 700.1L1634 807.1M1246.7 1049.9L1432 1156.9" fill="none"/>
<ellipse cx="1533" cy="982" rx="101" ry="202" transform="rotate(30 1533 982)" fill="#fff"/>
<path d="M1461.4 708.3 L1453.8 706.2 L1445.6 705.1 L1436.9 705.1 L1427.9 706.1 L1418.5 708.3 L1408.8 711.5 L1398.8 715.8 L1388.7 721 L1378.4 727.3 L1368.1 734.6 L1357.8 742.7 L1347.6 751.7 L1337.4 761.5 L1327.5 772 L1317.8 783.3 L1308.4 795.1 L1299.4 807.5 L1290.8 820.4 L1282.6 833.7 L1275 847.3 L1267.9 861.1 L1261.4 875.1 L1255.6 889.1 L1250.4 903.2 L1245.9 917.1 L1242.2 930.9 L1239.2 944.4 L1237 957.6 L1235.5 970.3 L1234.9 982.5 L1235 994.2 L1236 1005.2 L1237.7 1015.6 L1240.2 1025.1 L1243.5 1033.9 L1247.6 1041.7 L1252.3 1048.7 L1257.7 1054.7 L1263.8 1059.6 L1270.6 1063.6" fill="none" stroke-width="8.18"/>
<path d="M1604.3 790.8 L1596.7 788.7 L1588.5 787.6 L1579.8 787.6 L1570.8 788.6 L1561.4 790.8 L1551.7 794 L1541.7 798.3 L1531.6 803.5 L1521.3 809.8 L1511 817.1 L1500.7 825.2 L1490.5 834.2 L1480.3 844 L1470.4 854.5 L1460.7 865.8 L1451.3 877.6 L1442.3 890 L1433.7 902.9 L1425.5 916.2 L1417.9 929.8 L1410.8 943.6 L1404.3 957.6 L1398.5 971.6 L1393.3 985.7 L1388.8 999.6 L1385.1 1013.4 L1382.1 1026.9 L1379.9 1040.1 L1378.4 1052.8 L1377.8 1065 L1377.9 1076.7 L1378.9 1087.7 L1380.6 1098.1 L1383.1 1107.6 L1386.4 1116.4 L1390.4 1124.2 L1395.2 1131.2 L1400.6 1137.2 L1406.7 1142.1 L1413.5 1146.1" fill="none" stroke-width="8.18"/>
<path d="M1452 710 L1508.3 742.5 L1481.5 746.3 L1425.2 713.8Z" fill="none" stroke-width="8.76"/>
<path d="M1521.3 750 L1577.6 782.5 L1550.8 786.3 L1494.5 753.8Z" fill="none" stroke-width="8.76"/>
<path d="M1405.1 721.9 L1461.4 754.4 L1431.3 773.4 L1375 740.9Z" fill="none" stroke-width="8.76"/>
<path d="M1474.4 761.9 L1530.7 794.4 L1500.6 813.4 L1444.3 780.9Z" fill="none" stroke-width="8.76"/>
<path d="M1354.2 758.6 L1410.5 791.1 L1381.4 822.4 L1325.1 789.9Z" fill="none" stroke-width="8.76"/>
<path d="M1423.4 798.6 L1479.7 831.1 L1450.7 862.4 L1394.4 829.9Z" fill="none" stroke-width="8.76"/>
<path d="M1306.5 814.8 L1362.8 847.3 L1339.1 886.3 L1282.8 853.8Z" fill="none" stroke-width="8.76"/>
<path d="M1375.8 854.8 L1432.1 887.3 L1408.4 926.3 L1352.1 893.8Z" fill="none" stroke-width="8.76"/>
<path d="M1269.2 882.1 L1325.5 914.6 L1310.5 955.8 L1254.2 923.3Z" fill="none" stroke-width="8.76"/>
<path d="M1338.5 922.1 L1394.7 954.6 L1379.8 995.8 L1323.5 963.3Z" fill="none" stroke-width="8.76"/>
<path d="M1247.5 951 L1303.8 983.5 L1299.8 1020.7 L1243.5 988.2Z" fill="none" stroke-width="8.76"/>
<path d="M1316.8 991 L1373.1 1023.5 L1369.1 1060.7 L1312.8 1028.2Z" fill="none" stroke-width="8.76"/>
<path d="M1244.8 1011.2 L1301.1 1043.7 L1308.6 1071.6 L1252.3 1039.1Z" fill="none" stroke-width="8.76"/>
<path d="M1314.1 1051.2 L1370.3 1083.7 L1377.9 1111.6 L1321.6 1079.1Z" fill="none" stroke-width="8.76"/>
<path d="M1261.3 1054.1 L1317.6 1086.6 L1335.5 1101.1 L1279.2 1068.6Z" fill="none" stroke-width="8.76"/>
<path d="M1330.6 1094.1 L1386.9 1126.6 L1404.8 1141.1 L1348.5 1108.6Z" fill="none" stroke-width="8.76"/>
<ellipse cx="1533" cy="982" rx="89" ry="178" transform="rotate(30 1533 982)" fill="#fff" stroke-width="11.68"/>
<path d="M1460.8 898.3 L1462.8 893.6 L1464.7 888.9 L1466.6 884.3 L1468.4 879.6 L1470.1 874.9 L1471.7 870.2 L1473.2 865.6 L1474.6 861 L1475.9 856.4 L1477.2 851.8 L1478.3 847.2 L1479.3 842.7 L1480.3 838.3 L1481.1 833.8 L1481.8 829.4 L1482.5 825.1 L1483 820.8 L1483.5 816.6 L1483.8 812.5 L1484 808.4 L1484.2 804.3 L1484.2 800.4 L1484.1 796.5 L1484 792.7 L1483.7 789 L1483.3 785.4 L1482.8 781.9 L1482.3 778.4 L1481.6 775.1 L1480.8 771.8 L1479.9 768.7 L1479 765.6 L1477.9 762.7 L1476.7 759.9 L1475.5 757.2 L1474.1 754.6 L1472.7 752.1 L1471.1 749.7 L1469.5 747.5 L1467.8 745.3" fill="none" stroke-width="8.76"/>
<path d="M1295.4 1043.8 L1298.1 1044.3 L1300.9 1044.6 L1303.7 1044.7 L1306.6 1044.7 L1309.5 1044.6 L1312.5 1044.3 L1315.5 1043.9 L1318.6 1043.4 L1321.7 1042.7 L1324.9 1041.9 L1328.1 1040.9 L1331.3 1039.9 L1334.6 1038.6 L1337.9 1037.3 L1341.2 1035.8 L1344.6 1034.2 L1347.9 1032.4 L1351.3 1030.5 L1354.7 1028.5 L1358.2 1026.4 L1361.6 1024.2 L1365 1021.8 L1368.4 1019.3 L1371.9 1016.7 L1375.3 1014 L1378.7 1011.1 L1382.1 1008.2 L1385.6 1005.1 L1388.9 1002 L1392.3 998.7 L1395.7 995.4 L1399 991.9 L1402.3 988.4 L1405.6 984.8 L1408.8 981.1 L1412 977.3 L1415.2 973.4 L1418.3 969.4 L1421.4 965.4 L1424.4 961.3" fill="none" stroke-width="8.76"/>
<path d="M1469.7 889.8L1624.7 978.3M1480 859.7L1635.2 947.7M1486.4 830.7L1641.6 918.2M1488.5 803.8L1643.8 890.9M1486.5 780.1L1641.7 866.8M1480.2 760.4L1635.3 846.7M1303 1046.8L1455 1138M1321.8 1046.1L1474.3 1137.3M1342.6 1039.6L1495.4 1130.7M1364.5 1027.6L1517.6 1118.5M1386.7 1010.5L1540.2 1101.1M1408.3 989L1562.2 1079.2" fill="none" stroke-width="8.76"/>
<path d="M1490 960L1690 1075"/>
</g>
<text transform="translate(720 2179) scale(0.9 1)" font-size="62" text-anchor="middle" stroke="#000" stroke-width="0.9" stroke-linejoin="miter">26</text>
<text transform="translate(876.2 2336.5) scale(0.9 1)" font-size="62" text-anchor="middle" stroke="#000" stroke-width="0.9" stroke-linejoin="miter">27</text>
<text transform="translate(1035.4 2339.9) scale(0.9 1)" font-size="62" text-anchor="middle" stroke="#000" stroke-width="0.9" stroke-linejoin="miter">28</text>
<!-- p_53_gear29 -->
<g transform="translate(1100 2000) scale(0.31311)" stroke-width="11.82">
<path d="M1400 895L1770 570"/>
<path d="M185 1250L280 1200"/>
<path d="M310 530L345 550"/>
<path d="M771.5 826.2 L817.2 833.9 L832.9 804.7 L797.9 777.4 L806.9 759.1 L857.6 754.3 L870.8 724.4 L828.9 709.1 L836.2 690.5 L890.8 673.4 L901.1 643.5 L853.3 640.6 L858.7 622.3 L915.9 593.2 L923 564.2 L870.6 573.8 L873.9 556.2 L932.3 515.9 L936 488.3 L880.2 510.2 L881.5 493.7 L939.5 443.2 L939.8 417.8 L882 451.3 L881.1 436.5 L937.4 376.9 L934.3 354.4 L875.9 398.8 L872.9 385.8 L926.1 318.7 L919.6 299.6 L862 353.7 L857 343 L905.7 270.1 L896 254.7 L840.8 317.3 L833.9 309.1 L876.9 232.1 L864.3 221 L812.7 290.5 L804 285 L840.4 205.8 L825.1 199.1 L778.4 273.9 L768.2 271.2 L796.9 191.8 L779.3 189.8 L738.7 267.8 L727.2 268.1 L747.7 190.4 L728.3 193.1 L694.7 272.6 L682.2 275.7 L693.9 201.7 L673.1 209 L647.4 288 L634.2 293.9 L636.8 225.3 L615.2 237.1 L598 313.6 L584.5 322.3 L577.9 260.8 L555.9 276.8 L547.7 348.9 L534.1 360 L518.6 307.3 L496.8 327 L497.7 393 L484.5 406.3 L460.3 363.5 L439.3 386.5 L449.3 444.8 L436.7 459.9 L404.5 428.1 L384.8 453.8 L403.7 502.9 L392 519.5 L352.6 499.6 L334.6 527.4 L362 566.1 L351.5 583.8 L305.8 576.1 L290.1 605.3 L325.1 632.6 L316.1 650.9 L265.3 655.7 L252.2 685.6 L294.1 700.9 L286.8 719.5 L232.2 736.6 L221.9 766.5 L269.7 769.4 L264.3 787.7 L207.1 816.8 L200 845.8 L252.4 836.2 L249.1 853.8 L190.7 894.1 L187 921.7 L242.8 899.8 L241.5 916.3 L183.5 966.8 L183.2 992.2 L241 958.7 L241.9 973.5 L185.6 1033.1 L188.7 1055.6 L247.1 1011.2 L250.1 1024.2 L196.9 1091.3 L203.4 1110.4 L260.9 1056.3 L266 1067 L217.3 1139.9 L227 1155.3 L282.2 1092.7 L289.1 1100.9 L246 1177.9 L258.7 1189 L310.3 1119.5 L319 1125 L282.6 1204.2 L297.9 1210.9 L344.6 1136.1 L354.8 1138.8 L326 1218.2 L343.6 1220.2 L384.3 1142.2 L395.8 1141.9 L375.3 1219.6 L394.7 1216.9 L428.3 1137.4 L440.8 1134.3 L429.1 1208.3 L449.9 1201 L475.6 1122 L488.7 1116.1 L486.2 1184.7 L507.8 1172.9 L525 1096.4 L538.5 1087.7 L545.1 1149.2 L567.1 1133.2 L575.3 1061.1 L588.9 1050 L604.4 1102.7 L626.2 1083 L625.2 1017 L638.5 1003.7 L662.7 1046.5 L683.7 1023.5 L673.6 965.2 L686.3 950.1 L718.5 981.9 L738.2 956.2 L719.3 907.1 L731 890.5 L770.4 910.4 L788.4 882.6 L761 843.9Z" fill="#fff"/>
<path d="M804 285 L1020.5 410 L535.5 1250 L319 1125Z" fill="#fff" stroke="none"/>
<path d="M905.7 270.1 L1074 341 L1059.9 332.3 L896 254.7Z" fill="#fff"/>
<path d="M876.9 232.1 L1033.5 321.5 L1016.9 317.4 L864.3 221Z" fill="#fff"/>
<path d="M840.4 205.8 L986.7 314.4 L968.1 315 L825.1 199.1Z" fill="#fff"/>
<path d="M796.9 191.8 L934.8 320.1 L914.6 325.4 L779.3 189.8Z" fill="#fff"/>
<path d="M747.7 190.4 L879 338.3 L857.7 348.2 L728.3 193.1Z" fill="#fff"/>
<path d="M693.9 201.7 L820.7 368.6 L798.8 382.8 L673.1 209Z" fill="#fff"/>
<path d="M636.8 225.3 L761.4 410.3 L739.5 428.4 L615.2 237.1Z" fill="#fff"/>
<path d="M577.9 260.8 L702.5 462.4 L681.1 484 L555.9 276.8Z" fill="#fff"/>
<path d="M518.6 307.3 L645.4 523.4 L625.1 548 L496.8 327Z" fill="#fff"/>
<path d="M460.3 363.5 L591.6 592.1 L572.8 619 L439.3 386.5Z" fill="#fff"/>
<path d="M404.5 428.1 L542.4 666.6 L525.6 695.2 L384.8 453.8Z" fill="#fff"/>
<path d="M352.6 499.6 L499 745.1 L484.6 774.7 L334.6 527.4Z" fill="#fff"/>
<path d="M305.8 576.1 L462.5 825.7 L450.9 855.6 L290.1 605.3Z" fill="#fff"/>
<path d="M265.3 655.7 L433.7 906.4 L425.2 935.9 L252.2 685.6Z" fill="#fff"/>
<path d="M232.2 736.6 L413.4 985.2 L408.1 1013.5 L221.9 766.5Z" fill="#fff"/>
<path d="M207.1 816.8 L402.1 1060.2 L400.2 1086.6 L200 845.8Z" fill="#fff"/>
<path d="M190.7 894.1 L400 1129.5 L401.6 1153.4 L187 921.7Z" fill="#fff"/>
<path d="M183.5 966.8 L407.3 1191.5 L412.3 1212.2 L183.2 992.2Z" fill="#fff"/>
<path d="M185.6 1033.1 L423.6 1244.6 L431.9 1261.7 L188.7 1055.6Z" fill="#fff"/>
<path d="M196.9 1091.3 L448.8 1287.4 L460.1 1300.5 L203.4 1110.4Z" fill="#fff"/>
<path d="M217.3 1139.9 L482 1319 L496.1 1327.7 L227 1155.3Z" fill="#fff"/>
<path d="M246 1177.9 L522.5 1338.5 L539.1 1342.6 L258.7 1189Z" fill="#fff"/>
<path d="M282.6 1204.2 L569.3 1345.6 L587.9 1345 L297.9 1210.9Z" fill="#fff"/>
<path d="M326 1218.2 L621.2 1339.9 L641.4 1334.6 L343.6 1220.2Z" fill="#fff"/>
<path d="M1040.4 846 L1093.5 834.3 L1105.1 804.4 L1059.8 795.9 L1066.1 777.5 L1122.3 753.6 L1130.8 724.1 L1080.3 728.2 L1084.6 710.2 L1142.6 674.8 L1147.9 646.5 L1093.4 662.9 L1095.6 645.9 L1153.9 599.8 L1155.8 573.4 L1098.7 601.8 L1098.8 586.2 L1156 530.5 L1154.4 506.6 L1096.1 546.3 L1094 532.4 L1148.7 468.5 L1143.7 447.8 L1085.6 497.7 L1081.5 486 L1132.4 415.4 L1124.1 398.3 L1067.6 457.4 L1061.5 448 L1107.2 372.6 L1095.9 359.5 L1042.5 426.2 L1034.6 419.5 L1074 341 L1059.9 332.3 L1010.8 405 L1001.3 401 L1033.5 321.5 L1016.9 317.4 L973.5 394.2 L962.5 393.1 L986.7 314.4 L968.1 315 L931.3 394.2 L919.2 396 L934.8 320.1 L914.6 325.4 L885.3 404.8 L872.4 409.5 L879 338.3 L857.7 348.2 L836.7 426 L823.2 433.5 L820.7 368.6 L798.8 382.8 L786.6 457.1 L773 467.1 L761.4 410.3 L739.5 428.4 L736.3 497.4 L722.9 509.7 L702.5 462.4 L681.1 484 L687.1 545.9 L674.1 560.2 L645.4 523.4 L625.1 548 L640.1 601.4 L627.9 617.4 L591.6 592.1 L572.8 619 L596.5 662.5 L585.4 679.7 L542.4 666.6 L525.6 695.2 L557.3 727.7 L547.7 745.8 L499 745.1 L484.6 774.7 L523.6 795.5 L515.6 814 L462.5 825.7 L450.9 855.6 L496.2 864.1 L489.9 882.5 L433.7 906.4 L425.2 935.9 L475.7 931.8 L471.4 949.8 L413.4 985.2 L408.1 1013.5 L462.6 997.1 L460.4 1014.1 L402.1 1060.2 L400.2 1086.6 L457.3 1058.2 L457.2 1073.8 L400 1129.5 L401.6 1153.4 L459.9 1113.7 L462 1127.6 L407.3 1191.5 L412.3 1212.2 L470.4 1162.3 L474.5 1174 L423.6 1244.6 L431.9 1261.7 L488.4 1202.6 L494.5 1212 L448.8 1287.4 L460.1 1300.5 L513.5 1233.8 L521.4 1240.5 L482 1319 L496.1 1327.7 L545.2 1255 L554.7 1259 L522.5 1338.5 L539.1 1342.6 L582.5 1265.8 L593.5 1266.9 L569.3 1345.6 L587.9 1345 L624.7 1265.8 L636.8 1264 L621.2 1339.9 L641.4 1334.6 L670.7 1255.2 L683.6 1250.5 L677 1321.7 L698.3 1311.8 L719.3 1234 L732.8 1226.5 L735.3 1291.4 L757.2 1277.2 L769.4 1202.9 L783 1192.9 L794.6 1249.7 L816.5 1231.6 L819.7 1162.6 L833.1 1150.3 L853.5 1197.6 L874.9 1176 L868.9 1114.1 L881.9 1099.8 L910.6 1136.6 L930.9 1112 L915.9 1058.6 L928.1 1042.6 L964.4 1067.9 L983.2 1041 L959.5 997.5 L970.6 980.3 L1013.6 993.4 L1030.4 964.8 L998.7 932.3 L1008.3 914.2 L1057 914.9 L1071.4 885.3 L1032.4 864.5Z" fill="#fff"/>
<ellipse cx="778" cy="830" rx="214" ry="428" transform="rotate(30 778 830)" fill="#fff"/>
<path d="M967.2 743.9 L968.6 736.2 L969.8 728.7 L970.8 721.2 L971.6 713.9 L972.3 706.6 L972.7 699.5 L973 692.5 L973.1 685.6 L973 678.8 L972.8 672.2 L972.3 665.7 L971.7 659.4 L970.9 653.3 L969.9 647.3 L968.8 641.5 L967.4 635.8 L965.9 630.4 L964.2 625.1 L962.3 620 L960.3 615.2 L958.1 610.5 L955.7 606 L953.2 601.7 L950.5 597.7 L947.6 593.8 L944.6 590.2 L941.4 586.8 L938 583.6 L934.6 580.7 L930.9 578 L927.2 575.5 L923.2 573.3 L919.2 571.3 L915 569.5 L910.7 568 L906.3 566.7 L901.7 565.7 L897.1 564.9 L892.3 564.4 L887.4 564.1" fill="none" stroke-width="10.22"/>
<path d="M588.8 916.1 L587.5 923.2 L586.4 930.2 L585.4 937.2 L584.6 944 L583.9 950.8 L583.4 957.5 L583.1 964 L582.9 970.5 L582.9 976.9 L583 983.1 L583.3 989.2 L583.7 995.2 L584.3 1001 L585.1 1006.7 L586 1012.3 L587.1 1017.7 L588.3 1023 L589.7 1028.1 L591.2 1033 L592.8 1037.8 L594.7 1042.4 L596.6 1046.9 L598.7 1051.2 L601 1055.3 L603.4 1059.2 L605.9 1062.9 L608.6 1066.4 L611.4 1069.8 L614.4 1073 L617.5 1075.9 L620.7 1078.7 L624 1081.3 L627.5 1083.6 L631.1 1085.8 L634.8 1087.8 L638.6 1089.5 L642.5 1091 L646.5 1092.4 L650.7 1093.5 L654.9 1094.4" fill="none" stroke-width="10.22"/>
<ellipse cx="800" cy="850" rx="111" ry="222" transform="rotate(30 800 850)" fill="#fff"/>
<ellipse cx="800" cy="850" rx="95" ry="190" transform="rotate(30 800 850)" fill="#fff" stroke-width="12.78"/>
<path d="M837.9 836.8 L840.4 831.3 L842.7 825.8 L845 820.3 L847.1 814.8 L849.2 809.3 L851.1 803.8 L852.9 798.3 L854.5 792.9 L856 787.5 L857.4 782.1 L858.7 776.8 L859.8 771.5 L860.8 766.3 L861.6 761.2 L862.3 756.1 L862.9 751.1 L863.3 746.2 L863.6 741.4 L863.8 736.6 L863.8 732 L863.6 727.5 L863.4 723.1 L863 718.8 L862.4 714.7 L861.7 710.6 L860.9 706.7 L859.9 703 L858.8 699.3 L857.6 695.9 L856.2 692.5 L854.7 689.4 L853 686.4 L851.3 683.5 L849.4 680.9 L847.4 678.3 L845.2 676 L843 673.8 L840.6 671.9 L838.1 670.1 L835.5 668.4" fill="none" stroke-width="9.58"/>
<path d="M667.5 974.8 L670.2 975.7 L673.1 976.4 L676 977 L679 977.4 L682.1 977.7 L685.2 977.7 L688.5 977.6 L691.7 977.4 L695.1 976.9 L698.5 976.3 L701.9 975.6 L705.4 974.6 L709 973.5 L712.5 972.3 L716.2 970.8 L719.8 969.2 L723.5 967.5 L727.2 965.6 L731 963.5 L734.7 961.3 L738.5 958.9 L742.3 956.4 L746.1 953.7 L749.8 950.9 L753.6 948 L757.4 944.9 L761.2 941.7 L764.9 938.3 L768.7 934.9 L772.4 931.3 L776.1 927.5 L779.7 923.7 L783.4 919.8 L787 915.7 L790.5 911.6 L794 907.3 L797.4 903 L800.8 898.5 L804.2 894 L807.5 889.4" fill="none" stroke-width="9.58"/>
<path d="M745 795L1100 995"/>
<ellipse cx="1227.1" cy="1081" rx="134.6" ry="254" transform="rotate(30 1227.1 1081)" fill="#fff"/>
<path d="M1354.1 861 L1439 910 L1185 1350 L1100.1 1301Z" fill="#fff" stroke="none"/>
<path d="M1354.1 861L1439 910M1100.1 1301L1185 1350" fill="none"/>
<ellipse cx="1312" cy="1130" rx="134.6" ry="254" transform="rotate(30 1312 1130)" fill="#fff"/>
<ellipse cx="1312" cy="1130" rx="119.8" ry="226" transform="rotate(30 1312 1130)" fill="#fff" stroke-width="12.78"/>
<path d="M1355.1 1101.6 L1357.6 1095.6 L1360 1089.7 L1362.4 1083.7 L1364.6 1077.7 L1366.6 1071.8 L1368.6 1065.8 L1370.5 1059.9 L1372.2 1054 L1373.8 1048.1 L1375.3 1042.2 L1376.6 1036.4 L1377.8 1030.7 L1378.9 1024.9 L1379.9 1019.3 L1380.7 1013.6 L1381.4 1008.1 L1382 1002.6 L1382.5 997.2 L1382.8 991.8 L1383 986.6 L1383 981.4 L1382.9 976.3 L1382.7 971.3 L1382.3 966.4 L1381.9 961.6 L1381.2 957 L1380.5 952.4 L1379.6 947.9 L1378.6 943.6 L1377.5 939.4 L1376.2 935.3 L1374.8 931.4 L1373.3 927.6 L1371.7 923.9 L1369.9 920.3 L1368 917 L1366 913.7 L1363.9 910.6 L1361.7 907.7 L1359.3 904.9" fill="none" stroke-width="9.58"/>
<path d="M1140.7 1283.6 L1144.3 1284.2 L1148 1284.7 L1151.7 1284.9 L1155.5 1285.1 L1159.4 1285 L1163.3 1284.7 L1167.3 1284.3 L1171.4 1283.7 L1175.5 1283 L1179.7 1282 L1183.9 1280.9 L1188.1 1279.6 L1192.4 1278.1 L1196.8 1276.5 L1201.1 1274.7 L1205.5 1272.7 L1209.9 1270.6 L1214.4 1268.3 L1218.8 1265.8 L1223.3 1263.2 L1227.7 1260.4 L1232.2 1257.4 L1236.7 1254.3 L1241.1 1251.1 L1245.6 1247.7 L1250 1244.2 L1254.5 1240.5 L1258.9 1236.7 L1263.3 1232.7 L1267.6 1228.7 L1272 1224.5 L1276.3 1220.1 L1280.5 1215.7 L1284.7 1211.1 L1288.9 1206.4 L1293 1201.6 L1297.1 1196.8 L1301.1 1191.8 L1305 1186.7 L1308.9 1181.5" fill="none" stroke-width="9.58"/>
<path d="M1225 1065L1385 1160M1400 1165L1465 1200M1490 1215L1635 1300" fill="none"/>
</g>
<text transform="translate(1688 2176.7) scale(0.9 1)" font-size="62" text-anchor="middle" stroke="#000" stroke-width="0.9" stroke-linejoin="miter">30</text>
<text transform="translate(1123 2435.1) scale(0.9 1)" font-size="62" text-anchor="middle" stroke="#000" stroke-width="0.9" stroke-linejoin="miter">29</text>
<text transform="translate(561 2174.1) scale(0.9 1)" font-size="62" text-anchor="middle" stroke="#000" stroke-width="0.9" stroke-linejoin="miter">25</text>
<path d="M583 2108L697 1985"/>
</svg>
</body></html>
